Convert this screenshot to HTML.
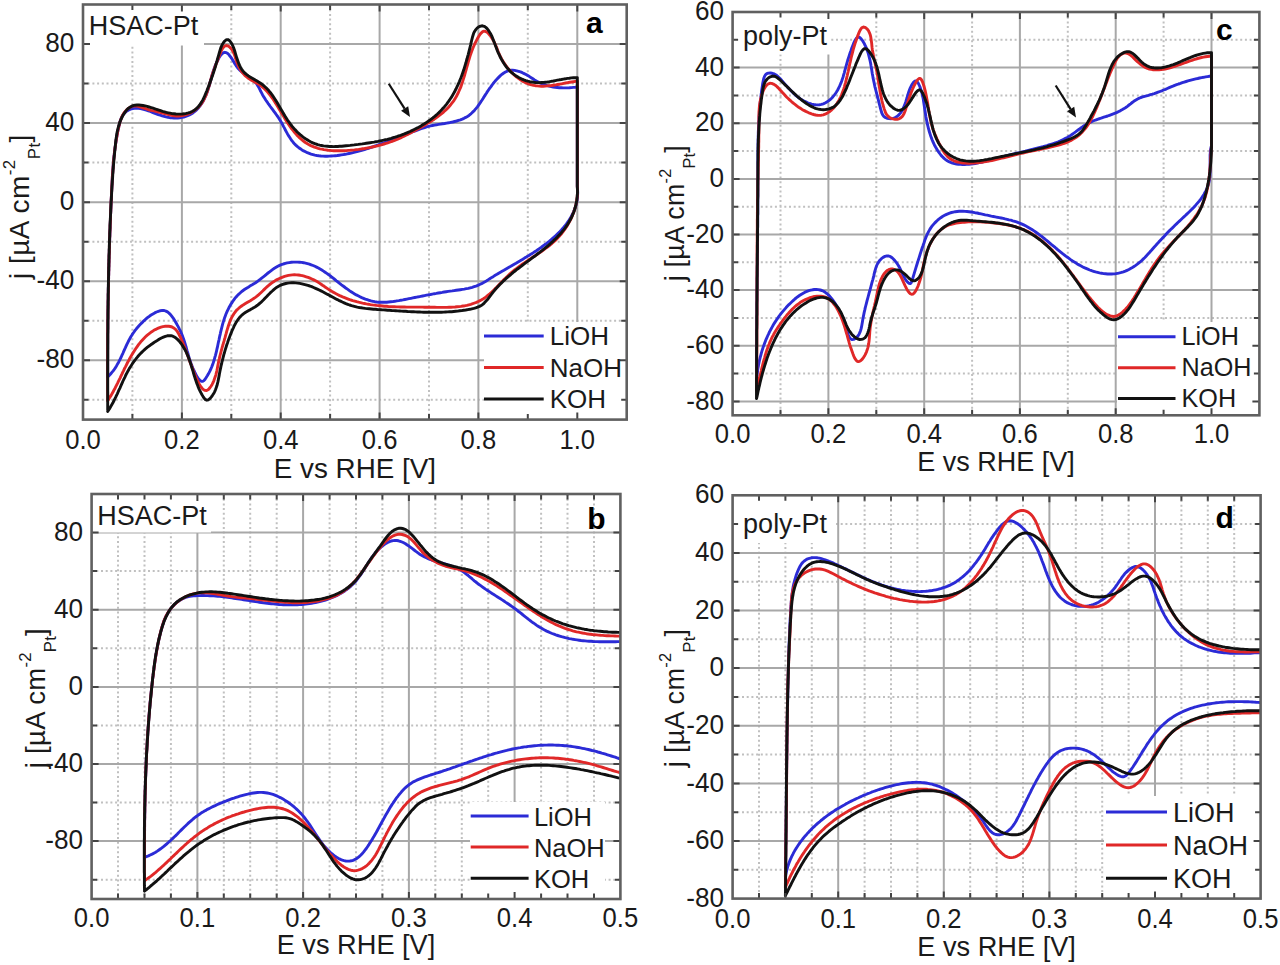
<!DOCTYPE html>
<html><head><meta charset="utf-8"><style>
html,body{margin:0;padding:0;background:#fff;}
svg{display:block;}
text{font-family:"Liberation Sans", sans-serif;fill:#1a1a1a;}
.tl{font-size:27px;}
.al{font-size:26.5px;}
.yl{font-size:26.5px;}
.nm{font-size:27px;}
.lt{font-size:30px;font-weight:bold;fill:#000;}
.lg{font-size:26px;}
.gs{stroke:#a8a8a8;stroke-width:2;}
.gd{stroke:#c0c0c0;stroke-width:2;stroke-dasharray:2 2.7;}
.tk{stroke:#444;stroke-width:2;fill:none;}
.fr{stroke:#606060;stroke-width:2.6;fill:none;}
.cv{fill:none;stroke-width:2.9;stroke-linejoin:round;stroke-linecap:round;}
</style></head><body>
<svg width="1280" height="965" viewBox="0 0 1280 965">
<path d="M132.4,4.5V419.6M231.3,4.5V419.6M330.1,4.5V419.6M429.0,4.5V419.6M527.8,4.5V419.6M83.0,399.8H626.7M83.0,320.8H626.7M83.0,241.7H626.7M83.0,162.6H626.7M83.0,83.6H626.7" class="gd"/>
<path d="M181.9,4.5V419.6M280.7,4.5V419.6M379.6,4.5V419.6M478.4,4.5V419.6M577.3,4.5V419.6M83.0,360.3H626.7M83.0,281.2H626.7M83.0,202.2H626.7M83.0,123.1H626.7M83.0,44.0H626.7" class="gs"/>
<rect x="83" y="4.5" width="121.0" height="41.0" fill="#fff"/>
<rect x="484" y="322" width="142.7" height="97.6" fill="#fff"/>
<clipPath id="clipa"><rect x="83.0" y="4.5" width="543.7" height="415.1"/></clipPath><g clip-path="url(#clipa)">
<path d="M107.7,376.9 107.7,374.9 107.7,372.9 107.7,370.9 107.7,368.9 107.7,366.9 107.7,364.9 107.7,362.9 107.6,360.9 107.6,358.9 107.6,356.9 107.6,354.9 107.6,352.9 107.6,350.8 107.7,348.8 107.7,346.8 107.7,344.8 107.7,342.8 107.7,340.8 107.7,338.8 107.7,336.8 107.7,334.8 107.7,332.8 107.7,330.8 107.8,328.8 107.8,326.7 107.8,324.7 107.8,322.7 107.8,320.7 107.9,318.7 107.9,316.7 107.9,314.7 107.9,312.7 108.0,310.7 108.0,308.6 108.0,306.6 108.1,304.6 108.1,302.6 108.1,300.6 108.2,298.6 108.2,296.6 108.2,294.6 108.3,292.5 108.3,290.5 108.3,288.5 108.4,286.5 108.4,284.5 108.5,282.5 108.5,280.5 108.6,278.5 108.6,276.4 108.7,274.4 108.7,272.4 108.8,270.4 108.8,268.4 108.9,266.4 108.9,264.4 109.0,262.4 109.0,260.4 109.1,258.3 109.1,256.3 109.2,254.3 109.3,252.3 109.3,250.3 109.4,248.3 109.5,246.3 109.5,244.3 109.6,242.3 109.7,240.3 109.7,238.3 109.8,236.2 109.9,234.2 109.9,232.2 110.0,230.2 110.1,228.2 110.2,226.2 110.2,224.2 110.3,222.2 110.4,220.2 110.5,218.2 110.5,216.2 110.6,214.2 110.7,212.2 110.8,210.2 110.9,208.2 111.0,206.2 111.1,204.2 111.1,202.2 111.2,200.2 111.3,198.2 111.4,196.2 111.5,194.2 111.6,192.2 111.7,190.2 111.8,188.2 111.9,186.2 112.0,184.2 112.1,182.2 112.2,180.2 112.3,178.2 112.4,176.2 112.6,174.2 112.7,172.2 112.8,170.2 113.0,168.2 113.1,166.2 113.3,164.2 113.5,162.2 113.6,160.2 113.8,158.2 114.0,156.2 114.3,154.2 114.5,152.2 114.7,150.2 115.0,148.2 115.3,146.2 115.6,144.2 115.9,142.2 116.2,140.2 116.5,138.2 116.9,136.2 117.2,134.1 117.6,132.1 118.0,130.1 118.5,128.1 118.9,126.1 119.4,124.1 119.9,122.1 120.5,120.2 121.2,118.3 122.1,116.6 123.0,114.9 124.2,113.4 125.5,112.1 127.0,110.9 128.8,109.9 130.6,109.2 132.6,108.6 134.6,108.3 136.5,108.2 138.5,108.3 140.5,108.6 142.5,109.0 144.5,109.5 146.4,110.1 148.4,110.8 150.4,111.5 152.4,112.3 154.3,113.1 156.3,113.8 158.3,114.6 160.2,115.2 162.2,115.9 164.1,116.4 166.1,116.9 168.0,117.3 170.0,117.7 171.9,117.9 173.9,118.0 175.9,118.1 177.8,118.0 179.8,117.7 181.8,117.4 183.8,117.0 185.7,116.4 187.6,115.7 189.4,114.9 191.2,113.9 192.9,112.9 194.5,111.7 196.0,110.4 197.4,109.0 198.8,107.5 200.0,105.9 201.2,104.2 202.3,102.5 203.3,100.7 204.3,98.9 205.1,97.0 206.0,95.1 206.7,93.2 207.4,91.4 208.0,89.5 208.6,87.6 209.2,85.7 209.7,83.8 210.2,81.9 210.8,80.0 211.3,78.1 211.8,76.2 212.3,74.3 212.9,72.4 213.5,70.4 214.2,68.5 214.9,66.5 215.7,64.5 216.6,62.5 217.6,60.5 218.6,58.5 219.7,56.6 220.9,54.9 222.2,53.6 223.5,52.7 224.9,52.3 226.3,52.6 227.7,53.5 229.0,54.8 230.3,56.5 231.6,58.3 232.8,60.2 233.9,62.1 235.0,64.0 236.2,65.8 237.4,67.5 238.7,69.0 240.1,70.4 241.5,71.6 243.0,72.8 244.6,74.0 246.3,75.1 248.0,76.3 249.6,77.4 251.3,78.6 252.8,79.8 254.3,81.2 255.7,82.6 256.9,84.2 257.9,85.9 258.9,87.6 259.8,89.4 260.7,91.3 261.7,93.1 262.6,94.9 263.6,96.6 264.7,98.3 265.7,100.0 266.9,101.7 268.0,103.3 269.2,104.9 270.3,106.5 271.5,108.1 272.7,109.7 273.9,111.3 275.1,112.9 276.2,114.5 277.4,116.2 278.5,117.8 279.6,119.5 280.7,121.3 281.7,123.0 282.7,124.8 283.6,126.6 284.6,128.4 285.5,130.3 286.5,132.1 287.5,133.9 288.5,135.6 289.6,137.3 290.7,139.0 291.8,140.6 293.1,142.2 294.4,143.7 295.8,145.1 297.2,146.4 298.8,147.7 300.4,148.8 302.0,149.9 303.7,150.9 305.5,151.8 307.3,152.7 309.2,153.4 311.1,154.1 313.0,154.6 314.9,155.1 316.9,155.5 319.0,155.8 321.0,156.0 323.0,156.1 325.1,156.2 327.1,156.2 329.2,156.1 331.2,156.0 333.3,155.9 335.3,155.7 337.3,155.5 339.3,155.2 341.3,154.9 343.3,154.6 345.2,154.3 347.2,153.9 349.1,153.5 351.1,153.1 353.0,152.6 354.9,152.2 356.9,151.7 358.8,151.1 360.7,150.6 362.6,150.0 364.5,149.5 366.4,148.9 368.3,148.3 370.2,147.6 372.1,147.0 374.0,146.3 375.9,145.7 377.8,145.0 379.7,144.3 381.6,143.7 383.5,143.0 385.4,142.3 387.3,141.6 389.2,140.8 391.1,140.1 393.0,139.4 394.9,138.7 396.7,138.0 398.6,137.3 400.5,136.5 402.4,135.8 404.3,135.1 406.1,134.4 408.0,133.7 409.9,132.9 411.7,132.2 413.6,131.5 415.4,130.8 417.3,130.1 419.1,129.4 421.0,128.7 422.8,128.1 424.7,127.5 426.6,126.9 428.5,126.4 430.5,125.9 432.5,125.5 434.5,125.1 436.5,124.8 438.5,124.4 440.6,124.1 442.6,123.8 444.6,123.5 446.7,123.1 448.7,122.8 450.7,122.4 452.7,122.0 454.7,121.5 456.6,121.0 458.5,120.4 460.4,119.8 462.2,119.1 464.0,118.3 465.7,117.4 467.4,116.4 469.0,115.4 470.5,114.2 472.0,112.8 473.4,111.4 474.8,109.9 476.1,108.4 477.4,106.8 478.6,105.1 479.8,103.4 480.9,101.7 482.1,100.0 483.2,98.3 484.2,96.6 485.3,94.9 486.4,93.3 487.4,91.6 488.5,90.0 489.6,88.4 490.8,86.8 492.0,85.1 493.2,83.5 494.5,81.9 495.9,80.3 497.4,78.6 498.9,77.1 500.4,75.6 502.1,74.2 503.8,73.0 505.5,72.0 507.3,71.2 509.1,70.6 511.0,70.3 512.8,70.3 514.7,70.4 516.7,70.8 518.6,71.3 520.5,71.9 522.3,72.7 524.2,73.6 526.0,74.5 527.8,75.6 529.5,76.6 531.2,77.7 532.9,78.8 534.6,79.9 536.3,80.9 538.0,81.9 539.8,82.8 541.6,83.7 543.5,84.4 545.4,85.1 547.3,85.7 549.2,86.2 551.2,86.6 553.2,87.0 555.2,87.3 557.2,87.5 559.3,87.7 561.3,87.8 563.3,87.9 565.4,87.9 567.4,87.9 569.4,87.8 571.4,87.6 573.4,87.4 575.3,87.2 577.3,86.9 577.3,186.4 577.5,188.5 577.6,190.6 577.7,192.7 577.6,194.8 577.5,196.8 577.3,198.8 577.0,200.8 576.6,202.8 576.1,204.7 575.6,206.6 574.9,208.4 574.2,210.2 573.5,212.0 572.7,213.8 571.8,215.5 570.8,217.3 569.8,218.9 568.8,220.6 567.6,222.2 566.5,223.8 565.3,225.4 564.0,227.0 562.7,228.5 561.4,230.0 560.0,231.5 558.6,232.9 557.1,234.3 555.6,235.7 554.1,237.1 552.6,238.4 551.0,239.8 549.5,241.1 547.9,242.3 546.3,243.6 544.6,244.8 543.0,246.0 541.4,247.2 539.7,248.4 538.1,249.5 536.4,250.7 534.7,251.8 533.0,252.9 531.3,253.9 529.7,255.0 528.0,256.1 526.3,257.1 524.5,258.1 522.8,259.2 521.1,260.2 519.4,261.2 517.7,262.2 516.0,263.2 514.2,264.2 512.5,265.2 510.8,266.2 509.0,267.2 507.3,268.2 505.6,269.2 503.9,270.2 502.1,271.2 500.4,272.2 498.7,273.2 497.0,274.3 495.2,275.3 493.5,276.4 491.8,277.4 490.1,278.5 488.4,279.6 486.7,280.7 485.0,281.7 483.2,282.7 481.5,283.7 479.7,284.5 477.8,285.4 476.0,286.1 474.1,286.7 472.2,287.3 470.2,287.8 468.3,288.3 466.3,288.7 464.3,289.1 462.3,289.4 460.3,289.7 458.3,290.0 456.2,290.3 454.2,290.6 452.2,290.9 450.2,291.1 448.2,291.4 446.2,291.7 444.2,292.0 442.2,292.4 440.3,292.7 438.3,293.0 436.3,293.4 434.4,293.7 432.4,294.1 430.5,294.5 428.5,294.8 426.5,295.2 424.6,295.6 422.6,296.0 420.7,296.4 418.7,296.8 416.8,297.1 414.8,297.5 412.8,297.9 410.9,298.3 408.9,298.7 406.9,299.1 404.9,299.5 402.9,299.9 400.9,300.2 398.9,300.6 396.8,300.9 394.8,301.3 392.8,301.6 390.7,301.8 388.7,302.0 386.7,302.2 384.7,302.3 382.7,302.3 380.7,302.3 378.7,302.2 376.7,302.0 374.8,301.7 372.9,301.3 371.0,300.9 369.1,300.3 367.2,299.7 365.3,299.1 363.5,298.3 361.7,297.6 359.9,296.7 358.1,295.8 356.3,294.9 354.6,293.9 352.8,292.8 351.1,291.7 349.4,290.6 347.8,289.4 346.1,288.3 344.5,287.0 342.8,285.8 341.2,284.6 339.6,283.3 338.0,282.0 336.4,280.8 334.8,279.5 333.2,278.2 331.6,277.0 330.0,275.7 328.4,274.5 326.8,273.4 325.1,272.2 323.5,271.1 321.8,270.0 320.1,269.0 318.4,268.0 316.6,267.1 314.9,266.3 313.1,265.5 311.2,264.8 309.4,264.1 307.5,263.6 305.5,263.1 303.6,262.7 301.6,262.4 299.5,262.2 297.5,262.1 295.4,262.1 293.3,262.1 291.3,262.3 289.3,262.6 287.2,262.9 285.3,263.4 283.3,264.0 281.4,264.7 279.6,265.4 277.8,266.3 276.1,267.3 274.4,268.3 272.8,269.4 271.2,270.6 269.6,271.8 268.0,273.0 266.4,274.3 264.9,275.6 263.3,276.9 261.7,278.1 260.1,279.4 258.5,280.6 256.9,281.8 255.2,283.0 253.4,284.0 251.7,285.1 249.9,286.1 248.2,287.2 246.5,288.2 244.8,289.3 243.1,290.5 241.6,291.7 240.1,293.0 238.6,294.3 237.2,295.7 235.9,297.2 234.7,298.7 233.5,300.3 232.4,301.9 231.3,303.6 230.3,305.3 229.3,307.0 228.4,308.8 227.5,310.6 226.7,312.4 225.9,314.3 225.2,316.2 224.5,318.1 223.9,320.0 223.3,321.9 222.7,323.9 222.2,325.8 221.7,327.8 221.2,329.8 220.7,331.8 220.3,333.8 219.8,335.8 219.4,337.8 219.0,339.8 218.5,341.8 218.1,343.7 217.7,345.7 217.3,347.7 216.8,349.7 216.4,351.7 215.9,353.6 215.4,355.6 214.8,357.5 214.3,359.5 213.7,361.4 213.1,363.3 212.4,365.1 211.7,367.0 210.9,368.8 210.1,370.6 209.2,372.4 208.3,374.1 207.3,375.8 206.2,377.5 205.1,379.2 203.9,380.6 202.7,381.4 201.4,381.3 200.0,380.5 198.7,379.0 197.3,377.1 196.1,374.8 194.9,372.5 193.8,370.2 192.8,368.0 192.0,365.9 191.2,364.0 190.5,362.1 189.9,360.2 189.3,358.4 188.8,356.6 188.3,354.8 187.8,353.0 187.2,351.2 186.7,349.3 186.2,347.3 185.6,345.4 185.0,343.4 184.4,341.5 183.8,339.6 183.1,337.7 182.4,335.8 181.7,334.0 180.9,332.2 180.1,330.4 179.2,328.7 178.3,326.9 177.3,325.1 176.3,323.3 175.3,321.5 174.1,319.6 173.0,317.8 171.7,316.1 170.4,314.5 169.0,313.1 167.5,311.9 165.9,311.1 164.2,310.5 162.3,310.4 160.4,310.7 158.4,311.3 156.5,312.0 154.7,312.9 152.9,313.9 151.1,315.0 149.5,316.2 147.8,317.4 146.3,318.7 144.7,320.1 143.2,321.4 141.8,322.9 140.4,324.3 139.0,325.8 137.7,327.3 136.4,328.8 135.1,330.4 134.0,332.0 132.8,333.6 131.8,335.3 130.7,337.0 129.8,338.7 128.8,340.5 127.9,342.3 127.0,344.1 126.2,345.9 125.4,347.7 124.5,349.6 123.7,351.4 122.9,353.3 122.0,355.1 121.2,357.0 120.3,358.8 119.4,360.6 118.5,362.4 117.5,364.1 116.5,365.9 115.5,367.6 114.4,369.2 113.2,370.9 111.9,372.4 110.6,374.0 109.2,375.5 107.7,376.9" stroke="#2b2bd6" class="cv"/>
<path d="M107.7,400.8 107.7,398.8 107.7,396.8 107.7,394.8 107.7,392.8 107.6,390.8 107.6,388.8 107.6,386.8 107.6,384.8 107.6,382.8 107.6,380.8 107.6,378.8 107.6,376.7 107.6,374.7 107.6,372.7 107.6,370.7 107.6,368.7 107.6,366.7 107.6,364.7 107.6,362.7 107.6,360.7 107.6,358.7 107.6,356.7 107.6,354.7 107.6,352.7 107.6,350.7 107.6,348.6 107.6,346.6 107.6,344.6 107.7,342.6 107.7,340.6 107.7,338.6 107.7,336.6 107.7,334.6 107.7,332.6 107.7,330.6 107.8,328.6 107.8,326.6 107.8,324.5 107.8,322.5 107.9,320.5 107.9,318.5 107.9,316.5 107.9,314.5 108.0,312.5 108.0,310.5 108.0,308.5 108.0,306.5 108.1,304.5 108.1,302.5 108.1,300.4 108.2,298.4 108.2,296.4 108.2,294.4 108.3,292.4 108.3,290.4 108.4,288.4 108.4,286.4 108.4,284.4 108.5,282.4 108.5,280.4 108.6,278.4 108.6,276.4 108.7,274.3 108.7,272.3 108.8,270.3 108.8,268.3 108.9,266.3 108.9,264.3 109.0,262.3 109.0,260.3 109.1,258.3 109.1,256.3 109.2,254.3 109.3,252.3 109.3,250.3 109.4,248.2 109.4,246.2 109.5,244.2 109.6,242.2 109.6,240.2 109.7,238.2 109.8,236.2 109.8,234.2 109.9,232.2 110.0,230.2 110.1,228.2 110.1,226.2 110.2,224.2 110.3,222.2 110.4,220.2 110.4,218.2 110.5,216.1 110.6,214.1 110.7,212.1 110.8,210.1 110.9,208.1 110.9,206.1 111.0,204.1 111.1,202.1 111.2,200.1 111.3,198.1 111.4,196.1 111.5,194.1 111.6,192.1 111.7,190.1 111.8,188.1 111.9,186.1 112.0,184.1 112.1,182.1 112.2,180.1 112.3,178.1 112.4,176.1 112.6,174.1 112.7,172.1 112.9,170.1 113.0,168.1 113.2,166.1 113.3,164.1 113.5,162.1 113.7,160.1 113.9,158.1 114.1,156.1 114.3,154.1 114.5,152.1 114.8,150.1 115.0,148.1 115.3,146.1 115.6,144.1 115.9,142.1 116.2,140.1 116.5,138.2 116.9,136.2 117.3,134.2 117.6,132.2 118.0,130.2 118.5,128.2 118.9,126.2 119.4,124.3 119.9,122.3 120.5,120.4 121.2,118.5 121.9,116.7 122.8,114.9 123.8,113.2 125.0,111.7 126.3,110.2 127.8,108.8 129.5,107.6 131.3,106.7 133.2,106.1 135.1,105.9 137.1,106.1 139.1,106.5 141.1,107.1 143.1,107.8 145.1,108.5 147.1,109.2 149.0,109.8 151.0,110.3 152.9,110.7 154.8,111.1 156.7,111.5 158.7,112.0 160.6,112.5 162.6,113.1 164.6,113.7 166.6,114.2 168.6,114.7 170.5,115.2 172.6,115.6 174.6,115.8 176.6,116.0 178.6,116.0 180.5,115.8 182.5,115.5 184.5,115.1 186.4,114.5 188.2,113.9 190.0,113.1 191.8,112.2 193.5,111.1 195.1,110.0 196.7,108.7 198.2,107.4 199.5,106.0 200.8,104.4 202.0,102.8 203.1,101.1 204.0,99.4 204.9,97.5 205.8,95.7 206.5,93.7 207.2,91.8 207.9,89.8 208.5,87.9 209.1,85.9 209.6,83.9 210.2,81.9 210.7,80.0 211.2,78.1 211.8,76.3 212.3,74.5 212.9,72.7 213.5,70.9 214.2,69.2 214.8,67.4 215.5,65.6 216.2,63.7 217.0,61.8 217.8,59.7 218.6,57.6 219.5,55.3 220.4,53.0 221.3,50.7 222.4,48.7 223.6,47.1 224.8,46.0 226.2,45.5 227.7,45.8 229.3,46.8 230.7,48.2 232.0,49.8 233.0,51.6 233.9,53.5 234.7,55.4 235.3,57.4 236.0,59.4 236.6,61.4 237.3,63.4 238.1,65.3 238.9,67.1 239.9,68.9 240.9,70.5 242.0,72.1 243.3,73.6 244.6,75.1 246.0,76.4 247.6,77.7 249.2,78.8 251.0,79.9 252.8,80.9 254.7,81.9 256.5,82.9 258.2,83.9 259.9,85.0 261.4,86.2 263.0,87.5 264.4,88.8 265.8,90.1 267.1,91.6 268.4,93.0 269.6,94.5 270.8,96.1 271.9,97.6 273.1,99.2 274.2,100.9 275.2,102.6 276.3,104.3 277.3,106.0 278.4,107.7 279.4,109.5 280.5,111.3 281.5,113.0 282.6,114.8 283.7,116.6 284.8,118.4 285.9,120.2 287.0,122.0 288.1,123.7 289.3,125.4 290.5,127.1 291.7,128.8 293.0,130.4 294.3,132.0 295.6,133.6 296.9,135.1 298.3,136.5 299.7,137.9 301.2,139.2 302.7,140.5 304.2,141.7 305.8,142.8 307.4,143.8 309.1,144.7 310.8,145.6 312.6,146.3 314.4,147.1 316.2,147.7 318.1,148.3 319.9,148.8 321.9,149.2 323.8,149.6 325.8,149.9 327.8,150.2 329.8,150.4 331.8,150.6 333.8,150.7 335.9,150.8 337.9,150.8 340.0,150.8 342.1,150.7 344.2,150.7 346.2,150.6 348.3,150.4 350.4,150.3 352.4,150.1 354.5,149.9 356.5,149.6 358.6,149.4 360.6,149.1 362.6,148.8 364.6,148.5 366.6,148.1 368.6,147.8 370.5,147.4 372.5,147.0 374.4,146.5 376.4,146.1 378.3,145.6 380.2,145.1 382.1,144.6 384.0,144.0 385.9,143.4 387.8,142.8 389.7,142.2 391.5,141.5 393.3,140.9 395.2,140.1 397.0,139.4 398.8,138.6 400.6,137.8 402.4,137.0 404.1,136.2 405.9,135.3 407.7,134.4 409.4,133.5 411.2,132.6 412.9,131.6 414.7,130.7 416.5,129.7 418.3,128.7 420.1,127.8 421.9,126.8 423.7,125.7 425.4,124.7 427.2,123.6 429.0,122.6 430.7,121.5 432.5,120.3 434.2,119.2 435.8,118.0 437.5,116.8 439.1,115.6 440.7,114.4 442.3,113.1 443.8,111.8 445.3,110.4 446.7,109.1 448.1,107.7 449.4,106.2 450.7,104.7 451.9,103.2 453.1,101.7 454.2,100.1 455.2,98.4 456.2,96.8 457.1,95.0 458.0,93.3 458.8,91.5 459.6,89.7 460.4,87.9 461.1,86.1 461.7,84.2 462.4,82.3 463.0,80.4 463.6,78.4 464.2,76.5 464.8,74.5 465.3,72.6 465.9,70.6 466.4,68.6 467.0,66.6 467.6,64.6 468.1,62.7 468.7,60.7 469.3,58.7 469.9,56.7 470.5,54.7 471.2,52.8 471.9,50.8 472.6,48.9 473.4,47.0 474.2,45.1 475.1,43.2 476.0,41.4 476.9,39.6 477.9,37.8 479.0,36.0 480.1,34.3 481.4,32.8 482.7,31.7 484.0,31.2 485.5,31.4 487.1,32.3 488.6,33.7 490.1,35.5 491.4,37.4 492.6,39.2 493.7,41.1 494.6,43.0 495.4,44.8 496.2,46.6 496.9,48.4 497.6,50.2 498.3,52.0 499.1,53.8 499.9,55.6 500.8,57.3 501.7,59.1 502.7,60.9 503.8,62.6 505.0,64.3 506.1,66.0 507.4,67.6 508.7,69.2 510.0,70.8 511.4,72.3 512.9,73.7 514.4,75.1 515.9,76.5 517.5,77.7 519.1,78.9 520.8,80.0 522.5,81.1 524.2,82.0 526.0,82.9 527.8,83.7 529.7,84.3 531.5,84.9 533.4,85.3 535.4,85.7 537.3,85.9 539.3,86.1 541.3,86.2 543.3,86.2 545.3,86.1 547.4,85.9 549.4,85.7 551.5,85.5 553.5,85.2 555.6,84.9 557.6,84.5 559.7,84.2 561.7,83.8 563.7,83.4 565.7,83.0 567.7,82.6 569.7,82.3 571.6,82.0 573.5,81.7 575.4,81.4 577.3,81.2 577.3,186.4 577.4,188.4 577.5,190.4 577.5,192.4 577.4,194.4 577.3,196.4 577.0,198.4 576.8,200.3 576.4,202.3 576.0,204.3 575.5,206.3 575.0,208.2 574.4,210.1 573.8,212.0 573.0,213.9 572.3,215.8 571.5,217.7 570.6,219.5 569.7,221.3 568.7,223.1 567.7,224.9 566.6,226.6 565.5,228.3 564.3,230.0 563.1,231.6 561.9,233.2 560.6,234.7 559.3,236.3 557.9,237.7 556.5,239.2 555.1,240.6 553.6,241.9 552.1,243.3 550.6,244.5 549.1,245.8 547.5,247.0 545.9,248.2 544.3,249.4 542.7,250.6 541.1,251.7 539.4,252.9 537.7,254.0 536.1,255.1 534.4,256.2 532.7,257.3 531.0,258.4 529.3,259.5 527.7,260.7 526.0,261.8 524.3,262.9 522.6,264.0 521.0,265.2 519.3,266.4 517.7,267.6 516.1,268.8 514.5,270.0 512.9,271.3 511.4,272.6 509.9,273.9 508.4,275.3 506.9,276.7 505.4,278.2 504.0,279.6 502.6,281.1 501.2,282.5 499.7,284.0 498.3,285.5 496.9,287.0 495.5,288.4 494.1,289.8 492.6,291.2 491.2,292.6 489.7,293.9 488.1,295.2 486.6,296.4 485.0,297.6 483.4,298.7 481.7,299.7 480.0,300.6 478.2,301.5 476.4,302.3 474.6,303.0 472.7,303.7 470.8,304.3 468.9,304.8 466.9,305.3 465.0,305.7 463.0,306.0 461.0,306.4 459.0,306.6 457.0,306.8 455.0,307.0 453.0,307.1 451.0,307.3 449.0,307.3 447.0,307.4 444.9,307.4 442.9,307.4 440.9,307.4 438.9,307.4 436.8,307.4 434.8,307.3 432.8,307.3 430.7,307.2 428.7,307.2 426.7,307.2 424.6,307.2 422.6,307.1 420.6,307.1 418.6,307.1 416.6,307.1 414.5,307.1 412.5,307.1 410.5,307.1 408.5,307.1 406.5,307.1 404.5,307.0 402.5,307.0 400.5,307.0 398.5,306.9 396.4,306.9 394.4,306.8 392.4,306.7 390.4,306.6 388.4,306.5 386.4,306.3 384.4,306.2 382.4,306.0 380.4,305.8 378.4,305.6 376.4,305.4 374.4,305.1 372.4,304.9 370.4,304.6 368.4,304.2 366.4,303.9 364.4,303.5 362.5,303.1 360.5,302.6 358.6,302.2 356.6,301.7 354.7,301.1 352.7,300.6 350.8,300.0 348.9,299.3 347.0,298.6 345.2,297.9 343.3,297.2 341.5,296.4 339.7,295.6 337.9,294.7 336.1,293.8 334.3,292.8 332.6,291.9 330.9,290.8 329.2,289.7 327.5,288.6 325.8,287.5 324.2,286.3 322.5,285.2 320.8,284.0 319.1,282.9 317.4,281.8 315.6,280.8 313.8,279.9 311.9,279.0 310.0,278.2 308.1,277.4 306.2,276.8 304.2,276.2 302.3,275.7 300.3,275.3 298.3,275.0 296.3,274.9 294.4,274.8 292.4,274.9 290.4,275.1 288.4,275.4 286.5,275.9 284.6,276.4 282.7,277.1 280.8,277.8 278.9,278.7 277.1,279.6 275.3,280.6 273.6,281.7 271.9,282.8 270.3,284.0 268.7,285.3 267.2,286.6 265.7,288.0 264.3,289.4 262.9,290.8 261.4,292.2 260.0,293.5 258.5,294.9 257.0,296.2 255.4,297.4 253.7,298.5 252.0,299.6 250.3,300.7 248.5,301.7 246.7,302.8 245.0,303.8 243.2,304.9 241.6,306.0 240.0,307.2 238.5,308.5 237.0,309.8 235.7,311.3 234.6,312.8 233.5,314.4 232.5,316.1 231.5,317.9 230.7,319.7 229.9,321.6 229.2,323.5 228.5,325.5 227.9,327.5 227.3,329.4 226.7,331.4 226.2,333.4 225.6,335.4 225.1,337.4 224.5,339.3 224.0,341.2 223.4,343.1 222.9,345.0 222.3,346.9 221.8,348.8 221.3,350.7 220.8,352.6 220.3,354.5 219.8,356.4 219.4,358.4 218.9,360.4 218.5,362.4 218.1,364.4 217.7,366.4 217.3,368.5 216.9,370.5 216.4,372.6 215.9,374.6 215.3,376.6 214.6,378.6 213.9,380.6 213.1,382.5 212.1,384.4 211.0,386.2 209.9,387.8 208.7,389.2 207.4,390.1 206.2,390.5 204.9,390.4 203.7,389.8 202.5,388.7 201.3,387.3 200.1,385.6 199.0,383.6 197.9,381.5 196.8,379.2 195.8,376.8 194.8,374.5 193.9,372.2 193.1,370.0 192.2,367.9 191.5,365.8 190.7,363.9 190.0,362.0 189.3,360.1 188.7,358.3 188.0,356.5 187.4,354.7 186.7,353.0 186.1,351.2 185.4,349.4 184.7,347.6 184.0,345.8 183.2,343.9 182.5,342.0 181.6,340.0 180.8,338.0 179.8,336.0 178.8,334.1 177.7,332.2 176.5,330.5 175.2,329.1 173.7,327.9 172.1,327.0 170.4,326.5 168.6,326.2 166.8,326.1 164.8,326.3 162.9,326.7 161.0,327.2 159.0,327.9 157.1,328.7 155.3,329.6 153.5,330.6 151.8,331.7 150.2,332.9 148.6,334.1 147.0,335.4 145.5,336.8 144.1,338.2 142.7,339.7 141.3,341.2 140.0,342.8 138.7,344.4 137.5,346.1 136.3,347.8 135.2,349.5 134.1,351.2 133.0,352.9 131.9,354.7 130.9,356.4 129.9,358.2 129.0,360.0 128.0,361.7 127.1,363.5 126.2,365.3 125.3,367.1 124.4,368.8 123.6,370.6 122.7,372.4 121.9,374.2 121.0,376.0 120.2,377.8 119.3,379.6 118.4,381.4 117.6,383.1 116.7,384.9 115.8,386.7 114.9,388.5 113.9,390.3 113.0,392.0 112.0,393.8 111.0,395.6 109.9,397.3 108.8,399.1 107.7,400.8" stroke="#e02828" class="cv"/>
<path d="M107.7,410.3 107.7,408.3 107.7,406.3 107.7,404.3 107.7,402.3 107.7,400.3 107.7,398.3 107.7,396.3 107.7,394.3 107.7,392.3 107.7,390.3 107.7,388.3 107.7,386.3 107.7,384.3 107.7,382.2 107.7,380.2 107.7,378.2 107.7,376.2 107.7,374.2 107.7,372.2 107.7,370.2 107.7,368.2 107.7,366.2 107.7,364.2 107.7,362.2 107.7,360.2 107.8,358.2 107.8,356.2 107.8,354.2 107.8,352.2 107.8,350.2 107.8,348.2 107.8,346.2 107.8,344.1 107.8,342.1 107.8,340.1 107.8,338.1 107.8,336.1 107.8,334.1 107.9,332.1 107.9,330.1 107.9,328.1 107.9,326.1 107.9,324.1 107.9,322.1 107.9,320.1 108.0,318.1 108.0,316.1 108.0,314.1 108.0,312.1 108.0,310.1 108.1,308.0 108.1,306.0 108.1,304.0 108.1,302.0 108.2,300.0 108.2,298.0 108.2,296.0 108.2,294.0 108.3,292.0 108.3,290.0 108.3,288.0 108.4,286.0 108.4,284.0 108.4,282.0 108.5,280.0 108.5,278.0 108.6,276.0 108.6,274.0 108.6,271.9 108.7,269.9 108.7,267.9 108.8,265.9 108.8,263.9 108.9,261.9 108.9,259.9 109.0,257.9 109.0,255.9 109.1,253.9 109.2,251.9 109.2,249.9 109.3,247.9 109.3,245.9 109.4,243.9 109.5,241.9 109.5,239.9 109.6,237.9 109.7,235.9 109.7,233.9 109.8,231.9 109.9,229.9 110.0,227.9 110.0,225.8 110.1,223.8 110.2,221.8 110.3,219.8 110.4,217.8 110.5,215.8 110.6,213.8 110.7,211.8 110.7,209.8 110.8,207.8 110.9,205.8 111.0,203.8 111.1,201.8 111.3,199.8 111.4,197.8 111.5,195.8 111.6,193.8 111.7,191.8 111.8,189.8 111.9,187.8 112.0,185.8 112.2,183.8 112.3,181.8 112.4,179.8 112.6,177.8 112.7,175.8 112.8,173.8 113.0,171.8 113.1,169.8 113.3,167.8 113.4,165.8 113.6,163.8 113.8,161.8 113.9,159.8 114.1,157.8 114.3,155.8 114.5,153.8 114.7,151.8 114.9,149.8 115.1,147.8 115.3,145.8 115.5,143.8 115.7,141.8 115.9,139.8 116.2,137.9 116.5,135.9 116.8,133.9 117.2,131.9 117.6,130.0 118.1,128.0 118.6,126.1 119.2,124.2 119.8,122.3 120.6,120.4 121.4,118.5 122.3,116.7 123.3,114.8 124.4,113.1 125.6,111.4 126.8,109.9 128.2,108.5 129.8,107.3 131.4,106.4 133.1,105.6 134.9,105.2 136.9,105.0 138.9,105.0 140.9,105.2 143.0,105.5 145.1,105.9 147.1,106.4 149.1,107.0 151.1,107.6 153.1,108.2 155.0,108.8 156.9,109.5 158.8,110.1 160.6,110.7 162.5,111.3 164.4,111.8 166.3,112.4 168.2,112.8 170.1,113.2 172.0,113.6 174.0,113.8 176.0,114.0 178.1,114.1 180.2,114.1 182.3,114.0 184.3,113.8 186.4,113.4 188.4,112.9 190.3,112.3 192.1,111.5 193.8,110.6 195.4,109.5 196.9,108.2 198.2,106.8 199.5,105.3 200.6,103.6 201.7,101.9 202.7,100.1 203.6,98.3 204.5,96.4 205.3,94.5 206.1,92.6 206.9,90.7 207.6,88.8 208.4,86.9 209.1,85.1 209.7,83.2 210.4,81.4 211.1,79.6 211.7,77.7 212.4,75.9 213.0,74.1 213.6,72.2 214.2,70.3 214.8,68.5 215.4,66.6 215.9,64.7 216.5,62.7 217.1,60.7 217.6,58.7 218.2,56.7 218.8,54.6 219.4,52.5 220.0,50.5 220.6,48.4 221.4,46.4 222.3,44.6 223.3,42.9 224.4,41.4 225.7,40.2 227.1,39.6 228.5,39.8 229.8,40.9 231.0,42.5 232.0,44.2 232.9,46.1 233.7,48.0 234.4,50.0 235.0,52.0 235.6,54.1 236.2,56.1 236.8,58.1 237.5,60.1 238.2,62.0 238.9,63.9 239.7,65.7 240.6,67.5 241.6,69.1 242.7,70.7 243.9,72.1 245.3,73.5 246.8,74.7 248.4,75.9 250.1,77.0 251.8,78.0 253.6,79.1 255.3,80.1 257.1,81.1 258.9,82.2 260.6,83.3 262.2,84.4 263.7,85.7 265.2,87.0 266.6,88.3 268.0,89.7 269.2,91.2 270.5,92.7 271.7,94.3 272.8,95.9 273.9,97.5 275.0,99.2 276.1,100.9 277.1,102.6 278.1,104.3 279.1,106.1 280.1,107.8 281.1,109.6 282.2,111.3 283.2,113.1 284.2,114.8 285.3,116.6 286.4,118.3 287.5,120.0 288.7,121.7 289.9,123.3 291.1,125.0 292.4,126.6 293.7,128.1 295.0,129.6 296.4,131.1 297.8,132.5 299.3,133.8 300.8,135.2 302.3,136.4 303.9,137.6 305.5,138.7 307.2,139.8 308.8,140.8 310.5,141.7 312.3,142.6 314.1,143.3 315.9,144.0 317.7,144.6 319.6,145.1 321.5,145.5 323.5,145.9 325.5,146.1 327.5,146.3 329.5,146.5 331.5,146.5 333.5,146.6 335.6,146.5 337.7,146.5 339.8,146.3 341.8,146.2 343.9,146.0 346.0,145.8 348.1,145.6 350.1,145.4 352.2,145.1 354.2,144.9 356.3,144.6 358.3,144.4 360.3,144.1 362.3,143.9 364.3,143.6 366.2,143.3 368.2,143.0 370.1,142.7 372.1,142.4 374.0,142.1 375.9,141.7 377.9,141.4 379.8,141.0 381.7,140.6 383.6,140.2 385.5,139.7 387.4,139.3 389.3,138.8 391.2,138.3 393.1,137.7 395.0,137.2 396.8,136.6 398.7,135.9 400.6,135.3 402.5,134.6 404.4,133.9 406.3,133.1 408.1,132.3 410.0,131.5 411.9,130.6 413.7,129.7 415.6,128.8 417.4,127.9 419.2,126.9 421.0,125.9 422.7,124.8 424.5,123.7 426.2,122.6 427.9,121.5 429.6,120.3 431.2,119.1 432.8,117.9 434.4,116.6 435.9,115.3 437.4,114.0 438.9,112.6 440.3,111.2 441.7,109.8 443.0,108.3 444.3,106.9 445.6,105.3 446.8,103.8 448.0,102.2 449.1,100.6 450.2,99.0 451.3,97.4 452.3,95.7 453.3,94.0 454.3,92.3 455.2,90.5 456.1,88.8 456.9,87.0 457.8,85.2 458.6,83.4 459.4,81.6 460.1,79.7 460.9,77.8 461.6,76.0 462.3,74.1 462.9,72.2 463.6,70.3 464.2,68.3 464.8,66.4 465.4,64.4 466.0,62.5 466.5,60.5 467.1,58.5 467.6,56.6 468.2,54.6 468.7,52.6 469.2,50.6 469.7,48.6 470.2,46.6 470.7,44.6 471.1,42.6 471.6,40.7 472.1,38.7 472.6,36.7 473.2,34.8 473.8,32.9 474.7,31.2 475.8,29.6 477.1,28.1 478.7,26.9 480.6,26.1 482.4,25.8 484.2,26.3 485.8,27.4 487.3,28.9 488.7,30.7 489.8,32.5 490.9,34.3 491.8,36.2 492.6,38.0 493.3,39.9 494.0,41.7 494.7,43.5 495.4,45.4 496.1,47.3 496.8,49.1 497.5,51.0 498.3,52.9 499.2,54.7 500.0,56.5 500.9,58.3 501.9,60.1 502.9,61.8 504.0,63.5 505.1,65.2 506.3,66.8 507.5,68.4 508.9,69.8 510.2,71.3 511.7,72.6 513.3,73.9 514.9,75.1 516.6,76.2 518.3,77.3 520.1,78.2 522.0,79.1 523.8,79.9 525.8,80.6 527.7,81.2 529.6,81.7 531.6,82.0 533.6,82.3 535.6,82.5 537.6,82.6 539.5,82.6 541.5,82.5 543.5,82.4 545.5,82.2 547.5,82.0 549.5,81.7 551.5,81.3 553.4,81.0 555.4,80.6 557.4,80.2 559.4,79.8 561.4,79.5 563.4,79.1 565.4,78.8 567.4,78.4 569.3,78.2 571.3,77.9 573.3,77.8 575.3,77.7 577.3,77.6 577.3,186.4 577.4,188.3 577.5,190.2 577.5,192.2 577.4,194.2 577.2,196.2 577.0,198.2 576.8,200.2 576.4,202.3 576.0,204.3 575.5,206.3 575.0,208.3 574.4,210.2 573.7,212.2 572.9,214.1 572.2,215.9 571.3,217.8 570.4,219.6 569.4,221.3 568.4,223.1 567.4,224.7 566.2,226.4 565.1,228.0 563.9,229.6 562.6,231.1 561.4,232.7 560.0,234.2 558.7,235.6 557.3,237.1 555.9,238.5 554.4,239.9 553.0,241.3 551.5,242.6 550.0,244.0 548.4,245.3 546.9,246.6 545.4,247.8 543.8,249.1 542.2,250.4 540.6,251.6 539.0,252.8 537.4,254.0 535.8,255.3 534.2,256.5 532.6,257.7 531.0,258.9 529.4,260.1 527.8,261.3 526.2,262.4 524.6,263.6 523.0,264.8 521.4,266.1 519.8,267.3 518.2,268.5 516.6,269.7 515.0,271.0 513.5,272.2 511.9,273.5 510.4,274.8 508.9,276.1 507.4,277.4 505.9,278.7 504.4,280.1 502.9,281.5 501.5,282.9 500.1,284.3 498.7,285.8 497.3,287.3 495.9,288.8 494.6,290.3 493.3,291.9 492.0,293.5 490.8,295.2 489.5,296.9 488.3,298.5 487.0,300.1 485.6,301.6 484.2,303.1 482.8,304.4 481.2,305.5 479.5,306.4 477.6,307.2 475.7,307.9 473.8,308.4 471.8,308.8 469.8,309.3 467.8,309.6 465.7,310.0 463.7,310.3 461.7,310.6 459.7,310.8 457.7,311.1 455.7,311.3 453.7,311.5 451.7,311.7 449.6,311.8 447.6,311.9 445.6,312.0 443.6,312.1 441.6,312.2 439.6,312.3 437.6,312.3 435.6,312.3 433.6,312.3 431.6,312.3 429.6,312.3 427.6,312.3 425.6,312.2 423.6,312.2 421.6,312.1 419.6,312.0 417.6,312.0 415.6,311.9 413.6,311.8 411.6,311.7 409.6,311.6 407.6,311.5 405.6,311.3 403.6,311.2 401.6,311.1 399.7,311.0 397.7,310.9 395.7,310.7 393.7,310.6 391.6,310.5 389.6,310.3 387.6,310.2 385.6,310.0 383.6,309.9 381.6,309.8 379.5,309.6 377.5,309.5 375.4,309.3 373.4,309.2 371.4,309.0 369.3,308.8 367.3,308.6 365.3,308.4 363.2,308.1 361.2,307.8 359.3,307.5 357.3,307.1 355.3,306.6 353.4,306.1 351.5,305.6 349.6,305.0 347.7,304.3 345.9,303.6 344.1,302.8 342.3,302.0 340.5,301.1 338.7,300.3 336.9,299.4 335.1,298.4 333.4,297.5 331.6,296.5 329.9,295.6 328.1,294.6 326.3,293.7 324.5,292.7 322.8,291.8 321.0,290.9 319.2,290.0 317.3,289.1 315.5,288.3 313.6,287.5 311.7,286.7 309.8,286.0 307.9,285.4 305.9,284.8 303.9,284.3 301.9,283.8 299.8,283.4 297.8,283.1 295.7,282.9 293.7,282.8 291.7,282.8 289.7,282.9 287.7,283.1 285.8,283.5 283.9,284.0 282.0,284.6 280.3,285.3 278.6,286.2 276.9,287.2 275.3,288.4 273.8,289.6 272.3,291.0 270.8,292.3 269.4,293.8 267.9,295.3 266.5,296.8 265.0,298.3 263.6,299.8 262.1,301.2 260.6,302.7 259.0,304.0 257.4,305.3 255.7,306.5 254.0,307.6 252.3,308.6 250.5,309.6 248.7,310.5 247.0,311.5 245.3,312.5 243.7,313.6 242.2,314.8 240.8,316.2 239.5,317.6 238.3,319.1 237.2,320.7 236.1,322.4 235.1,324.2 234.2,325.9 233.4,327.8 232.5,329.6 231.7,331.5 231.0,333.4 230.2,335.3 229.5,337.2 228.8,339.1 228.1,341.0 227.5,342.9 226.8,344.8 226.2,346.7 225.6,348.7 225.0,350.6 224.5,352.5 223.9,354.4 223.4,356.4 222.9,358.3 222.4,360.3 221.9,362.2 221.5,364.2 221.0,366.1 220.6,368.1 220.2,370.0 219.8,372.0 219.4,374.0 219.1,375.9 218.7,377.9 218.3,379.9 217.9,381.9 217.4,383.8 216.9,385.8 216.2,387.7 215.5,389.7 214.7,391.6 213.7,393.5 212.5,395.3 211.2,397.1 209.8,398.7 208.3,399.8 206.9,400.2 205.5,399.6 204.2,398.3 203.1,396.6 202.0,394.8 201.0,392.9 200.0,391.0 199.1,389.1 198.3,387.2 197.6,385.3 196.8,383.4 196.2,381.5 195.5,379.6 194.9,377.6 194.3,375.7 193.7,373.8 193.2,371.9 192.6,369.9 192.0,368.0 191.4,366.1 190.9,364.2 190.2,362.3 189.6,360.4 188.9,358.6 188.2,356.7 187.4,354.9 186.6,353.0 185.8,351.2 184.8,349.4 183.8,347.7 182.7,345.9 181.6,344.2 180.3,342.5 179.0,340.9 177.5,339.4 176.0,338.1 174.4,337.1 172.8,336.2 171.0,335.7 169.2,335.6 167.3,335.8 165.4,336.3 163.4,337.1 161.4,338.0 159.5,339.1 157.6,340.3 155.7,341.4 154.0,342.5 152.3,343.7 150.7,344.8 149.1,346.0 147.5,347.1 146.0,348.4 144.6,349.6 143.1,351.0 141.7,352.4 140.3,353.8 138.9,355.3 137.6,356.8 136.3,358.4 135.1,360.0 133.8,361.6 132.7,363.3 131.6,365.0 130.5,366.7 129.4,368.4 128.4,370.2 127.5,371.9 126.5,373.7 125.6,375.5 124.8,377.3 123.9,379.1 123.0,381.0 122.2,382.8 121.4,384.6 120.6,386.5 119.8,388.3 118.9,390.1 118.1,392.0 117.3,393.8 116.4,395.6 115.6,397.4 114.7,399.2 113.8,401.0 112.9,402.8 111.9,404.6 110.9,406.3 109.9,408.1 108.8,409.8 107.7,411.5" stroke="#111111" class="cv"/>
</g>
<path d="M181.9,419.6v-7M181.9,4.5v7M280.7,419.6v-7M280.7,4.5v7M379.6,419.6v-7M379.6,4.5v7M478.4,419.6v-7M478.4,4.5v7M577.3,419.6v-7M577.3,4.5v7M132.4,419.6v-5.5M132.4,4.5v5.5M231.3,419.6v-5.5M231.3,4.5v5.5M330.1,419.6v-5.5M330.1,4.5v5.5M429.0,419.6v-5.5M429.0,4.5v5.5M527.8,419.6v-5.5M527.8,4.5v5.5M83.0,360.3h7M626.7,360.3h-7M83.0,281.2h7M626.7,281.2h-7M83.0,202.2h7M626.7,202.2h-7M83.0,123.1h7M626.7,123.1h-7M83.0,44.0h7M626.7,44.0h-7M83.0,399.8h5.5M626.7,399.8h-5.5M83.0,320.8h5.5M626.7,320.8h-5.5M83.0,241.7h5.5M626.7,241.7h-5.5M83.0,162.6h5.5M626.7,162.6h-5.5M83.0,83.6h5.5M626.7,83.6h-5.5" class="tk"/>
<rect x="83.0" y="4.5" width="543.7" height="415.1" class="fr"/>
<text transform="translate(83.0,449.0) scale(0.95,1)" class="tl" text-anchor="middle">0.0</text>
<text transform="translate(181.9,449.0) scale(0.95,1)" class="tl" text-anchor="middle">0.2</text>
<text transform="translate(280.7,449.0) scale(0.95,1)" class="tl" text-anchor="middle">0.4</text>
<text transform="translate(379.6,449.0) scale(0.95,1)" class="tl" text-anchor="middle">0.6</text>
<text transform="translate(478.4,449.0) scale(0.95,1)" class="tl" text-anchor="middle">0.8</text>
<text transform="translate(577.3,449.0) scale(0.95,1)" class="tl" text-anchor="middle">1.0</text>
<text transform="translate(74.4,52.2) scale(0.97,1)" class="tl" text-anchor="end">80</text>
<text transform="translate(74.4,131.2) scale(0.97,1)" class="tl" text-anchor="end">40</text>
<text transform="translate(74.4,210.3) scale(0.97,1)" class="tl" text-anchor="end">0</text>
<text transform="translate(74.4,289.4) scale(0.97,1)" class="tl" text-anchor="end">-40</text>
<text transform="translate(74.4,368.4) scale(0.97,1)" class="tl" text-anchor="end">-80</text>
<text x="354.9" y="477.8" font-size="27.8" text-anchor="middle">E vs RHE [V]</text>
<text x="88.7" y="35.1" class="nm">HSAC-Pt</text>
<text x="602.6" y="33.0" class="lt" text-anchor="end">a</text>
<path d="M780.5,12.0V415.3M876.3,12.0V415.3M972.1,12.0V415.3M1067.8,12.0V415.3M1163.6,12.0V415.3M732.6,373.6H1259.4M732.6,318.0H1259.4M732.6,262.3H1259.4M732.6,206.7H1259.4M732.6,151.1H1259.4M732.6,95.4H1259.4M732.6,39.8H1259.4" class="gd"/>
<path d="M828.4,12.0V415.3M924.2,12.0V415.3M1019.9,12.0V415.3M1115.7,12.0V415.3M1211.5,12.0V415.3M732.6,401.4H1259.4M732.6,345.8H1259.4M732.6,290.1H1259.4M732.6,234.5H1259.4M732.6,178.9H1259.4M732.6,123.3H1259.4M732.6,67.6H1259.4" class="gs"/>
<rect x="732.6" y="12" width="97.4" height="42.5" fill="#fff"/>
<rect x="1117" y="322" width="142.4" height="93.3" fill="#fff"/>
<clipPath id="clipc"><rect x="732.6" y="12.0" width="526.8" height="403.3"/></clipPath><g clip-path="url(#clipc)">
<path d="M756.5,380.5 756.5,378.5 756.5,376.5 756.5,374.5 756.5,372.6 756.5,370.6 756.5,368.6 756.5,366.6 756.5,364.6 756.5,362.6 756.5,360.6 756.5,358.6 756.5,356.6 756.5,354.6 756.5,352.6 756.5,350.6 756.5,348.6 756.5,346.6 756.6,344.6 756.6,342.6 756.6,340.6 756.6,338.5 756.6,336.5 756.6,334.5 756.6,332.5 756.6,330.5 756.6,328.5 756.7,326.5 756.7,324.5 756.7,322.5 756.7,320.5 756.7,318.5 756.7,316.5 756.8,314.5 756.8,312.5 756.8,310.5 756.8,308.5 756.8,306.4 756.8,304.4 756.9,302.4 756.9,300.4 756.9,298.4 756.9,296.4 757.0,294.4 757.0,292.4 757.0,290.4 757.0,288.4 757.0,286.4 757.1,284.3 757.1,282.3 757.1,280.3 757.1,278.3 757.1,276.3 757.2,274.3 757.2,272.3 757.2,270.3 757.2,268.3 757.3,266.3 757.3,264.2 757.3,262.2 757.3,260.2 757.3,258.2 757.4,256.2 757.4,254.2 757.4,252.2 757.4,250.2 757.5,248.2 757.5,246.2 757.5,244.2 757.5,242.2 757.5,240.1 757.6,238.1 757.6,236.1 757.6,234.1 757.6,232.1 757.6,230.1 757.6,228.1 757.7,226.1 757.7,224.1 757.7,222.1 757.7,220.1 757.7,218.1 757.7,216.1 757.8,214.1 757.8,212.1 757.8,210.1 757.8,208.1 757.8,206.1 757.8,204.1 757.8,202.1 757.8,200.1 757.8,198.1 757.9,196.1 757.9,194.1 757.9,192.1 757.9,190.1 757.9,188.1 757.9,186.1 757.9,184.1 757.9,182.1 757.9,180.1 757.9,178.1 757.9,176.1 757.9,174.1 757.9,172.1 757.9,170.1 757.9,168.1 757.9,166.1 757.9,164.2 757.9,162.2 757.9,160.2 757.9,158.2 757.9,156.2 757.9,154.2 757.9,152.2 758.0,150.2 758.0,148.2 758.0,146.2 758.0,144.2 758.1,142.2 758.1,140.2 758.2,138.2 758.2,136.2 758.3,134.2 758.3,132.2 758.4,130.2 758.5,128.2 758.6,126.2 758.7,124.2 758.8,122.2 758.9,120.2 759.0,118.2 759.1,116.1 759.3,114.1 759.4,112.1 759.6,110.1 759.7,108.1 759.9,106.0 760.1,104.0 760.3,102.0 760.5,99.9 760.8,97.9 761.0,95.8 761.3,93.8 761.5,91.7 761.8,89.7 762.1,87.6 762.4,85.6 762.7,83.5 763.1,81.5 763.5,79.5 764.0,77.7 764.7,76.0 765.6,74.7 766.8,73.7 768.3,73.1 770.2,73.0 772.2,73.3 774.3,74.0 776.1,75.0 777.7,76.3 779.2,77.7 780.7,79.3 782.0,80.8 783.4,82.3 784.7,83.9 786.1,85.4 787.4,86.9 788.8,88.4 790.1,89.8 791.5,91.3 792.9,92.6 794.3,94.0 795.8,95.3 797.3,96.6 798.9,97.8 800.5,98.9 802.2,100.0 804.0,101.0 805.8,101.9 807.7,102.8 809.6,103.5 811.6,104.1 813.6,104.5 815.6,104.8 817.6,104.9 819.5,104.7 821.4,104.4 823.3,103.8 825.1,103.0 826.8,102.0 828.5,100.9 830.1,99.6 831.6,98.2 833.0,96.7 834.3,95.1 835.5,93.5 836.6,91.8 837.7,90.0 838.6,88.2 839.5,86.4 840.3,84.5 841.1,82.7 841.8,80.8 842.4,78.9 843.1,76.9 843.6,75.0 844.2,73.1 844.7,71.2 845.2,69.4 845.7,67.5 846.2,65.7 846.7,63.9 847.2,62.1 847.7,60.3 848.3,58.5 848.9,56.7 849.5,54.8 850.1,52.8 850.9,50.7 851.6,48.6 852.5,46.3 853.4,43.9 854.4,41.7 855.4,39.7 856.5,38.1 857.7,37.2 858.9,37.1 860.1,37.8 861.3,39.0 862.5,40.6 863.6,42.4 864.6,44.3 865.5,46.2 866.4,48.1 867.1,50.0 867.8,52.0 868.4,53.9 868.9,55.9 869.4,57.9 869.9,59.9 870.3,61.8 870.7,63.8 871.0,65.8 871.4,67.8 871.7,69.7 872.0,71.7 872.3,73.7 872.7,75.6 873.0,77.6 873.4,79.5 873.8,81.4 874.2,83.3 874.6,85.2 875.0,87.1 875.5,89.0 876.0,91.0 876.5,92.9 877.0,94.8 877.5,96.8 878.0,98.7 878.5,100.7 879.0,102.7 879.5,104.7 880.1,106.8 880.6,108.9 881.2,111.0 881.8,113.0 882.7,114.8 883.8,116.3 885.3,117.5 887.0,118.3 889.0,118.6 891.0,118.7 893.0,118.4 894.8,117.8 896.5,116.9 898.0,115.7 899.3,114.4 900.6,112.9 901.7,111.2 902.7,109.3 903.6,107.4 904.5,105.4 905.2,103.4 905.9,101.4 906.5,99.4 907.1,97.5 907.6,95.5 908.2,93.6 908.8,91.7 909.5,89.8 910.3,87.9 911.2,86.0 912.3,84.1 913.5,82.4 914.7,81.2 916.0,80.9 917.1,81.7 918.2,83.1 919.1,85.0 920.0,86.9 920.7,88.9 921.4,90.9 921.9,92.9 922.4,94.9 922.8,96.9 923.2,98.8 923.5,100.8 923.8,102.8 924.1,104.8 924.4,106.8 924.7,108.8 925.0,110.8 925.3,112.8 925.6,114.8 925.9,116.8 926.3,118.7 926.7,120.7 927.1,122.7 927.5,124.7 928.0,126.6 928.5,128.6 929.0,130.5 929.6,132.5 930.2,134.4 930.8,136.3 931.5,138.1 932.2,140.0 933.0,141.9 933.8,143.7 934.7,145.5 935.7,147.3 936.7,149.0 937.7,150.7 938.9,152.4 940.1,154.0 941.3,155.6 942.7,157.0 944.1,158.4 945.6,159.6 947.2,160.7 948.9,161.6 950.7,162.4 952.5,163.1 954.5,163.6 956.4,164.0 958.5,164.3 960.5,164.4 962.6,164.5 964.7,164.5 966.8,164.4 968.9,164.3 971.0,164.1 973.1,163.8 975.1,163.5 977.1,163.1 979.1,162.7 981.1,162.3 983.0,161.9 984.9,161.4 986.8,160.9 988.7,160.4 990.6,159.9 992.5,159.4 994.4,158.9 996.3,158.4 998.2,157.8 1000.1,157.3 1002.0,156.8 1003.9,156.4 1005.9,155.9 1007.8,155.4 1009.7,154.9 1011.7,154.4 1013.6,154.0 1015.6,153.5 1017.5,153.0 1019.5,152.6 1021.4,152.1 1023.4,151.6 1025.3,151.2 1027.3,150.7 1029.3,150.2 1031.2,149.7 1033.2,149.2 1035.1,148.7 1037.1,148.2 1039.1,147.7 1041.0,147.2 1043.0,146.7 1044.9,146.1 1046.9,145.6 1048.8,145.0 1050.7,144.4 1052.6,143.8 1054.5,143.2 1056.4,142.5 1058.3,141.8 1060.1,141.0 1062.0,140.2 1063.7,139.3 1065.5,138.4 1067.3,137.5 1069.0,136.4 1070.6,135.4 1072.3,134.2 1073.9,133.1 1075.6,131.9 1077.2,130.7 1078.8,129.5 1080.4,128.3 1082.1,127.1 1083.7,126.0 1085.4,124.9 1087.1,123.9 1088.9,122.9 1090.6,122.1 1092.5,121.2 1094.3,120.5 1096.2,119.8 1098.1,119.1 1100.0,118.5 1101.9,117.8 1103.8,117.2 1105.7,116.6 1107.6,116.0 1109.5,115.3 1111.4,114.6 1113.3,113.9 1115.2,113.2 1117.0,112.4 1118.8,111.5 1120.6,110.6 1122.4,109.6 1124.1,108.6 1125.8,107.5 1127.4,106.3 1129.0,105.0 1130.6,103.8 1132.2,102.5 1133.8,101.3 1135.5,100.2 1137.2,99.2 1138.9,98.3 1140.8,97.5 1142.6,96.9 1144.6,96.3 1146.5,95.8 1148.5,95.3 1150.4,94.7 1152.4,94.2 1154.3,93.6 1156.2,92.9 1158.1,92.2 1159.9,91.5 1161.8,90.8 1163.6,90.0 1165.5,89.3 1167.3,88.5 1169.2,87.7 1171.0,86.9 1172.9,86.2 1174.7,85.4 1176.6,84.7 1178.5,84.0 1180.4,83.4 1182.3,82.7 1184.2,82.1 1186.1,81.5 1188.0,80.9 1189.9,80.4 1191.8,79.9 1193.8,79.4 1195.7,78.9 1197.7,78.5 1199.6,78.0 1201.6,77.6 1203.6,77.3 1205.6,76.9 1207.5,76.6 1209.5,76.3 1211.5,76.0 1211.5,145.5 1211.1,147.2 1210.7,149.0 1210.4,150.9 1210.3,152.8 1210.1,154.8 1210.1,156.8 1210.1,158.9 1210.1,161.0 1210.1,163.1 1210.1,165.2 1210.1,167.4 1210.1,169.5 1210.1,171.6 1210.0,173.7 1209.9,175.8 1209.7,177.9 1209.4,179.9 1209.0,181.9 1208.5,183.8 1208.0,185.7 1207.3,187.5 1206.6,189.3 1205.7,191.1 1204.8,192.8 1203.9,194.5 1202.8,196.1 1201.7,197.7 1200.6,199.3 1199.4,200.9 1198.1,202.4 1196.8,203.9 1195.5,205.4 1194.1,206.9 1192.7,208.4 1191.3,209.8 1189.8,211.3 1188.3,212.7 1186.8,214.1 1185.4,215.5 1183.9,216.9 1182.4,218.3 1180.9,219.7 1179.4,221.1 1177.9,222.5 1176.5,223.9 1175.0,225.3 1173.6,226.7 1172.2,228.1 1170.7,229.5 1169.3,230.9 1167.9,232.3 1166.5,233.8 1165.2,235.2 1163.8,236.7 1162.4,238.1 1161.1,239.6 1159.7,241.0 1158.4,242.5 1157.0,244.0 1155.7,245.5 1154.3,247.0 1153.0,248.5 1151.7,250.0 1150.3,251.5 1149.0,253.1 1147.6,254.6 1146.3,256.0 1144.9,257.5 1143.4,258.9 1142.0,260.3 1140.5,261.6 1138.9,262.9 1137.3,264.2 1135.7,265.4 1134.0,266.5 1132.4,267.5 1130.6,268.5 1128.9,269.5 1127.1,270.3 1125.3,271.1 1123.4,271.8 1121.5,272.4 1119.6,272.9 1117.7,273.3 1115.7,273.7 1113.7,273.9 1111.7,274.0 1109.7,274.0 1107.6,274.0 1105.6,273.8 1103.5,273.6 1101.5,273.2 1099.5,272.9 1097.5,272.4 1095.5,271.9 1093.5,271.3 1091.6,270.7 1089.7,270.0 1087.8,269.2 1086.0,268.4 1084.2,267.6 1082.4,266.7 1080.7,265.8 1079.0,264.9 1077.2,263.9 1075.6,262.8 1073.9,261.8 1072.2,260.7 1070.6,259.6 1069.0,258.4 1067.4,257.2 1065.8,256.1 1064.2,254.8 1062.6,253.6 1061.0,252.3 1059.5,251.1 1057.9,249.8 1056.3,248.5 1054.8,247.2 1053.2,245.9 1051.6,244.6 1050.1,243.3 1048.5,242.0 1046.9,240.7 1045.3,239.4 1043.8,238.1 1042.2,236.8 1040.5,235.6 1038.9,234.4 1037.3,233.2 1035.6,232.0 1034.0,230.9 1032.3,229.8 1030.6,228.7 1028.9,227.7 1027.2,226.7 1025.5,225.8 1023.7,224.9 1022.0,224.1 1020.2,223.3 1018.3,222.6 1016.5,221.9 1014.7,221.3 1012.8,220.8 1010.9,220.2 1009.0,219.8 1007.1,219.3 1005.1,218.9 1003.2,218.4 1001.2,218.0 999.2,217.6 997.3,217.3 995.3,216.9 993.3,216.5 991.3,216.1 989.2,215.6 987.2,215.2 985.2,214.8 983.2,214.3 981.1,213.9 979.1,213.5 977.1,213.0 975.0,212.7 973.0,212.3 971.0,212.0 969.0,211.7 967.0,211.5 965.0,211.4 963.0,211.3 961.1,211.3 959.1,211.3 957.2,211.5 955.3,211.7 953.4,212.1 951.5,212.5 949.6,213.1 947.8,213.8 946.0,214.6 944.2,215.5 942.5,216.5 940.8,217.7 939.2,218.9 937.6,220.2 936.1,221.6 934.6,223.1 933.3,224.6 932.0,226.2 930.8,227.9 929.7,229.6 928.7,231.4 927.8,233.2 926.9,235.0 926.1,236.9 925.4,238.7 924.7,240.6 924.1,242.5 923.4,244.4 922.8,246.3 922.1,248.1 921.5,250.0 920.9,251.9 920.3,253.8 919.7,255.7 919.1,257.6 918.5,259.5 917.9,261.4 917.3,263.3 916.7,265.2 916.1,267.2 915.5,269.1 914.9,271.1 914.3,273.1 913.7,275.1 913.1,277.2 912.5,279.3 911.9,281.2 911.1,282.8 910.2,283.6 908.9,283.3 907.6,282.1 906.2,280.5 904.9,278.6 903.9,276.8 902.9,274.9 902.0,273.0 901.2,271.1 900.4,269.2 899.5,267.5 898.5,265.7 897.4,264.0 896.3,262.4 895.0,260.8 893.6,259.3 892.1,257.8 890.5,256.7 888.7,256.0 886.9,255.9 885.0,256.4 883.1,257.4 881.4,258.7 879.9,260.2 878.7,261.9 877.6,263.6 876.7,265.5 876.0,267.4 875.4,269.4 874.8,271.4 874.3,273.4 873.9,275.4 873.4,277.4 872.9,279.3 872.3,281.3 871.8,283.2 871.3,285.1 870.8,287.0 870.3,288.9 869.8,290.8 869.2,292.7 868.7,294.6 868.2,296.5 867.7,298.3 867.2,300.2 866.7,302.1 866.2,304.1 865.7,306.0 865.2,307.9 864.8,309.9 864.3,311.9 863.9,313.9 863.5,315.9 863.1,317.9 862.7,320.0 862.4,322.1 862.0,324.3 861.6,326.4 861.2,328.4 860.6,330.5 859.9,332.4 859.1,334.2 858.1,335.8 856.8,337.3 855.3,338.5 853.6,339.4 852.1,339.6 850.8,339.0 849.6,337.7 848.7,335.9 847.9,333.8 847.2,331.3 846.6,328.9 846.0,326.4 845.4,324.2 844.7,322.1 844.1,320.3 843.4,318.5 842.6,316.9 841.8,315.3 841.0,313.7 840.1,312.1 839.2,310.4 838.2,308.6 837.2,306.8 836.1,305.0 834.9,303.1 833.7,301.3 832.5,299.6 831.1,297.9 829.8,296.3 828.3,294.8 826.8,293.5 825.2,292.3 823.6,291.3 821.9,290.5 820.1,290.0 818.3,289.6 816.4,289.5 814.5,289.5 812.6,289.8 810.7,290.2 808.8,290.7 806.9,291.4 805.0,292.2 803.2,293.2 801.5,294.2 799.8,295.3 798.1,296.5 796.5,297.7 794.9,299.0 793.4,300.4 791.9,301.8 790.4,303.2 788.9,304.6 787.5,306.1 786.1,307.6 784.8,309.1 783.5,310.6 782.2,312.2 781.0,313.7 779.7,315.3 778.6,316.9 777.4,318.6 776.3,320.2 775.2,321.9 774.1,323.6 773.1,325.3 772.1,327.1 771.2,328.8 770.2,330.6 769.3,332.3 768.5,334.1 767.6,336.0 766.8,337.8 766.0,339.6 765.3,341.5 764.6,343.3 763.9,345.2 763.2,347.1 762.6,349.0 762.0,350.9 761.4,352.9 760.9,354.8 760.4,356.7 759.9,358.7 759.4,360.6 759.0,362.6 758.6,364.6 758.3,366.5 757.9,368.5 757.6,370.5 757.4,372.5 757.1,374.5 756.9,376.5 756.7,378.5 756.5,380.5" stroke="#2b2bd6" class="cv"/>
<path d="M756.5,390.5 756.6,388.5 756.6,386.5 756.6,384.5 756.6,382.5 756.7,380.5 756.7,378.5 756.7,376.5 756.7,374.5 756.7,372.5 756.7,370.5 756.8,368.5 756.8,366.5 756.8,364.5 756.8,362.5 756.8,360.4 756.8,358.4 756.8,356.4 756.8,354.4 756.9,352.4 756.9,350.4 756.9,348.4 756.9,346.4 756.9,344.4 756.9,342.4 756.9,340.4 756.9,338.4 756.9,336.4 756.9,334.4 756.9,332.4 756.9,330.3 756.9,328.3 756.9,326.3 757.0,324.3 757.0,322.3 757.0,320.3 757.0,318.3 757.0,316.3 757.0,314.3 757.0,312.3 757.0,310.3 757.0,308.3 757.0,306.3 757.0,304.3 757.0,302.3 757.0,300.2 757.0,298.2 757.0,296.2 757.0,294.2 757.0,292.2 757.0,290.2 757.0,288.2 757.0,286.2 757.0,284.2 757.0,282.2 757.0,280.2 757.0,278.2 757.0,276.2 757.0,274.2 757.0,272.2 757.1,270.1 757.1,268.1 757.1,266.1 757.1,264.1 757.1,262.1 757.1,260.1 757.1,258.1 757.1,256.1 757.1,254.1 757.1,252.1 757.1,250.1 757.1,248.1 757.1,246.1 757.2,244.1 757.2,242.1 757.2,240.0 757.2,238.0 757.2,236.0 757.2,234.0 757.2,232.0 757.3,230.0 757.3,228.0 757.3,226.0 757.3,224.0 757.3,222.0 757.3,220.0 757.4,218.0 757.4,216.0 757.4,214.0 757.4,212.0 757.5,209.9 757.5,207.9 757.5,205.9 757.5,203.9 757.6,201.9 757.6,199.9 757.6,197.9 757.7,195.9 757.7,193.9 757.7,191.9 757.8,189.9 757.8,187.9 757.8,185.9 757.9,183.9 757.9,181.9 758.0,179.9 758.0,177.8 758.0,175.8 758.1,173.8 758.1,171.8 758.2,169.8 758.2,167.8 758.3,165.8 758.3,163.8 758.4,161.8 758.4,159.8 758.5,157.8 758.5,155.8 758.5,153.8 758.6,151.8 758.6,149.8 758.7,147.8 758.7,145.7 758.7,143.7 758.8,141.7 758.8,139.7 758.8,137.7 758.8,135.7 758.9,133.7 758.9,131.7 758.9,129.7 758.9,127.7 758.9,125.7 758.9,123.7 758.9,121.7 758.9,119.7 758.9,117.7 758.9,115.7 759.0,113.6 759.0,111.6 759.2,109.6 759.3,107.6 759.5,105.7 759.8,103.7 760.1,101.7 760.5,99.7 761.0,97.7 761.5,95.7 762.1,93.7 762.9,91.8 763.7,89.8 764.7,87.9 765.7,86.2 766.9,84.9 768.3,83.8 769.9,83.3 771.6,83.4 773.4,84.1 775.3,85.2 777.0,86.6 778.5,88.1 779.9,89.7 781.3,91.2 782.7,92.8 784.1,94.3 785.4,95.7 786.8,97.2 788.2,98.5 789.6,99.9 791.1,101.2 792.5,102.5 794.0,103.7 795.6,104.9 797.1,106.1 798.7,107.2 800.4,108.3 802.1,109.4 803.9,110.4 805.8,111.4 807.7,112.3 809.6,113.2 811.6,113.9 813.6,114.5 815.6,115.0 817.5,115.3 819.5,115.4 821.4,115.2 823.3,114.8 825.1,114.2 826.8,113.4 828.5,112.3 830.1,111.2 831.7,109.8 833.1,108.4 834.5,106.9 835.7,105.3 836.9,103.6 838.0,101.9 839.0,100.2 839.9,98.4 840.8,96.6 841.6,94.7 842.3,92.8 843.0,90.9 843.7,89.0 844.3,87.1 844.8,85.1 845.4,83.1 845.9,81.2 846.4,79.2 846.8,77.3 847.3,75.3 847.7,73.4 848.2,71.5 848.6,69.5 849.0,67.6 849.4,65.7 849.8,63.7 850.3,61.8 850.7,59.9 851.1,58.0 851.6,56.0 852.1,54.1 852.6,52.1 853.1,50.2 853.6,48.2 854.2,46.3 854.8,44.3 855.4,42.4 856.1,40.4 856.8,38.4 857.5,36.4 858.3,34.4 859.1,32.4 860.0,30.4 861.0,28.7 862.1,27.5 863.4,27.0 864.8,27.3 866.3,28.3 867.7,29.6 868.8,31.3 869.6,33.1 870.3,35.0 870.8,37.1 871.1,39.2 871.4,41.4 871.7,43.6 871.9,45.8 872.1,47.9 872.4,50.0 872.8,52.1 873.1,54.1 873.5,56.0 873.9,58.0 874.3,59.9 874.8,61.8 875.2,63.7 875.6,65.6 876.0,67.5 876.4,69.4 876.8,71.4 877.1,73.3 877.5,75.2 877.8,77.2 878.1,79.2 878.4,81.2 878.7,83.2 879.0,85.1 879.4,87.1 879.7,89.1 880.0,91.1 880.4,93.1 880.8,95.1 881.2,97.1 881.6,99.1 882.0,101.1 882.5,103.0 883.0,105.0 883.6,106.9 884.2,108.9 884.9,110.8 885.6,112.7 886.5,114.4 887.7,115.9 889.2,117.2 891.0,118.3 893.0,118.9 895.1,119.3 897.1,119.3 899.0,118.8 900.7,117.9 902.1,116.7 903.2,115.1 904.2,113.2 905.0,111.2 905.7,109.2 906.3,107.2 906.9,105.3 907.4,103.4 908.0,101.6 908.6,99.8 909.2,98.0 909.8,96.2 910.5,94.3 911.3,92.3 912.1,90.2 913.1,88.0 914.1,85.7 915.3,83.5 916.4,81.4 917.6,79.8 918.8,78.7 919.8,78.4 920.8,78.8 921.7,80.1 922.5,81.8 923.2,83.9 923.9,86.0 924.5,88.2 925.1,90.3 925.6,92.5 926.0,94.5 926.4,96.6 926.8,98.7 927.2,100.7 927.6,102.7 927.9,104.7 928.2,106.7 928.5,108.6 928.8,110.6 929.1,112.5 929.5,114.4 929.8,116.3 930.2,118.2 930.6,120.1 931.0,122.0 931.5,123.9 932.0,125.7 932.5,127.6 933.1,129.5 933.8,131.3 934.5,133.2 935.3,135.1 936.1,136.9 936.9,138.8 937.8,140.7 938.7,142.6 939.7,144.4 940.7,146.3 941.7,148.2 942.7,150.1 943.9,151.9 945.0,153.6 946.3,155.1 947.6,156.6 949.1,157.9 950.6,159.0 952.3,160.0 954.0,160.8 955.8,161.5 957.7,162.0 959.6,162.4 961.6,162.8 963.6,163.0 965.6,163.1 967.7,163.2 969.8,163.2 971.8,163.1 973.9,163.0 975.9,162.9 977.9,162.7 980.0,162.4 982.0,162.2 984.0,161.9 986.0,161.6 987.9,161.2 989.9,160.9 991.9,160.5 993.8,160.1 995.8,159.6 997.7,159.2 999.7,158.7 1001.6,158.2 1003.6,157.8 1005.5,157.3 1007.4,156.8 1009.4,156.3 1011.3,155.8 1013.2,155.3 1015.2,154.8 1017.1,154.3 1019.0,153.9 1021.0,153.4 1022.9,153.0 1024.8,152.5 1026.8,152.1 1028.7,151.7 1030.7,151.3 1032.6,150.9 1034.6,150.5 1036.6,150.1 1038.5,149.7 1040.5,149.3 1042.5,148.8 1044.5,148.4 1046.5,148.0 1048.5,147.6 1050.5,147.1 1052.5,146.7 1054.5,146.2 1056.5,145.7 1058.5,145.1 1060.5,144.5 1062.4,143.9 1064.3,143.3 1066.2,142.6 1068.0,141.8 1069.8,141.0 1071.6,140.1 1073.3,139.1 1075.0,138.1 1076.6,137.0 1078.1,135.9 1079.6,134.6 1081.0,133.3 1082.4,131.9 1083.7,130.4 1085.0,128.9 1086.2,127.3 1087.4,125.6 1088.5,123.9 1089.5,122.2 1090.5,120.4 1091.5,118.6 1092.5,116.8 1093.4,114.9 1094.3,113.0 1095.1,111.2 1095.9,109.3 1096.8,107.4 1097.5,105.5 1098.3,103.7 1099.0,101.8 1099.8,99.9 1100.5,98.1 1101.2,96.2 1101.9,94.4 1102.6,92.6 1103.3,90.7 1104.0,88.9 1104.7,87.1 1105.4,85.2 1106.1,83.4 1106.8,81.6 1107.5,79.7 1108.2,77.9 1109.0,76.0 1109.7,74.2 1110.5,72.3 1111.3,70.4 1112.1,68.6 1113.0,66.7 1113.9,64.8 1114.8,62.9 1115.7,61.0 1116.7,59.2 1117.9,57.5 1119.2,56.0 1120.7,54.7 1122.4,53.7 1124.3,53.1 1126.1,53.1 1127.8,53.5 1129.5,54.4 1131.1,55.6 1132.7,57.0 1134.3,58.6 1135.8,60.1 1137.4,61.6 1139.0,63.0 1140.6,64.4 1142.3,65.6 1144.0,66.7 1145.7,67.6 1147.5,68.4 1149.4,69.0 1151.3,69.4 1153.2,69.7 1155.1,69.8 1157.1,69.9 1159.1,69.8 1161.1,69.6 1163.1,69.3 1165.1,69.0 1167.0,68.5 1169.0,68.0 1171.0,67.5 1172.9,66.9 1174.9,66.3 1176.8,65.7 1178.7,65.0 1180.6,64.3 1182.5,63.7 1184.3,63.0 1186.2,62.3 1188.1,61.6 1190.0,60.9 1191.9,60.3 1193.8,59.6 1195.7,59.1 1197.6,58.5 1199.5,58.0 1201.5,57.5 1203.4,57.1 1205.4,56.8 1207.4,56.5 1209.5,56.3 1211.5,56.2 1211.5,145.5 1211.4,147.4 1211.2,149.3 1211.1,151.3 1211.0,153.2 1210.9,155.2 1210.7,157.2 1210.6,159.2 1210.5,161.2 1210.4,163.3 1210.2,165.3 1210.1,167.3 1209.9,169.4 1209.8,171.4 1209.6,173.5 1209.4,175.5 1209.1,177.6 1208.9,179.6 1208.6,181.6 1208.3,183.6 1207.9,185.6 1207.6,187.6 1207.1,189.6 1206.7,191.6 1206.2,193.5 1205.6,195.5 1205.1,197.4 1204.4,199.3 1203.7,201.1 1203.0,203.0 1202.2,204.8 1201.4,206.6 1200.5,208.3 1199.5,210.1 1198.5,211.8 1197.5,213.5 1196.4,215.1 1195.2,216.7 1194.1,218.4 1192.9,220.0 1191.6,221.5 1190.4,223.1 1189.1,224.6 1187.8,226.2 1186.5,227.7 1185.1,229.2 1183.7,230.7 1182.4,232.2 1181.0,233.6 1179.6,235.1 1178.2,236.5 1176.8,238.0 1175.4,239.4 1174.0,240.9 1172.6,242.3 1171.2,243.8 1169.8,245.2 1168.5,246.7 1167.1,248.2 1165.8,249.7 1164.4,251.2 1163.2,252.7 1161.9,254.2 1160.6,255.8 1159.4,257.4 1158.2,259.0 1157.0,260.6 1155.9,262.2 1154.7,263.9 1153.6,265.5 1152.5,267.2 1151.4,268.9 1150.4,270.6 1149.3,272.3 1148.3,274.1 1147.2,275.8 1146.2,277.5 1145.2,279.3 1144.1,281.0 1143.1,282.7 1142.1,284.5 1141.1,286.2 1140.1,287.9 1139.0,289.7 1138.0,291.4 1136.9,293.1 1135.9,294.8 1134.8,296.5 1133.8,298.2 1132.7,299.9 1131.6,301.6 1130.4,303.2 1129.2,304.8 1128.0,306.4 1126.6,307.9 1125.3,309.5 1123.8,310.9 1122.3,312.3 1120.6,313.6 1118.9,314.8 1117.2,315.7 1115.4,316.3 1113.5,316.5 1111.6,316.3 1109.7,315.7 1107.8,314.9 1106.0,313.9 1104.2,312.7 1102.5,311.4 1100.9,310.0 1099.4,308.7 1097.9,307.2 1096.6,305.8 1095.2,304.3 1093.9,302.7 1092.6,301.2 1091.3,299.7 1090.1,298.1 1088.8,296.6 1087.6,295.0 1086.4,293.4 1085.1,291.8 1083.9,290.2 1082.7,288.6 1081.5,287.0 1080.3,285.4 1079.2,283.8 1078.0,282.2 1076.8,280.6 1075.6,278.9 1074.4,277.3 1073.2,275.7 1072.0,274.1 1070.8,272.5 1069.6,270.9 1068.4,269.3 1067.2,267.7 1066.0,266.1 1064.7,264.6 1063.5,263.0 1062.2,261.4 1060.9,259.9 1059.7,258.4 1058.3,256.8 1057.0,255.3 1055.7,253.9 1054.3,252.4 1052.9,250.9 1051.5,249.5 1050.0,248.1 1048.6,246.7 1047.1,245.3 1045.6,244.0 1044.0,242.6 1042.5,241.3 1040.9,240.1 1039.3,238.9 1037.6,237.7 1036.0,236.5 1034.3,235.4 1032.6,234.3 1030.9,233.3 1029.1,232.3 1027.4,231.4 1025.6,230.5 1023.7,229.7 1021.9,229.0 1020.0,228.2 1018.1,227.6 1016.2,227.0 1014.3,226.4 1012.4,225.9 1010.4,225.5 1008.4,225.0 1006.4,224.7 1004.5,224.3 1002.5,224.0 1000.5,223.7 998.4,223.4 996.4,223.2 994.4,223.0 992.4,222.8 990.4,222.6 988.4,222.4 986.5,222.3 984.5,222.1 982.5,222.0 980.5,221.9 978.5,221.8 976.5,221.8 974.5,221.8 972.5,221.8 970.5,221.8 968.5,221.9 966.4,222.0 964.4,222.2 962.4,222.3 960.3,222.6 958.3,222.8 956.2,223.1 954.2,223.5 952.2,224.0 950.2,224.5 948.3,225.2 946.5,226.0 944.8,226.9 943.2,227.9 941.6,229.0 940.1,230.3 938.7,231.6 937.3,233.0 936.0,234.5 934.8,236.1 933.7,237.7 932.6,239.4 931.6,241.2 930.6,243.0 929.7,244.9 928.9,246.8 928.1,248.7 927.4,250.6 926.7,252.6 926.1,254.6 925.5,256.5 925.0,258.5 924.5,260.5 924.0,262.4 923.6,264.4 923.2,266.3 922.8,268.2 922.5,270.1 922.1,272.0 921.7,273.9 921.2,275.8 920.8,277.7 920.2,279.7 919.6,281.6 918.9,283.6 918.2,285.6 917.3,287.7 916.3,289.8 915.2,291.7 914.1,293.2 912.9,294.1 911.6,294.3 910.3,293.7 909.0,292.4 907.8,290.8 906.7,288.9 905.7,287.0 904.8,285.1 903.9,283.1 903.0,281.1 902.1,279.2 901.2,277.2 900.1,275.3 899.0,273.5 897.7,271.9 896.2,270.6 894.7,269.6 893.0,269.0 891.2,269.0 889.4,269.4 887.7,270.2 886.2,271.4 884.8,273.0 883.5,274.7 882.4,276.6 881.4,278.6 880.6,280.6 879.9,282.5 879.2,284.5 878.7,286.4 878.2,288.4 877.7,290.3 877.3,292.2 877.0,294.2 876.6,296.1 876.2,298.0 875.8,299.9 875.4,301.9 874.9,303.8 874.5,305.8 874.0,307.7 873.6,309.7 873.1,311.6 872.7,313.6 872.3,315.5 871.8,317.5 871.5,319.5 871.1,321.5 870.8,323.5 870.5,325.5 870.2,327.5 870.0,329.5 869.8,331.5 869.7,333.5 869.5,335.6 869.4,337.6 869.2,339.6 869.0,341.6 868.7,343.6 868.3,345.6 867.9,347.6 867.3,349.6 866.6,351.6 865.8,353.5 864.8,355.4 863.6,357.3 862.3,359.1 860.9,360.5 859.5,361.4 858.2,361.6 856.9,361.1 855.8,359.8 854.7,358.1 853.8,356.1 852.9,353.8 852.1,351.6 851.3,349.3 850.6,347.2 849.9,345.1 849.3,343.1 848.8,341.1 848.2,339.2 847.7,337.3 847.2,335.4 846.6,333.6 846.1,331.8 845.6,330.0 845.1,328.2 844.5,326.4 843.9,324.6 843.3,322.8 842.7,321.0 842.0,319.1 841.2,317.2 840.4,315.3 839.5,313.4 838.5,311.4 837.5,309.4 836.4,307.5 835.2,305.7 833.9,304.0 832.6,302.3 831.1,300.9 829.6,299.6 828.0,298.5 826.3,297.6 824.6,296.9 822.7,296.5 820.9,296.2 819.0,296.1 817.0,296.2 815.0,296.5 813.1,296.8 811.1,297.4 809.2,298.0 807.3,298.8 805.4,299.6 803.6,300.5 801.8,301.6 800.1,302.6 798.5,303.8 796.9,305.0 795.3,306.3 793.8,307.7 792.4,309.0 791.0,310.5 789.6,312.0 788.3,313.5 786.9,315.0 785.7,316.6 784.4,318.2 783.2,319.8 782.0,321.5 780.8,323.1 779.7,324.8 778.6,326.4 777.5,328.1 776.4,329.8 775.3,331.5 774.3,333.2 773.4,335.0 772.4,336.7 771.6,338.5 770.7,340.3 769.9,342.1 769.2,344.0 768.4,345.9 767.7,347.7 767.1,349.6 766.4,351.5 765.8,353.4 765.2,355.4 764.7,357.3 764.1,359.3 763.6,361.2 763.1,363.2 762.6,365.1 762.1,367.1 761.6,369.1 761.2,371.0 760.7,373.0 760.2,375.0 759.8,376.9 759.3,378.9 758.9,380.9 758.4,382.8 758.0,384.8 757.5,386.7 757.0,388.6 756.5,390.5" stroke="#e02828" class="cv"/>
<path d="M756.5,398.6 756.5,396.6 756.5,394.6 756.5,392.6 756.5,390.6 756.5,388.6 756.5,386.6 756.5,384.6 756.5,382.6 756.5,380.6 756.5,378.6 756.6,376.6 756.6,374.6 756.6,372.6 756.6,370.6 756.6,368.6 756.6,366.6 756.6,364.6 756.6,362.6 756.6,360.6 756.6,358.6 756.6,356.6 756.6,354.6 756.6,352.5 756.6,350.5 756.6,348.5 756.7,346.5 756.7,344.5 756.7,342.5 756.7,340.5 756.7,338.5 756.7,336.5 756.7,334.5 756.7,332.5 756.7,330.5 756.8,328.5 756.8,326.5 756.8,324.4 756.8,322.4 756.8,320.4 756.8,318.4 756.8,316.4 756.9,314.4 756.9,312.4 756.9,310.4 756.9,308.4 756.9,306.4 756.9,304.4 756.9,302.4 757.0,300.3 757.0,298.3 757.0,296.3 757.0,294.3 757.0,292.3 757.0,290.3 757.1,288.3 757.1,286.3 757.1,284.3 757.1,282.3 757.1,280.3 757.1,278.3 757.2,276.2 757.2,274.2 757.2,272.2 757.2,270.2 757.2,268.2 757.2,266.2 757.3,264.2 757.3,262.2 757.3,260.2 757.3,258.2 757.3,256.2 757.3,254.2 757.4,252.1 757.4,250.1 757.4,248.1 757.4,246.1 757.4,244.1 757.4,242.1 757.5,240.1 757.5,238.1 757.5,236.1 757.5,234.1 757.5,232.1 757.5,230.1 757.6,228.1 757.6,226.1 757.6,224.1 757.6,222.0 757.6,220.0 757.6,218.0 757.6,216.0 757.7,214.0 757.7,212.0 757.7,210.0 757.7,208.0 757.7,206.0 757.7,204.0 757.7,202.0 757.7,200.0 757.8,198.0 757.8,196.0 757.8,194.0 757.8,192.0 757.8,190.0 757.8,188.0 757.8,186.0 757.8,184.0 757.8,182.0 757.8,180.0 757.9,178.0 757.9,176.0 757.9,174.0 757.9,172.0 757.9,170.0 757.9,168.0 757.9,166.0 757.9,164.0 757.9,162.0 758.0,160.0 758.0,158.0 758.0,156.0 758.0,154.0 758.1,152.0 758.1,150.0 758.1,148.0 758.2,146.0 758.2,144.0 758.3,142.0 758.3,140.0 758.4,138.0 758.5,136.0 758.6,134.0 758.7,132.0 758.8,130.0 758.9,128.0 759.0,126.0 759.1,124.0 759.2,122.0 759.4,120.0 759.5,118.0 759.7,115.9 759.8,113.9 760.0,111.9 760.2,109.9 760.4,107.9 760.6,105.8 760.9,103.8 761.1,101.8 761.3,99.8 761.6,97.7 761.9,95.7 762.2,93.7 762.5,91.6 762.8,89.6 763.2,87.6 763.7,85.7 764.3,83.8 765.0,82.1 766.0,80.5 767.2,79.0 768.6,77.8 770.4,76.8 772.3,76.2 774.2,76.2 776.0,76.9 777.7,78.0 779.3,79.3 780.9,80.8 782.4,82.2 784.0,83.7 785.4,85.1 786.9,86.5 788.3,87.9 789.7,89.3 791.2,90.7 792.6,92.0 794.0,93.4 795.5,94.7 796.9,96.0 798.4,97.3 799.9,98.6 801.5,99.8 803.0,101.1 804.7,102.3 806.4,103.5 808.1,104.6 809.9,105.7 811.7,106.6 813.6,107.5 815.4,108.3 817.4,108.9 819.3,109.3 821.3,109.6 823.3,109.7 825.2,109.6 827.2,109.3 829.1,108.9 830.9,108.2 832.7,107.4 834.4,106.4 835.9,105.1 837.3,103.8 838.7,102.2 839.9,100.6 841.1,98.8 842.2,97.0 843.2,95.2 844.1,93.2 845.0,91.3 845.9,89.4 846.7,87.6 847.4,85.7 848.2,84.0 848.9,82.2 849.6,80.5 850.2,78.7 850.9,77.0 851.6,75.3 852.3,73.5 853.0,71.7 853.7,69.9 854.4,68.1 855.2,66.2 855.9,64.2 856.8,62.2 857.7,60.1 858.6,57.9 859.6,55.7 860.6,53.4 861.7,51.4 862.9,49.9 864.1,48.8 865.4,48.6 866.8,49.1 868.2,50.3 869.5,52.0 870.8,53.7 871.9,55.5 872.9,57.3 873.9,59.1 874.7,61.0 875.5,62.8 876.1,64.7 876.8,66.6 877.3,68.5 877.8,70.4 878.3,72.3 878.8,74.3 879.2,76.2 879.6,78.2 880.0,80.2 880.5,82.2 880.9,84.2 881.4,86.2 881.9,88.2 882.4,90.2 883.0,92.1 883.6,94.0 884.4,95.9 885.2,97.7 886.1,99.5 887.1,101.2 888.2,102.9 889.4,104.4 890.8,105.9 892.3,107.2 893.9,108.5 895.7,109.5 897.5,110.2 899.3,110.4 901.2,110.0 903.0,109.1 904.6,107.9 906.2,106.5 907.5,105.0 908.8,103.4 909.9,101.8 911.1,100.0 912.2,98.1 913.5,96.1 914.8,94.1 916.2,92.2 917.6,90.7 918.9,89.9 920.2,90.0 921.3,91.0 922.4,92.7 923.4,94.7 924.3,96.8 925.1,98.9 925.8,100.9 926.5,102.8 927.1,104.7 927.6,106.6 928.2,108.5 928.6,110.3 929.1,112.2 929.5,114.1 930.0,116.0 930.4,117.9 930.8,119.9 931.3,121.8 931.7,123.8 932.2,125.8 932.7,127.8 933.2,129.8 933.8,131.8 934.5,133.7 935.1,135.6 935.9,137.5 936.7,139.4 937.6,141.2 938.5,143.0 939.6,144.7 940.7,146.3 942.0,147.9 943.3,149.4 944.7,150.8 946.2,152.2 947.7,153.5 949.3,154.7 951.0,155.8 952.7,156.8 954.5,157.7 956.3,158.5 958.1,159.2 960.0,159.8 961.8,160.3 963.8,160.6 965.7,160.9 967.6,161.1 969.6,161.2 971.5,161.2 973.5,161.2 975.5,161.1 977.5,160.9 979.5,160.7 981.6,160.4 983.6,160.1 985.6,159.7 987.6,159.4 989.7,159.0 991.7,158.6 993.7,158.1 995.7,157.7 997.7,157.3 999.8,156.9 1001.8,156.5 1003.8,156.1 1005.7,155.7 1007.7,155.3 1009.7,154.9 1011.7,154.5 1013.6,154.1 1015.6,153.7 1017.6,153.3 1019.5,152.9 1021.5,152.5 1023.4,152.1 1025.4,151.7 1027.3,151.3 1029.2,150.9 1031.2,150.5 1033.1,150.1 1035.0,149.6 1037.0,149.2 1038.9,148.7 1040.8,148.3 1042.7,147.8 1044.7,147.3 1046.6,146.8 1048.5,146.2 1050.4,145.7 1052.3,145.1 1054.2,144.6 1056.2,144.0 1058.1,143.3 1060.0,142.7 1061.9,142.0 1063.8,141.4 1065.7,140.7 1067.7,139.9 1069.6,139.2 1071.5,138.4 1073.4,137.5 1075.2,136.6 1076.9,135.6 1078.5,134.4 1080.0,133.1 1081.4,131.7 1082.7,130.2 1083.9,128.6 1085.0,126.9 1086.1,125.2 1087.1,123.4 1088.1,121.6 1089.1,119.9 1090.1,118.1 1091.0,116.3 1092.0,114.6 1093.0,112.8 1093.9,111.1 1094.8,109.3 1095.7,107.5 1096.6,105.7 1097.5,104.0 1098.3,102.2 1099.2,100.4 1100.0,98.5 1100.8,96.7 1101.5,94.9 1102.3,93.0 1103.0,91.1 1103.7,89.2 1104.4,87.3 1105.0,85.4 1105.6,83.4 1106.2,81.5 1106.8,79.5 1107.4,77.5 1108.0,75.5 1108.6,73.5 1109.2,71.6 1109.9,69.7 1110.7,67.8 1111.5,66.0 1112.3,64.2 1113.3,62.5 1114.3,60.8 1115.5,59.3 1116.7,57.8 1118.1,56.4 1119.7,55.1 1121.3,53.9 1123.1,52.9 1125.0,52.1 1127.0,51.6 1128.8,51.7 1130.6,52.2 1132.3,53.2 1133.9,54.4 1135.5,55.9 1137.0,57.4 1138.6,58.9 1140.1,60.5 1141.6,62.0 1143.2,63.4 1144.8,64.6 1146.5,65.6 1148.2,66.4 1150.0,67.1 1151.9,67.5 1153.8,67.8 1155.7,68.0 1157.7,68.0 1159.7,67.9 1161.7,67.7 1163.7,67.3 1165.6,66.9 1167.6,66.4 1169.6,65.9 1171.5,65.2 1173.4,64.6 1175.3,63.8 1177.2,63.1 1179.0,62.3 1180.9,61.5 1182.7,60.7 1184.6,59.9 1186.4,59.1 1188.2,58.3 1190.0,57.6 1191.9,56.8 1193.7,56.1 1195.6,55.5 1197.5,54.9 1199.4,54.3 1201.4,53.8 1203.3,53.4 1205.3,53.1 1207.3,52.8 1209.4,52.7 1211.5,52.6 1211.5,145.5 1211.5,147.6 1211.4,149.6 1211.4,151.6 1211.3,153.6 1211.2,155.7 1211.1,157.7 1211.0,159.7 1210.9,161.7 1210.7,163.7 1210.5,165.7 1210.3,167.6 1210.1,169.6 1209.9,171.6 1209.6,173.6 1209.4,175.5 1209.1,177.5 1208.8,179.5 1208.4,181.4 1208.1,183.4 1207.7,185.4 1207.3,187.3 1206.8,189.3 1206.4,191.3 1205.9,193.2 1205.3,195.2 1204.8,197.2 1204.2,199.1 1203.6,201.0 1202.9,203.0 1202.2,204.9 1201.5,206.8 1200.6,208.6 1199.8,210.4 1198.9,212.2 1197.9,214.0 1196.9,215.7 1195.8,217.4 1194.6,219.0 1193.4,220.6 1192.2,222.1 1190.9,223.6 1189.5,225.1 1188.1,226.6 1186.7,228.0 1185.3,229.4 1183.9,230.9 1182.4,232.3 1181.0,233.7 1179.6,235.2 1178.2,236.6 1176.8,238.1 1175.5,239.6 1174.1,241.1 1172.8,242.6 1171.5,244.1 1170.2,245.7 1168.9,247.2 1167.7,248.8 1166.4,250.4 1165.2,251.9 1164.0,253.5 1162.8,255.1 1161.6,256.8 1160.4,258.4 1159.3,260.0 1158.1,261.7 1157.0,263.3 1155.9,265.0 1154.8,266.7 1153.6,268.3 1152.5,270.0 1151.5,271.7 1150.4,273.4 1149.3,275.1 1148.2,276.8 1147.2,278.5 1146.1,280.2 1145.1,281.9 1144.0,283.6 1143.0,285.4 1142.0,287.1 1140.9,288.8 1139.9,290.5 1138.9,292.3 1137.9,294.0 1136.8,295.7 1135.8,297.5 1134.8,299.2 1133.8,300.9 1132.7,302.6 1131.7,304.3 1130.6,306.0 1129.5,307.7 1128.3,309.3 1127.0,310.9 1125.7,312.5 1124.2,314.0 1122.7,315.4 1121.0,316.8 1119.3,318.0 1117.5,318.9 1115.7,319.5 1113.8,319.8 1112.0,319.6 1110.2,319.1 1108.4,318.2 1106.6,317.2 1104.9,315.9 1103.3,314.6 1101.7,313.2 1100.1,311.8 1098.6,310.4 1097.2,308.9 1095.8,307.4 1094.4,305.9 1093.1,304.3 1091.9,302.7 1090.6,301.1 1089.4,299.5 1088.2,297.9 1087.1,296.3 1085.9,294.7 1084.8,293.0 1083.7,291.4 1082.5,289.7 1081.4,288.1 1080.3,286.4 1079.2,284.8 1078.1,283.2 1076.9,281.5 1075.8,279.9 1074.6,278.3 1073.5,276.7 1072.3,275.1 1071.1,273.5 1069.9,271.9 1068.7,270.3 1067.5,268.7 1066.3,267.1 1065.0,265.5 1063.8,263.9 1062.5,262.3 1061.2,260.8 1059.9,259.2 1058.5,257.7 1057.2,256.2 1055.8,254.6 1054.4,253.1 1053.0,251.7 1051.6,250.2 1050.2,248.8 1048.7,247.4 1047.2,246.0 1045.7,244.6 1044.2,243.3 1042.7,242.0 1041.1,240.7 1039.5,239.5 1037.9,238.3 1036.3,237.2 1034.7,236.0 1033.0,235.0 1031.3,233.9 1029.6,232.9 1027.9,232.0 1026.1,231.1 1024.4,230.2 1022.6,229.4 1020.7,228.7 1018.9,228.0 1017.0,227.3 1015.1,226.7 1013.2,226.2 1011.3,225.6 1009.3,225.2 1007.4,224.7 1005.4,224.3 1003.4,224.0 1001.4,223.6 999.4,223.3 997.4,223.0 995.3,222.8 993.3,222.5 991.3,222.3 989.2,222.1 987.2,221.9 985.1,221.7 983.1,221.6 981.0,221.4 979.0,221.2 976.9,221.1 974.9,220.9 972.9,220.8 970.9,220.6 968.9,220.4 966.9,220.3 964.9,220.2 962.9,220.2 961.0,220.3 959.0,220.5 957.1,220.9 955.2,221.4 953.4,222.0 951.5,222.7 949.7,223.6 947.9,224.5 946.2,225.6 944.5,226.7 942.9,228.0 941.3,229.3 939.8,230.7 938.3,232.1 936.9,233.7 935.6,235.2 934.4,236.9 933.2,238.5 932.1,240.3 931.1,242.0 930.1,243.8 929.3,245.5 928.5,247.3 927.9,249.2 927.2,251.0 926.7,252.9 926.2,254.8 925.7,256.7 925.2,258.7 924.8,260.7 924.3,262.8 923.9,264.9 923.4,267.0 922.8,269.1 922.2,271.2 921.4,273.2 920.6,275.0 919.5,276.8 918.3,278.3 916.9,279.6 915.4,280.5 913.9,280.8 912.4,280.5 910.9,279.7 909.3,278.5 907.8,277.0 906.2,275.4 904.5,273.8 902.7,272.4 900.9,271.2 899.0,270.4 897.0,269.9 895.1,269.9 893.3,270.3 891.6,271.0 890.1,272.0 888.6,273.2 887.2,274.7 886.0,276.4 884.8,278.2 883.8,280.0 882.9,282.0 882.0,283.9 881.2,285.9 880.5,287.8 879.9,289.8 879.3,291.7 878.8,293.6 878.3,295.5 877.8,297.4 877.3,299.3 876.8,301.2 876.3,303.0 875.7,304.8 875.2,306.6 874.6,308.5 874.0,310.3 873.3,312.1 872.7,314.0 872.1,316.0 871.5,317.9 871.0,320.0 870.4,322.1 869.9,324.3 869.5,326.5 869.0,328.8 868.4,331.0 867.7,333.0 866.9,334.9 866.0,336.6 864.8,337.9 863.3,338.9 861.6,339.4 859.8,339.5 857.9,339.0 856.2,338.1 854.5,336.9 852.9,335.4 851.5,333.9 850.3,332.2 849.1,330.5 848.1,328.8 847.3,327.1 846.4,325.3 845.7,323.5 844.9,321.7 844.2,319.8 843.4,317.9 842.6,316.1 841.8,314.2 840.9,312.3 839.8,310.5 838.7,308.6 837.4,306.8 836.0,305.1 834.6,303.5 833.1,302.0 831.5,300.7 829.8,299.5 828.1,298.6 826.3,298.0 824.5,297.6 822.7,297.4 820.8,297.4 819.0,297.6 817.1,297.9 815.2,298.5 813.3,299.1 811.4,299.9 809.6,300.8 807.8,301.8 806.0,302.9 804.2,304.0 802.5,305.1 800.8,306.3 799.2,307.6 797.7,308.9 796.1,310.2 794.6,311.6 793.2,313.0 791.8,314.4 790.4,315.9 789.1,317.4 787.8,319.0 786.5,320.5 785.3,322.1 784.1,323.8 783.0,325.4 781.9,327.1 780.8,328.8 779.7,330.5 778.7,332.2 777.7,334.0 776.8,335.7 775.8,337.5 774.9,339.3 774.1,341.1 773.2,342.9 772.4,344.8 771.6,346.6 770.8,348.4 770.1,350.3 769.3,352.2 768.6,354.0 767.9,355.9 767.2,357.8 766.6,359.7 766.0,361.6 765.4,363.5 764.8,365.4 764.2,367.4 763.6,369.3 763.1,371.2 762.5,373.2 762.0,375.1 761.5,377.0 761.0,379.0 760.5,380.9 760.0,382.9 759.6,384.9 759.1,386.8 758.7,388.8 758.2,390.7 757.8,392.7 757.4,394.7 757.0,396.6 756.5,398.6" stroke="#111111" class="cv"/>
</g>
<path d="M828.4,415.3v-7M828.4,12.0v7M924.2,415.3v-7M924.2,12.0v7M1019.9,415.3v-7M1019.9,12.0v7M1115.7,415.3v-7M1115.7,12.0v7M1211.5,415.3v-7M1211.5,12.0v7M780.5,415.3v-5.5M780.5,12.0v5.5M876.3,415.3v-5.5M876.3,12.0v5.5M972.1,415.3v-5.5M972.1,12.0v5.5M1067.8,415.3v-5.5M1067.8,12.0v5.5M1163.6,415.3v-5.5M1163.6,12.0v5.5M732.6,401.4h7M1259.4,401.4h-7M732.6,345.8h7M1259.4,345.8h-7M732.6,290.1h7M1259.4,290.1h-7M732.6,234.5h7M1259.4,234.5h-7M732.6,178.9h7M1259.4,178.9h-7M732.6,123.3h7M1259.4,123.3h-7M732.6,67.6h7M1259.4,67.6h-7M732.6,373.6h5.5M1259.4,373.6h-5.5M732.6,318.0h5.5M1259.4,318.0h-5.5M732.6,262.3h5.5M1259.4,262.3h-5.5M732.6,206.7h5.5M1259.4,206.7h-5.5M732.6,151.1h5.5M1259.4,151.1h-5.5M732.6,95.4h5.5M1259.4,95.4h-5.5M732.6,39.8h5.5M1259.4,39.8h-5.5" class="tk"/>
<rect x="732.6" y="12.0" width="526.8" height="403.3" class="fr"/>
<text transform="translate(732.6,443.4) scale(0.95,1)" class="tl" text-anchor="middle">0.0</text>
<text transform="translate(828.4,443.4) scale(0.95,1)" class="tl" text-anchor="middle">0.2</text>
<text transform="translate(924.2,443.4) scale(0.95,1)" class="tl" text-anchor="middle">0.4</text>
<text transform="translate(1019.9,443.4) scale(0.95,1)" class="tl" text-anchor="middle">0.6</text>
<text transform="translate(1115.7,443.4) scale(0.95,1)" class="tl" text-anchor="middle">0.8</text>
<text transform="translate(1211.5,443.4) scale(0.95,1)" class="tl" text-anchor="middle">1.0</text>
<text transform="translate(724.0,20.1) scale(0.97,1)" class="tl" text-anchor="end">60</text>
<text transform="translate(724.0,75.8) scale(0.97,1)" class="tl" text-anchor="end">40</text>
<text transform="translate(724.0,131.4) scale(0.97,1)" class="tl" text-anchor="end">20</text>
<text transform="translate(724.0,187.0) scale(0.97,1)" class="tl" text-anchor="end">0</text>
<text transform="translate(724.0,242.7) scale(0.97,1)" class="tl" text-anchor="end">-20</text>
<text transform="translate(724.0,298.3) scale(0.97,1)" class="tl" text-anchor="end">-40</text>
<text transform="translate(724.0,353.9) scale(0.97,1)" class="tl" text-anchor="end">-60</text>
<text transform="translate(724.0,409.5) scale(0.97,1)" class="tl" text-anchor="end">-80</text>
<text x="996.0" y="471.2" font-size="27.0" text-anchor="middle">E vs RHE [V]</text>
<text x="743.1" y="45.3" class="nm">poly-Pt</text>
<text x="1232.8" y="40.0" class="lt" text-anchor="end">c</text>
<path d="M118.0,494.0V899.0M144.5,494.0V899.0M170.9,494.0V899.0M223.8,494.0V899.0M250.2,494.0V899.0M276.7,494.0V899.0M329.6,494.0V899.0M356.0,494.0V899.0M382.4,494.0V899.0M435.3,494.0V899.0M461.8,494.0V899.0M488.2,494.0V899.0M541.1,494.0V899.0M567.5,494.0V899.0M594.0,494.0V899.0M91.6,879.7H620.4M91.6,802.6H620.4M91.6,725.4H620.4M91.6,648.3H620.4M91.6,571.1H620.4" class="gd"/>
<path d="M197.4,494.0V899.0M303.1,494.0V899.0M408.9,494.0V899.0M514.6,494.0V899.0M91.6,841.1H620.4M91.6,764.0H620.4M91.6,686.9H620.4M91.6,609.7H620.4M91.6,532.6H620.4" class="gs"/>
<rect x="91.6" y="494" width="119.4" height="38.5" fill="#fff"/>
<rect x="470" y="802" width="135.0" height="97.0" fill="#fff"/>
<clipPath id="clipb"><rect x="91.6" y="494.0" width="528.8" height="405.0"/></clipPath><g clip-path="url(#clipb)">
<path d="M144.5,857.3 144.5,855.3 144.5,853.3 144.5,851.3 144.5,849.3 144.5,847.3 144.5,845.3 144.5,843.3 144.5,841.3 144.5,839.3 144.5,837.3 144.5,835.3 144.5,833.3 144.6,831.3 144.6,829.3 144.6,827.3 144.6,825.3 144.6,823.3 144.6,821.2 144.7,819.2 144.7,817.2 144.7,815.2 144.8,813.2 144.8,811.2 144.8,809.2 144.8,807.2 144.9,805.2 144.9,803.2 145.0,801.2 145.0,799.2 145.0,797.2 145.1,795.2 145.1,793.2 145.2,791.2 145.2,789.2 145.3,787.1 145.4,785.1 145.4,783.1 145.5,781.1 145.5,779.1 145.6,777.1 145.7,775.1 145.8,773.1 145.8,771.1 145.9,769.1 146.0,767.1 146.1,765.1 146.2,763.1 146.2,761.1 146.3,759.1 146.4,757.1 146.5,755.1 146.6,753.1 146.7,751.1 146.8,749.1 146.9,747.1 147.1,745.1 147.2,743.0 147.3,741.0 147.4,739.0 147.5,737.0 147.7,735.0 147.8,733.0 147.9,731.0 148.1,729.0 148.2,727.0 148.3,725.0 148.5,723.0 148.6,721.0 148.8,719.0 148.9,717.0 149.1,715.0 149.3,713.0 149.4,711.0 149.6,709.0 149.8,707.0 150.0,705.0 150.1,703.0 150.3,701.0 150.5,699.0 150.7,697.1 150.9,695.1 151.1,693.1 151.3,691.1 151.5,689.1 151.7,687.1 152.0,685.1 152.2,683.1 152.4,681.1 152.6,679.1 152.9,677.1 153.1,675.1 153.4,673.1 153.6,671.1 153.9,669.1 154.1,667.2 154.4,665.2 154.7,663.2 155.0,661.2 155.3,659.2 155.6,657.2 155.9,655.3 156.2,653.3 156.6,651.3 156.9,649.3 157.3,647.4 157.7,645.4 158.1,643.4 158.5,641.5 158.9,639.5 159.3,637.5 159.8,635.6 160.3,633.6 160.8,631.7 161.3,629.8 161.8,627.8 162.4,625.9 163.0,624.0 163.6,622.1 164.3,620.2 165.1,618.4 165.9,616.5 166.9,614.7 167.9,613.0 168.9,611.2 170.1,609.5 171.4,607.9 172.7,606.4 174.1,604.9 175.6,603.5 177.1,602.2 178.7,601.0 180.4,599.9 182.1,598.9 183.9,598.1 185.7,597.4 187.6,596.9 189.6,596.4 191.6,596.1 193.5,595.9 195.6,595.7 197.6,595.6 199.6,595.6 201.6,595.5 203.6,595.5 205.7,595.6 207.7,595.6 209.7,595.7 211.7,595.8 213.7,595.9 215.7,596.1 217.7,596.2 219.7,596.4 221.7,596.6 223.7,596.8 225.7,597.1 227.7,597.3 229.7,597.6 231.7,597.9 233.7,598.2 235.7,598.5 237.7,598.8 239.7,599.1 241.6,599.4 243.6,599.7 245.6,600.0 247.6,600.3 249.6,600.7 251.5,601.0 253.5,601.3 255.5,601.6 257.5,601.9 259.4,602.2 261.4,602.5 263.4,602.8 265.3,603.0 267.3,603.3 269.3,603.5 271.3,603.7 273.3,603.9 275.2,604.1 277.2,604.3 279.2,604.5 281.2,604.6 283.2,604.7 285.2,604.8 287.2,604.9 289.3,604.9 291.3,604.9 293.3,604.9 295.3,604.8 297.4,604.7 299.4,604.6 301.5,604.5 303.5,604.3 305.5,604.1 307.6,603.9 309.6,603.6 311.6,603.3 313.6,602.9 315.7,602.5 317.6,602.1 319.6,601.6 321.6,601.1 323.5,600.6 325.5,600.0 327.4,599.4 329.3,598.7 331.1,598.0 333.0,597.2 334.8,596.4 336.6,595.6 338.3,594.7 340.1,593.8 341.8,592.8 343.4,591.8 345.0,590.7 346.6,589.5 348.2,588.4 349.7,587.1 351.2,585.8 352.6,584.5 354.0,583.1 355.3,581.7 356.6,580.2 357.8,578.6 359.0,577.0 360.2,575.4 361.4,573.7 362.5,572.0 363.6,570.3 364.7,568.5 365.8,566.8 366.9,565.0 368.0,563.2 369.1,561.5 370.3,559.8 371.4,558.0 372.7,556.4 373.9,554.7 375.2,553.1 376.6,551.5 378.0,550.0 379.5,548.5 381.0,547.1 382.6,545.7 384.3,544.5 386.0,543.4 387.7,542.5 389.5,541.7 391.3,541.0 393.1,540.6 394.9,540.5 396.7,540.5 398.5,540.8 400.2,541.3 402.0,542.0 403.7,542.8 405.5,543.8 407.2,545.0 409.0,546.1 410.7,547.4 412.4,548.7 414.1,550.0 415.9,551.4 417.6,552.6 419.3,553.9 421.1,555.0 422.8,556.0 424.6,557.0 426.3,557.8 428.1,558.6 429.9,559.3 431.7,560.0 433.5,560.6 435.4,561.2 437.3,561.8 439.2,562.3 441.1,562.9 443.1,563.4 445.0,564.0 447.0,564.6 448.9,565.2 450.8,565.8 452.7,566.5 454.6,567.2 456.5,568.0 458.3,568.8 460.0,569.8 461.8,570.8 463.4,571.9 465.0,573.0 466.6,574.3 468.2,575.5 469.7,576.8 471.3,578.1 472.8,579.5 474.3,580.8 475.9,582.0 477.5,583.3 479.0,584.5 480.7,585.6 482.3,586.8 483.9,588.0 485.5,589.1 487.2,590.2 488.8,591.3 490.5,592.4 492.1,593.5 493.8,594.5 495.5,595.6 497.2,596.7 498.8,597.7 500.5,598.8 502.2,599.9 503.9,601.0 505.5,602.1 507.2,603.2 508.8,604.3 510.5,605.5 512.1,606.6 513.8,607.8 515.4,609.0 517.0,610.2 518.6,611.5 520.2,612.7 521.9,614.0 523.5,615.3 525.1,616.6 526.7,617.8 528.3,619.1 529.9,620.3 531.5,621.6 533.1,622.8 534.8,623.9 536.4,625.1 538.1,626.2 539.8,627.3 541.5,628.3 543.2,629.3 545.0,630.2 546.7,631.1 548.5,631.9 550.3,632.7 552.1,633.5 554.0,634.2 555.8,634.9 557.7,635.5 559.6,636.1 561.5,636.7 563.4,637.2 565.3,637.7 567.2,638.1 569.2,638.6 571.1,638.9 573.1,639.3 575.1,639.6 577.1,639.9 579.1,640.2 581.1,640.5 583.1,640.7 585.1,640.9 587.1,641.1 589.1,641.2 591.2,641.3 593.2,641.5 595.2,641.6 597.3,641.6 599.3,641.7 601.4,641.7 603.4,641.8 605.5,641.8 607.5,641.8 609.6,641.8 611.6,641.7 613.6,641.7 615.7,641.7 617.7,641.6 619.8,641.6 621.8,641.5 623.8,641.5 625.8,641.4 627.9,641.3 629.9,641.3 631.9,641.2 633.9,641.1 635.9,641.0 637.9,640.9 639.9,640.8 641.9,640.7 643.9,640.6 645.8,640.5 647.8,640.4 649.8,640.2 651.8,640.1 653.8,640.0 655.7,639.8 657.7,639.7 659.7,639.5 661.7,639.3 663.6,639.2 665.6,639.0 667.6,638.8 669.6,638.6 671.5,638.4 673.5,638.2 675.5,638.0 677.4,637.8 679.4,637.5 681.4,637.3 683.4,637.1 685.3,636.8 687.3,636.6 689.3,636.3 691.3,636.0 693.3,635.8 695.2,635.5 697.2,635.2 699.2,634.9 701.2,634.6 703.2,634.2 705.2,633.9 707.2,633.6 709.2,633.3 711.2,632.9 713.2,632.6 715.2,632.2 717.2,631.9 719.2,631.6 721.1,631.2 723.1,630.9 725.1,630.5 727.1,630.2 729.1,629.8 731.1,629.5 733.1,629.1 735.1,628.8 737.0,628.5 739.0,628.1 741.0,627.8 743.0,627.4 745.0,627.1 746.9,626.8 748.9,626.4 750.9,626.1 752.8,625.8 754.8,625.4 756.8,625.1 758.8,624.8 760.7,624.4 762.7,624.1 764.7,623.8 766.6,623.4 768.6,623.1 770.6,622.8 772.5,622.4 774.5,622.1 776.5,621.8 778.5,621.5 780.4,621.1 782.4,620.8 784.4,620.5 786.3,620.1 788.3,619.8 790.3,619.5 792.3,619.1 794.2,618.8 796.2,618.5 798.2,618.1 800.2,617.8 802.1,617.5 804.1,617.1 806.1,616.8 808.1,616.5 810.1,616.1 812.1,615.8 814.0,615.5 816.0,615.2 818.0,614.9 820.0,614.6 822.0,614.3 824.0,614.0 826.0,613.7 828.0,613.4 830.0,613.2 832.0,612.9 833.9,612.7 835.9,612.5 837.9,612.2 839.9,612.0 841.9,611.9 843.9,611.7 845.9,611.5 847.9,611.3 849.9,611.2 851.9,611.0 853.9,610.8 855.9,610.7 857.8,610.5 859.8,610.4 861.8,610.2 863.8,610.1 865.8,609.9 867.8,609.8 869.8,609.6 871.8,609.5 873.8,609.3 875.8,609.1 877.8,609.0 879.8,608.8 881.8,608.6 883.8,608.4 885.8,608.2 887.9,608.0 889.9,607.7 891.9,607.5 893.9,607.2 895.9,607.0 897.9,606.7 899.9,606.4 901.9,606.1 903.9,605.7 905.9,605.3 907.9,604.9 909.8,604.5 911.8,604.0 913.7,603.5 915.6,602.9 917.5,602.3 919.4,601.6 921.2,600.9 923.1,600.2 924.9,599.4 926.7,598.5 928.4,597.7 930.2,596.8 931.9,595.8 933.6,594.8 935.4,593.8 937.0,592.8 938.7,591.7 940.4,590.6 942.1,589.5 943.7,588.4 945.4,587.3 947.1,586.1 948.7,585.0 950.4,583.8 952.0,582.7 953.7,581.5 955.3,580.3 957.0,579.2 958.7,578.0 960.3,576.9 962.0,575.7 963.7,574.6 965.4,573.5 967.1,572.4 968.9,571.3 970.6,570.3 972.4,569.3 974.2,568.3 976.0,567.3 977.8,566.4 979.7,565.5 981.5,564.7 983.4,563.9 985.3,563.1 987.2,562.4 989.1,561.7 991.0,561.1 992.9,560.5 994.9,560.0 996.8,559.6 998.8,559.2 1000.7,558.9 1002.7,558.6 1004.7,558.4 1006.6,558.3 1008.6,558.2 1010.6,558.1 1012.6,558.2 1014.6,558.2 1016.5,558.4 1018.5,558.5 1020.5,558.7 1022.5,559.0 1024.5,559.2 1026.5,559.6 1028.4,559.9 1030.4,560.3 1032.4,560.7 1034.4,561.1 1036.3,561.6 1038.3,562.1 1040.2,562.6 1042.2,563.1 1044.1,563.6 1046.1,564.2 1048.0,564.7 1049.9,565.3 1051.9,565.8 1053.8,566.4 1055.7,566.9 1057.7,567.5 1059.6,568.0 1061.5,568.5 1063.4,569.0 1065.4,569.5 1067.3,570.0 1069.3,570.4 1071.2,570.9 1073.2,571.3 1075.2,571.6 1077.1,572.0 1079.1,572.3 1081.1,572.6 1083.1,572.9 1085.0,573.2 1087.0,573.5 1089.0,573.7 1091.0,573.9 1093.0,574.1 1095.0,574.3 1097.0,574.5 1099.0,574.6 1101.1,574.8 1103.1,574.9 1105.1,575.0 1107.1,575.1 1109.1,575.2 1111.1,575.2 1113.1,575.3 1115.1,575.3 1117.2,575.3 1119.2,575.4 1121.2,575.4 1123.2,575.3 1125.2,575.3 1127.2,575.3 1129.2,575.3 1131.2,575.2 1133.2,575.1 1135.3,575.1 1137.3,575.0 1139.3,574.9 1141.2,574.8 1143.2,574.7 1145.2,574.6 1147.2,574.5 1149.2,574.4 1149.2,671.4 1149.7,673.7 1150.0,675.8 1150.0,677.9 1149.9,680.0 1149.5,681.9 1149.0,683.8 1148.4,685.7 1147.6,687.4 1146.6,689.2 1145.6,690.8 1144.4,692.4 1143.1,694.0 1141.8,695.5 1140.4,697.0 1138.9,698.4 1137.4,699.8 1135.9,701.1 1134.3,702.4 1132.8,703.6 1131.2,704.8 1129.5,706.0 1127.9,707.2 1126.2,708.3 1124.6,709.3 1122.9,710.4 1121.2,711.4 1119.4,712.3 1117.7,713.3 1115.9,714.2 1114.1,715.1 1112.3,716.0 1110.5,716.8 1108.7,717.6 1106.9,718.4 1105.0,719.2 1103.2,719.9 1101.3,720.7 1099.4,721.4 1097.5,722.1 1095.7,722.8 1093.8,723.5 1091.9,724.1 1090.0,724.8 1088.0,725.4 1086.1,726.1 1084.2,726.7 1082.3,727.3 1080.4,727.9 1078.4,728.5 1076.5,729.1 1074.6,729.7 1072.7,730.3 1070.8,730.9 1068.8,731.5 1066.9,732.1 1065.0,732.7 1063.1,733.3 1061.1,733.9 1059.2,734.5 1057.3,735.0 1055.4,735.6 1053.5,736.2 1051.5,736.7 1049.6,737.3 1047.7,737.9 1045.8,738.4 1043.8,739.0 1041.9,739.6 1040.0,740.1 1038.1,740.7 1036.1,741.2 1034.2,741.8 1032.3,742.3 1030.4,742.9 1028.4,743.4 1026.5,744.0 1024.6,744.5 1022.7,745.1 1020.7,745.6 1018.8,746.1 1016.9,746.7 1015.0,747.2 1013.0,747.7 1011.1,748.3 1009.2,748.8 1007.3,749.3 1005.3,749.9 1003.4,750.4 1001.5,750.9 999.5,751.5 997.6,752.0 995.7,752.5 993.8,753.0 991.8,753.6 989.9,754.1 988.0,754.6 986.0,755.2 984.1,755.7 982.2,756.2 980.2,756.7 978.3,757.3 976.4,757.8 974.4,758.3 972.5,758.8 970.6,759.4 968.6,759.9 966.7,760.4 964.8,761.0 962.8,761.5 960.9,762.0 958.9,762.5 957.0,763.0 955.1,763.6 953.1,764.1 951.2,764.5 949.2,765.0 947.3,765.5 945.3,766.0 943.4,766.4 941.4,766.8 939.5,767.2 937.5,767.6 935.5,768.0 933.6,768.4 931.6,768.7 929.6,769.0 927.6,769.3 925.6,769.6 923.7,769.9 921.7,770.1 919.7,770.4 917.7,770.6 915.7,770.8 913.7,771.1 911.7,771.2 909.7,771.4 907.7,771.6 905.7,771.8 903.7,771.9 901.7,772.1 899.7,772.3 897.7,772.4 895.7,772.5 893.7,772.7 891.7,772.8 889.6,772.9 887.6,773.1 885.6,773.2 883.6,773.3 881.6,773.4 879.6,773.6 877.6,773.7 875.6,773.8 873.6,774.0 871.6,774.1 869.6,774.2 867.6,774.4 865.6,774.5 863.6,774.6 861.6,774.8 859.6,774.9 857.6,775.1 855.6,775.2 853.6,775.4 851.6,775.5 849.6,775.7 847.6,775.9 845.7,776.0 843.7,776.2 841.7,776.3 839.7,776.5 837.7,776.7 835.7,776.8 833.7,777.0 831.7,777.2 829.7,777.3 827.7,777.5 825.7,777.7 823.7,777.9 821.7,778.0 819.8,778.2 817.8,778.4 815.8,778.6 813.8,778.7 811.8,778.9 809.8,779.1 807.8,779.3 805.8,779.4 803.8,779.6 801.8,779.8 799.8,780.0 797.8,780.2 795.8,780.3 793.8,780.5 791.8,780.7 789.8,780.9 787.8,781.1 785.8,781.2 783.8,781.4 781.8,781.6 779.8,781.8 777.8,782.0 775.8,782.1 773.8,782.3 771.8,782.5 769.8,782.7 767.8,782.9 765.8,783.0 763.7,783.2 761.7,783.4 759.7,783.5 757.7,783.7 755.7,783.8 753.7,784.0 751.7,784.1 749.7,784.2 747.6,784.3 745.6,784.4 743.6,784.5 741.6,784.6 739.6,784.7 737.6,784.7 735.6,784.7 733.6,784.8 731.6,784.7 729.6,784.7 727.6,784.7 725.6,784.6 723.6,784.5 721.6,784.4 719.6,784.3 717.6,784.2 715.6,784.0 713.6,783.8 711.7,783.6 709.7,783.4 707.7,783.2 705.7,782.9 703.8,782.6 701.8,782.3 699.8,782.0 697.9,781.7 695.9,781.4 693.9,781.0 692.0,780.6 690.0,780.2 688.1,779.8 686.1,779.4 684.2,779.0 682.2,778.5 680.3,778.1 678.3,777.6 676.4,777.1 674.4,776.6 672.5,776.1 670.6,775.6 668.6,775.0 666.7,774.5 664.8,773.9 662.9,773.3 660.9,772.7 659.0,772.1 657.1,771.5 655.2,770.9 653.3,770.3 651.4,769.7 649.4,769.0 647.5,768.4 645.6,767.7 643.7,767.1 641.8,766.4 639.9,765.8 638.0,765.1 636.1,764.4 634.2,763.8 632.3,763.1 630.4,762.4 628.5,761.8 626.6,761.1 624.7,760.4 622.8,759.8 620.9,759.1 619.0,758.5 617.1,757.9 615.2,757.2 613.3,756.6 611.3,756.0 609.4,755.4 607.5,754.8 605.6,754.2 603.7,753.6 601.8,753.1 599.8,752.5 597.9,752.0 596.0,751.4 594.1,750.9 592.1,750.5 590.2,750.0 588.3,749.5 586.3,749.1 584.4,748.7 582.4,748.3 580.5,747.9 578.5,747.5 576.5,747.2 574.6,746.9 572.6,746.6 570.6,746.3 568.6,746.1 566.7,745.8 564.7,745.7 562.7,745.5 560.7,745.4 558.7,745.2 556.7,745.2 554.7,745.1 552.6,745.0 550.6,745.0 548.6,745.0 546.6,745.1 544.6,745.1 542.6,745.2 540.5,745.3 538.5,745.4 536.5,745.6 534.5,745.8 532.5,746.0 530.5,746.2 528.5,746.4 526.5,746.7 524.5,746.9 522.5,747.2 520.5,747.6 518.5,747.9 516.5,748.3 514.6,748.6 512.6,749.0 510.6,749.5 508.7,749.9 506.7,750.4 504.8,750.8 502.8,751.3 500.9,751.8 499.0,752.3 497.1,752.9 495.1,753.4 493.2,754.0 491.3,754.6 489.4,755.1 487.5,755.7 485.6,756.3 483.7,756.9 481.8,757.6 479.9,758.2 478.0,758.8 476.1,759.5 474.2,760.1 472.3,760.8 470.4,761.4 468.5,762.1 466.7,762.8 464.8,763.4 462.9,764.1 461.0,764.8 459.1,765.4 457.2,766.1 455.3,766.8 453.4,767.4 451.5,768.1 449.6,768.8 447.7,769.4 445.8,770.1 443.9,770.7 442.0,771.4 440.1,772.0 438.2,772.6 436.3,773.2 434.4,773.8 432.5,774.4 430.5,775.0 428.6,775.7 426.7,776.3 424.8,776.9 423.0,777.6 421.1,778.3 419.3,779.1 417.4,779.9 415.7,780.7 413.9,781.6 412.2,782.6 410.5,783.7 408.9,784.8 407.3,786.1 405.8,787.4 404.3,788.8 402.9,790.3 401.5,791.8 400.2,793.4 398.8,795.0 397.6,796.6 396.3,798.2 395.2,799.9 394.0,801.6 392.9,803.3 391.8,804.9 390.7,806.6 389.7,808.3 388.7,810.0 387.7,811.7 386.7,813.4 385.7,815.1 384.8,816.8 383.8,818.6 382.9,820.3 381.9,822.0 381.0,823.7 380.0,825.5 379.1,827.2 378.1,829.0 377.2,830.7 376.2,832.5 375.2,834.2 374.2,836.0 373.1,837.8 372.1,839.6 371.0,841.3 369.8,843.1 368.7,844.9 367.5,846.7 366.3,848.5 365.0,850.2 363.7,851.9 362.3,853.5 360.9,855.0 359.4,856.4 357.9,857.6 356.3,858.7 354.7,859.6 353.0,860.3 351.3,860.8 349.5,861.1 347.7,861.1 345.9,861.0 344.1,860.6 342.3,860.1 340.4,859.4 338.6,858.5 336.9,857.4 335.1,856.3 333.4,855.0 331.8,853.7 330.2,852.3 328.7,850.8 327.2,849.3 325.8,847.8 324.4,846.3 323.1,844.7 321.9,843.1 320.7,841.4 319.5,839.8 318.4,838.1 317.2,836.4 316.1,834.7 315.0,833.0 313.9,831.4 312.9,829.7 311.8,828.0 310.7,826.3 309.6,824.6 308.5,823.0 307.3,821.4 306.1,819.8 304.9,818.2 303.7,816.6 302.4,815.1 301.1,813.6 299.7,812.2 298.3,810.8 296.8,809.4 295.3,808.0 293.8,806.7 292.2,805.4 290.6,804.2 289.0,803.0 287.3,801.8 285.6,800.7 283.9,799.6 282.1,798.6 280.3,797.6 278.5,796.7 276.7,795.9 274.9,795.1 273.0,794.4 271.1,793.9 269.2,793.4 267.3,793.0 265.4,792.7 263.4,792.5 261.5,792.4 259.5,792.4 257.5,792.5 255.6,792.7 253.6,793.0 251.6,793.3 249.6,793.7 247.7,794.2 245.7,794.6 243.7,795.1 241.8,795.6 239.8,796.2 237.9,796.8 236.0,797.4 234.0,798.1 232.1,798.7 230.2,799.4 228.3,800.1 226.4,800.9 224.5,801.6 222.6,802.4 220.7,803.1 218.9,803.9 217.0,804.7 215.2,805.6 213.4,806.4 211.6,807.3 209.8,808.2 208.0,809.1 206.3,810.1 204.5,811.0 202.8,812.1 201.1,813.1 199.5,814.2 197.9,815.3 196.3,816.5 194.7,817.7 193.1,819.0 191.6,820.3 190.1,821.6 188.6,822.9 187.2,824.3 185.7,825.7 184.3,827.0 182.8,828.5 181.4,829.9 180.0,831.3 178.5,832.7 177.1,834.2 175.7,835.6 174.2,837.0 172.8,838.4 171.3,839.8 169.8,841.2 168.3,842.5 166.8,843.8 165.3,845.1 163.8,846.4 162.2,847.6 160.6,848.8 158.9,850.0 157.3,851.1 155.6,852.2 153.8,853.2 152.1,854.1 150.2,855.0 148.4,855.9 146.4,856.6 144.5,857.3" stroke="#2b2bd6" class="cv"/>
<path d="M144.5,880.7 144.5,878.7 144.5,876.7 144.5,874.7 144.4,872.7 144.4,870.7 144.4,868.7 144.4,866.7 144.4,864.7 144.4,862.7 144.4,860.7 144.4,858.7 144.4,856.7 144.4,854.7 144.4,852.7 144.4,850.7 144.4,848.7 144.4,846.6 144.4,844.6 144.5,842.6 144.5,840.6 144.5,838.6 144.5,836.6 144.5,834.6 144.5,832.6 144.5,830.6 144.5,828.6 144.6,826.6 144.6,824.6 144.6,822.6 144.6,820.6 144.7,818.6 144.7,816.6 144.7,814.5 144.7,812.5 144.8,810.5 144.8,808.5 144.8,806.5 144.9,804.5 144.9,802.5 145.0,800.5 145.0,798.5 145.0,796.5 145.1,794.5 145.1,792.5 145.2,790.4 145.3,788.4 145.3,786.4 145.4,784.4 145.4,782.4 145.5,780.4 145.6,778.4 145.6,776.4 145.7,774.4 145.8,772.4 145.9,770.4 145.9,768.4 146.0,766.4 146.1,764.4 146.2,762.3 146.3,760.3 146.4,758.3 146.5,756.3 146.6,754.3 146.7,752.3 146.8,750.3 146.9,748.3 147.0,746.3 147.1,744.3 147.2,742.3 147.3,740.3 147.4,738.3 147.6,736.3 147.7,734.3 147.8,732.3 148.0,730.3 148.1,728.3 148.2,726.3 148.4,724.3 148.5,722.3 148.7,720.3 148.8,718.3 149.0,716.3 149.2,714.3 149.3,712.3 149.5,710.3 149.7,708.3 149.8,706.3 150.0,704.3 150.2,702.3 150.4,700.3 150.6,698.3 150.8,696.3 151.0,694.3 151.2,692.4 151.4,690.4 151.6,688.4 151.8,686.4 152.1,684.4 152.3,682.4 152.5,680.4 152.7,678.4 153.0,676.4 153.2,674.5 153.5,672.5 153.7,670.5 154.0,668.5 154.2,666.5 154.5,664.5 154.8,662.6 155.1,660.6 155.4,658.6 155.7,656.6 156.0,654.6 156.4,652.7 156.7,650.7 157.1,648.7 157.4,646.7 157.8,644.8 158.2,642.8 158.6,640.8 159.0,638.8 159.5,636.9 159.9,634.9 160.4,632.9 160.9,631.0 161.4,629.0 162.0,627.0 162.6,625.1 163.2,623.2 163.8,621.2 164.6,619.4 165.4,617.5 166.2,615.7 167.2,613.9 168.2,612.2 169.3,610.6 170.5,609.0 171.8,607.4 173.1,605.9 174.5,604.5 176.0,603.1 177.5,601.8 179.1,600.6 180.8,599.5 182.5,598.4 184.2,597.4 186.0,596.5 187.8,595.7 189.7,595.0 191.5,594.4 193.4,593.8 195.4,593.4 197.3,593.1 199.2,592.8 201.2,592.7 203.2,592.7 205.2,592.7 207.2,592.8 209.2,593.0 211.2,593.2 213.2,593.5 215.2,593.8 217.2,594.2 219.3,594.5 221.3,594.9 223.3,595.3 225.4,595.6 227.4,596.0 229.4,596.3 231.4,596.6 233.5,596.9 235.5,597.1 237.5,597.3 239.5,597.5 241.5,597.7 243.5,597.9 245.5,598.1 247.5,598.2 249.5,598.4 251.5,598.6 253.5,598.8 255.4,599.0 257.4,599.3 259.3,599.5 261.3,599.7 263.2,600.0 265.2,600.2 267.1,600.4 269.1,600.7 271.0,600.9 273.0,601.1 275.0,601.4 276.9,601.6 278.9,601.8 280.9,601.9 282.9,602.1 284.9,602.3 286.9,602.4 288.9,602.5 291.0,602.6 293.0,602.7 295.1,602.7 297.1,602.7 299.2,602.7 301.3,602.6 303.4,602.6 305.5,602.5 307.5,602.3 309.6,602.1 311.7,601.9 313.7,601.6 315.8,601.4 317.8,601.0 319.8,600.6 321.8,600.2 323.8,599.7 325.8,599.2 327.7,598.7 329.6,598.1 331.5,597.4 333.3,596.7 335.1,595.9 336.9,595.1 338.6,594.2 340.3,593.3 342.0,592.3 343.6,591.2 345.1,590.1 346.7,589.0 348.1,587.7 349.6,586.4 351.0,585.1 352.3,583.7 353.7,582.3 355.0,580.9 356.3,579.4 357.5,577.8 358.8,576.3 360.0,574.7 361.2,573.1 362.4,571.4 363.6,569.8 364.8,568.1 366.0,566.4 367.2,564.7 368.4,563.0 369.6,561.3 370.8,559.6 372.0,557.9 373.2,556.2 374.5,554.6 375.7,552.9 377.0,551.2 378.3,549.6 379.7,548.0 381.0,546.4 382.4,544.8 383.9,543.2 385.3,541.8 386.8,540.3 388.4,539.0 390.0,537.8 391.6,536.7 393.3,535.8 395.0,535.1 396.7,534.6 398.5,534.3 400.3,534.3 402.1,534.5 403.9,535.0 405.7,535.6 407.5,536.5 409.1,537.6 410.7,538.8 412.1,540.2 413.6,541.7 415.0,543.3 416.3,544.9 417.7,546.6 419.1,548.2 420.4,549.8 421.8,551.4 423.3,552.9 424.8,554.3 426.3,555.6 427.9,556.9 429.4,558.1 431.1,559.2 432.7,560.3 434.4,561.3 436.2,562.2 437.9,563.1 439.7,563.9 441.5,564.6 443.4,565.3 445.2,566.0 447.1,566.6 449.1,567.1 451.0,567.6 453.0,568.1 455.0,568.5 456.9,568.9 458.9,569.4 460.9,569.8 462.8,570.3 464.8,570.8 466.7,571.4 468.6,572.0 470.5,572.7 472.4,573.4 474.2,574.1 476.1,574.8 477.9,575.6 479.7,576.4 481.5,577.3 483.3,578.2 485.0,579.1 486.8,580.0 488.5,581.0 490.3,582.0 492.0,583.0 493.7,584.0 495.4,585.1 497.1,586.1 498.8,587.2 500.5,588.3 502.2,589.4 503.9,590.6 505.5,591.7 507.2,592.8 508.8,594.0 510.5,595.2 512.1,596.3 513.8,597.5 515.4,598.7 517.1,599.9 518.7,601.1 520.4,602.2 522.0,603.4 523.7,604.6 525.3,605.8 527.0,606.9 528.6,608.1 530.3,609.3 531.9,610.4 533.6,611.5 535.3,612.6 537.0,613.7 538.6,614.8 540.3,615.9 542.0,617.0 543.7,618.0 545.5,619.0 547.2,620.0 548.9,621.0 550.7,621.9 552.4,622.8 554.2,623.7 556.0,624.6 557.8,625.4 559.6,626.2 561.4,626.9 563.2,627.7 565.1,628.4 567.0,629.0 568.8,629.6 570.7,630.2 572.7,630.8 574.6,631.3 576.5,631.8 578.5,632.2 580.5,632.6 582.4,633.0 584.4,633.3 586.4,633.7 588.4,634.0 590.4,634.2 592.5,634.5 594.5,634.7 596.5,634.9 598.6,635.1 600.6,635.3 602.7,635.4 604.7,635.6 606.7,635.7 608.8,635.8 610.8,635.9 612.9,635.9 614.9,636.0 617.0,636.1 619.0,636.1 621.0,636.2 623.0,636.2 625.1,636.2 627.1,636.3 629.1,636.3 631.1,636.3 633.1,636.3 635.1,636.3 637.1,636.3 639.1,636.3 641.1,636.3 643.0,636.3 645.0,636.3 647.0,636.3 649.0,636.2 651.0,636.2 652.9,636.2 654.9,636.1 656.9,636.1 658.9,636.0 660.9,636.0 662.8,635.9 664.8,635.8 666.8,635.8 668.8,635.7 670.8,635.6 672.8,635.6 674.7,635.5 676.7,635.4 678.7,635.3 680.7,635.2 682.7,635.1 684.7,635.0 686.7,634.9 688.7,634.8 690.7,634.6 692.7,634.5 694.7,634.4 696.7,634.3 698.7,634.1 700.7,634.0 702.7,633.8 704.8,633.6 706.8,633.5 708.8,633.3 710.8,633.1 712.8,632.9 714.8,632.8 716.8,632.6 718.8,632.4 720.8,632.1 722.8,631.9 724.8,631.7 726.8,631.5 728.8,631.2 730.8,631.0 732.8,630.7 734.8,630.5 736.8,630.2 738.8,629.9 740.8,629.6 742.8,629.3 744.8,629.0 746.8,628.7 748.8,628.4 750.8,628.1 752.7,627.7 754.7,627.4 756.7,627.0 758.7,626.7 760.7,626.3 762.6,625.9 764.6,625.5 766.6,625.1 768.5,624.7 770.5,624.3 772.4,623.9 774.4,623.5 776.3,623.0 778.3,622.6 780.2,622.1 782.2,621.6 784.1,621.2 786.1,620.7 788.0,620.2 789.9,619.7 791.9,619.3 793.8,618.8 795.7,618.3 797.7,617.8 799.6,617.3 801.5,616.8 803.5,616.4 805.4,615.9 807.4,615.4 809.3,614.9 811.2,614.4 813.2,614.0 815.1,613.5 817.0,613.0 819.0,612.5 820.9,612.0 822.8,611.5 824.8,611.0 826.7,610.5 828.7,610.0 830.6,609.5 832.5,609.0 834.5,608.4 836.4,607.9 838.3,607.4 840.2,606.8 842.2,606.2 844.1,605.7 846.0,605.1 848.0,604.5 849.9,603.8 851.8,603.2 853.7,602.6 855.6,601.9 857.6,601.2 859.5,600.5 861.4,599.8 863.3,599.1 865.2,598.4 867.1,597.6 869.0,596.8 870.8,596.0 872.7,595.1 874.5,594.2 876.3,593.3 878.0,592.3 879.8,591.4 881.5,590.3 883.2,589.2 884.8,588.1 886.4,586.9 887.9,585.7 889.4,584.5 890.9,583.2 892.3,581.8 893.7,580.4 895.1,579.0 896.5,577.6 897.8,576.1 899.1,574.6 900.4,573.1 901.6,571.5 902.9,569.9 904.1,568.3 905.3,566.7 906.5,565.1 907.6,563.4 908.8,561.8 910.0,560.1 911.1,558.4 912.2,556.7 913.4,555.1 914.5,553.4 915.7,551.7 916.8,550.0 917.9,548.3 919.1,546.6 920.2,544.9 921.4,543.2 922.6,541.6 923.8,539.9 925.0,538.3 926.2,536.7 927.5,535.1 928.7,533.6 930.1,532.0 931.4,530.6 932.8,529.2 934.3,527.8 935.8,526.5 937.4,525.3 939.1,524.1 940.9,523.0 942.7,522.1 944.5,521.3 946.4,520.7 948.3,520.2 950.2,520.0 952.1,520.0 954.0,520.3 955.9,520.8 957.8,521.4 959.6,522.3 961.3,523.2 963.1,524.3 964.8,525.5 966.4,526.8 968.0,528.1 969.5,529.5 971.0,530.9 972.4,532.3 973.8,533.7 975.3,535.2 976.7,536.7 978.1,538.1 979.5,539.6 980.9,541.0 982.4,542.4 983.8,543.8 985.3,545.1 986.9,546.4 988.4,547.7 990.0,548.9 991.6,550.1 993.2,551.3 994.9,552.4 996.5,553.6 998.2,554.6 999.9,555.7 1001.7,556.7 1003.4,557.6 1005.2,558.6 1006.9,559.5 1008.7,560.4 1010.6,561.2 1012.4,562.1 1014.2,562.8 1016.1,563.6 1018.0,564.3 1019.9,565.0 1021.8,565.7 1023.7,566.4 1025.6,567.0 1027.5,567.6 1029.4,568.1 1031.4,568.6 1033.3,569.1 1035.3,569.6 1037.3,570.1 1039.3,570.5 1041.2,570.9 1043.2,571.2 1045.2,571.6 1047.2,571.9 1049.2,572.2 1051.2,572.4 1053.2,572.7 1055.2,572.9 1057.2,573.1 1059.2,573.2 1061.2,573.4 1063.2,573.5 1065.2,573.6 1067.2,573.6 1069.2,573.7 1071.2,573.7 1073.2,573.7 1075.2,573.7 1077.2,573.7 1079.2,573.7 1081.2,573.6 1083.2,573.6 1085.2,573.5 1087.2,573.4 1089.2,573.3 1091.2,573.2 1093.2,573.1 1095.2,572.9 1097.2,572.8 1099.2,572.7 1101.2,572.5 1103.2,572.3 1105.2,572.2 1107.2,572.0 1109.2,571.8 1111.2,571.6 1113.2,571.5 1115.2,571.3 1117.2,571.1 1119.2,570.9 1121.2,570.7 1123.2,570.6 1125.2,570.4 1127.2,570.2 1129.2,570.1 1131.2,569.9 1133.2,569.7 1135.2,569.6 1137.2,569.5 1139.2,569.3 1141.2,569.2 1143.2,569.1 1145.2,569.0 1147.2,568.9 1149.2,568.8 1149.2,671.4 1149.6,673.6 1149.7,675.8 1149.7,677.8 1149.6,679.9 1149.3,681.8 1148.8,683.8 1148.2,685.6 1147.4,687.4 1146.6,689.2 1145.6,690.9 1144.6,692.6 1143.4,694.2 1142.2,695.8 1140.9,697.4 1139.6,698.9 1138.2,700.3 1136.8,701.7 1135.3,703.1 1133.8,704.5 1132.3,705.8 1130.7,707.1 1129.2,708.3 1127.6,709.5 1125.9,710.7 1124.3,711.9 1122.6,713.0 1120.9,714.1 1119.2,715.2 1117.5,716.2 1115.7,717.2 1114.0,718.2 1112.2,719.2 1110.4,720.1 1108.6,721.0 1106.8,721.9 1105.0,722.8 1103.2,723.6 1101.4,724.5 1099.6,725.3 1097.7,726.1 1095.9,726.8 1094.0,727.6 1092.2,728.3 1090.3,729.1 1088.4,729.8 1086.5,730.5 1084.7,731.1 1082.8,731.8 1080.9,732.5 1079.0,733.1 1077.1,733.7 1075.2,734.4 1073.3,735.0 1071.4,735.6 1069.5,736.2 1067.6,736.8 1065.6,737.4 1063.7,738.0 1061.8,738.5 1059.9,739.1 1058.0,739.7 1056.0,740.2 1054.1,740.8 1052.2,741.4 1050.3,741.9 1048.3,742.5 1046.4,743.0 1044.5,743.6 1042.5,744.2 1040.6,744.7 1038.7,745.3 1036.8,745.9 1034.8,746.4 1032.9,747.0 1031.0,747.6 1029.1,748.2 1027.2,748.8 1025.3,749.4 1023.3,750.1 1021.4,750.7 1019.5,751.3 1017.6,752.0 1015.7,752.7 1013.8,753.3 1012.0,754.0 1010.1,754.7 1008.2,755.5 1006.3,756.2 1004.5,756.9 1002.6,757.7 1000.8,758.5 998.9,759.3 997.1,760.1 995.2,760.9 993.4,761.8 991.5,762.6 989.7,763.5 987.9,764.3 986.1,765.2 984.2,766.0 982.4,766.9 980.6,767.8 978.8,768.6 976.9,769.5 975.1,770.3 973.3,771.2 971.4,772.0 969.6,772.8 967.8,773.6 965.9,774.4 964.1,775.2 962.2,776.0 960.4,776.7 958.5,777.5 956.7,778.2 954.8,778.9 952.9,779.6 951.0,780.2 949.2,780.8 947.3,781.4 945.3,782.0 943.4,782.5 941.5,783.0 939.6,783.5 937.6,783.9 935.7,784.3 933.7,784.7 931.8,785.0 929.8,785.4 927.8,785.7 925.8,786.0 923.8,786.2 921.8,786.5 919.9,786.7 917.9,786.9 915.9,787.1 913.9,787.3 911.8,787.5 909.8,787.6 907.8,787.8 905.8,787.9 903.8,788.1 901.8,788.2 899.8,788.3 897.8,788.4 895.8,788.5 893.8,788.6 891.8,788.7 889.8,788.8 887.8,788.9 885.8,788.9 883.8,789.0 881.8,789.1 879.8,789.1 877.8,789.2 875.8,789.2 873.7,789.2 871.7,789.3 869.7,789.3 867.7,789.3 865.7,789.3 863.7,789.4 861.7,789.4 859.7,789.4 857.7,789.4 855.7,789.4 853.7,789.4 851.7,789.4 849.7,789.4 847.7,789.4 845.7,789.4 843.7,789.4 841.6,789.4 839.6,789.4 837.6,789.4 835.6,789.4 833.6,789.4 831.6,789.4 829.6,789.3 827.6,789.3 825.6,789.3 823.6,789.3 821.6,789.3 819.6,789.3 817.6,789.3 815.6,789.3 813.6,789.3 811.5,789.3 809.5,789.3 807.5,789.3 805.5,789.3 803.5,789.3 801.5,789.3 799.5,789.3 797.5,789.3 795.5,789.3 793.5,789.3 791.5,789.3 789.5,789.3 787.5,789.2 785.5,789.2 783.5,789.2 781.4,789.2 779.4,789.2 777.4,789.2 775.4,789.1 773.4,789.1 771.4,789.1 769.4,789.1 767.4,789.0 765.4,789.0 763.4,789.0 761.4,788.9 759.4,788.9 757.4,788.9 755.4,788.8 753.4,788.8 751.4,788.7 749.3,788.7 747.3,788.6 745.3,788.6 743.3,788.5 741.3,788.5 739.3,788.4 737.3,788.3 735.3,788.2 733.3,788.2 731.3,788.1 729.3,788.0 727.3,787.9 725.3,787.8 723.3,787.7 721.3,787.6 719.3,787.5 717.3,787.4 715.3,787.3 713.3,787.2 711.3,787.1 709.2,786.9 707.2,786.8 705.2,786.7 703.2,786.5 701.2,786.4 699.2,786.2 697.2,786.1 695.2,785.9 693.2,785.7 691.2,785.5 689.2,785.3 687.3,785.1 685.3,784.9 683.3,784.7 681.3,784.5 679.3,784.3 677.3,784.0 675.3,783.8 673.3,783.5 671.3,783.3 669.3,783.0 667.4,782.7 665.4,782.4 663.4,782.1 661.4,781.8 659.4,781.5 657.5,781.2 655.5,780.8 653.5,780.5 651.6,780.1 649.6,779.8 647.6,779.4 645.7,779.0 643.7,778.6 641.7,778.2 639.8,777.7 637.8,777.3 635.9,776.9 633.9,776.4 632.0,775.9 630.0,775.4 628.1,774.9 626.1,774.4 624.2,773.9 622.3,773.4 620.3,772.8 618.4,772.2 616.5,771.7 614.5,771.1 612.6,770.5 610.7,769.9 608.8,769.3 606.8,768.7 604.9,768.1 603.0,767.5 601.1,766.9 599.1,766.4 597.2,765.8 595.3,765.2 593.3,764.7 591.4,764.2 589.4,763.7 587.5,763.2 585.5,762.7 583.6,762.3 581.6,761.9 579.6,761.5 577.7,761.1 575.7,760.7 573.7,760.4 571.8,760.0 569.8,759.7 567.8,759.4 565.8,759.2 563.8,758.9 561.8,758.7 559.8,758.5 557.8,758.3 555.8,758.2 553.8,758.0 551.8,757.9 549.8,757.9 547.8,757.8 545.8,757.8 543.8,757.8 541.8,757.8 539.8,757.8 537.8,757.9 535.8,758.0 533.8,758.1 531.8,758.3 529.7,758.5 527.7,758.7 525.7,758.9 523.7,759.1 521.7,759.4 519.7,759.7 517.7,760.0 515.7,760.4 513.8,760.8 511.8,761.2 509.8,761.6 507.9,762.1 505.9,762.6 504.0,763.1 502.0,763.6 500.1,764.2 498.2,764.8 496.3,765.4 494.4,766.0 492.5,766.7 490.6,767.4 488.8,768.1 487.0,768.8 485.1,769.6 483.3,770.4 481.5,771.2 479.7,772.0 477.9,772.8 476.1,773.6 474.3,774.4 472.5,775.2 470.6,776.0 468.8,776.8 466.9,777.5 465.1,778.2 463.2,778.9 461.3,779.6 459.3,780.2 457.4,780.8 455.4,781.3 453.4,781.9 451.4,782.4 449.4,782.9 447.4,783.4 445.4,783.9 443.4,784.4 441.4,784.9 439.4,785.4 437.4,786.0 435.5,786.5 433.5,787.1 431.6,787.7 429.7,788.4 427.9,789.1 426.0,789.8 424.2,790.6 422.5,791.4 420.7,792.3 419.1,793.3 417.4,794.3 415.8,795.4 414.3,796.5 412.8,797.7 411.3,798.9 409.8,800.2 408.4,801.6 407.0,802.9 405.7,804.4 404.4,805.8 403.1,807.3 401.9,808.9 400.6,810.5 399.4,812.1 398.3,813.7 397.1,815.4 396.0,817.1 394.9,818.8 393.8,820.5 392.7,822.3 391.7,824.1 390.7,825.9 389.7,827.7 388.7,829.5 387.7,831.4 386.7,833.2 385.8,835.1 384.8,836.9 383.9,838.8 383.0,840.7 382.1,842.5 381.2,844.4 380.2,846.3 379.3,848.1 378.4,849.9 377.4,851.7 376.4,853.5 375.4,855.2 374.3,856.9 373.1,858.5 371.9,860.1 370.7,861.6 369.3,863.1 367.9,864.5 366.4,865.8 364.8,867.0 363.1,868.0 361.5,868.9 359.7,869.7 358.0,870.2 356.2,870.6 354.4,870.7 352.7,870.5 350.9,870.2 349.1,869.6 347.4,868.9 345.7,868.0 343.9,867.0 342.2,865.8 340.5,864.5 338.9,863.1 337.2,861.6 335.6,860.0 334.0,858.4 332.5,856.7 331.0,855.1 329.5,853.4 328.1,851.7 326.7,850.1 325.3,848.4 324.0,846.8 322.7,845.2 321.5,843.6 320.2,842.0 319.0,840.4 317.7,838.8 316.5,837.3 315.3,835.7 314.1,834.2 312.8,832.7 311.6,831.1 310.3,829.7 309.0,828.2 307.7,826.7 306.4,825.3 305.0,823.8 303.6,822.4 302.1,821.0 300.6,819.6 299.1,818.2 297.5,816.9 295.9,815.7 294.2,814.5 292.5,813.3 290.8,812.3 289.0,811.3 287.3,810.4 285.4,809.7 283.6,809.0 281.7,808.5 279.8,808.1 277.9,807.7 276.0,807.5 274.0,807.3 272.1,807.3 270.1,807.3 268.1,807.3 266.1,807.5 264.1,807.7 262.1,807.9 260.1,808.2 258.1,808.6 256.1,809.0 254.1,809.4 252.1,809.9 250.1,810.4 248.1,810.9 246.1,811.4 244.1,812.0 242.2,812.5 240.2,813.1 238.3,813.8 236.4,814.4 234.5,815.1 232.6,815.7 230.7,816.5 228.8,817.2 226.9,817.9 225.1,818.7 223.3,819.5 221.4,820.4 219.6,821.2 217.8,822.1 216.0,823.0 214.3,823.9 212.5,824.9 210.8,825.8 209.1,826.8 207.4,827.9 205.7,828.9 204.0,830.0 202.3,831.1 200.7,832.2 199.1,833.4 197.5,834.6 195.9,835.8 194.3,837.0 192.8,838.3 191.2,839.5 189.7,840.8 188.2,842.1 186.7,843.5 185.2,844.8 183.7,846.2 182.2,847.6 180.8,848.9 179.3,850.3 177.8,851.7 176.4,853.1 174.9,854.5 173.5,855.9 172.0,857.3 170.6,858.7 169.1,860.1 167.6,861.5 166.2,862.9 164.7,864.3 163.2,865.7 161.7,867.0 160.2,868.4 158.7,869.7 157.2,871.0 155.7,872.3 154.1,873.6 152.6,874.8 151.0,876.1 149.4,877.3 147.8,878.4 146.1,879.6 144.5,880.7" stroke="#e02828" class="cv"/>
<path d="M144.5,889.9 144.5,887.9 144.4,885.9 144.4,884.0 144.4,882.0 144.4,880.0 144.4,878.0 144.4,876.0 144.4,874.0 144.3,872.0 144.3,870.0 144.3,868.0 144.3,866.0 144.3,864.0 144.3,862.0 144.3,860.0 144.3,858.0 144.3,856.0 144.3,854.0 144.3,852.0 144.3,850.0 144.3,848.0 144.3,846.0 144.3,844.0 144.3,842.0 144.3,840.0 144.4,837.9 144.4,835.9 144.4,833.9 144.4,831.9 144.4,829.9 144.4,827.9 144.5,825.9 144.5,823.9 144.5,821.9 144.5,819.9 144.6,817.9 144.6,815.9 144.6,813.9 144.7,811.9 144.7,809.9 144.7,807.9 144.8,805.9 144.8,803.8 144.9,801.8 144.9,799.8 145.0,797.8 145.0,795.8 145.1,793.8 145.1,791.8 145.2,789.8 145.3,787.8 145.3,785.8 145.4,783.8 145.4,781.8 145.5,779.8 145.6,777.8 145.7,775.8 145.7,773.7 145.8,771.7 145.9,769.7 146.0,767.7 146.1,765.7 146.2,763.7 146.2,761.7 146.3,759.7 146.4,757.7 146.5,755.7 146.6,753.7 146.7,751.7 146.9,749.7 147.0,747.7 147.1,745.7 147.2,743.7 147.3,741.7 147.4,739.7 147.6,737.7 147.7,735.7 147.8,733.7 147.9,731.7 148.1,729.7 148.2,727.7 148.4,725.7 148.5,723.7 148.7,721.7 148.8,719.7 149.0,717.7 149.1,715.7 149.3,713.7 149.4,711.7 149.6,709.7 149.8,707.7 150.0,705.7 150.1,703.7 150.3,701.8 150.5,699.8 150.7,697.8 150.9,695.8 151.1,693.8 151.3,691.8 151.5,689.8 151.7,687.8 151.9,685.9 152.1,683.9 152.3,681.9 152.5,679.9 152.7,677.9 153.0,675.9 153.2,674.0 153.4,672.0 153.7,670.0 153.9,668.0 154.2,666.0 154.5,664.1 154.7,662.1 155.0,660.1 155.3,658.1 155.6,656.2 155.9,654.2 156.3,652.2 156.6,650.2 157.0,648.3 157.4,646.3 157.8,644.3 158.2,642.4 158.6,640.4 159.1,638.4 159.6,636.4 160.1,634.5 160.6,632.5 161.1,630.5 161.7,628.6 162.3,626.6 163.0,624.6 163.6,622.7 164.3,620.8 165.1,618.9 165.9,617.1 166.8,615.3 167.7,613.5 168.7,611.8 169.7,610.1 170.8,608.5 172.0,606.9 173.3,605.5 174.6,604.1 176.1,602.7 177.6,601.5 179.2,600.3 180.8,599.2 182.6,598.2 184.3,597.3 186.2,596.4 188.0,595.7 189.9,594.9 191.9,594.3 193.8,593.8 195.8,593.3 197.8,592.9 199.8,592.5 201.8,592.3 203.8,592.1 205.8,591.9 207.8,591.9 209.8,591.8 211.8,591.8 213.8,591.9 215.8,592.0 217.8,592.1 219.8,592.3 221.8,592.5 223.8,592.7 225.8,593.0 227.8,593.3 229.8,593.5 231.8,593.8 233.8,594.1 235.8,594.4 237.8,594.7 239.7,595.0 241.7,595.3 243.7,595.6 245.7,595.9 247.6,596.2 249.6,596.5 251.6,596.8 253.5,597.1 255.5,597.4 257.5,597.7 259.4,598.0 261.4,598.2 263.4,598.5 265.4,598.8 267.3,599.0 269.3,599.3 271.3,599.5 273.3,599.7 275.3,599.9 277.3,600.1 279.3,600.3 281.3,600.4 283.3,600.6 285.3,600.7 287.3,600.8 289.3,600.9 291.3,601.0 293.4,601.0 295.4,601.1 297.5,601.1 299.5,601.1 301.5,601.0 303.6,600.9 305.6,600.8 307.6,600.7 309.7,600.5 311.7,600.3 313.7,600.1 315.7,599.8 317.7,599.5 319.7,599.2 321.6,598.8 323.6,598.3 325.5,597.9 327.4,597.3 329.3,596.8 331.2,596.2 333.0,595.5 334.8,594.8 336.6,594.0 338.4,593.2 340.1,592.4 341.9,591.4 343.5,590.5 345.2,589.4 346.8,588.3 348.4,587.2 349.9,585.9 351.4,584.7 352.9,583.3 354.3,581.9 355.7,580.4 357.0,578.9 358.3,577.2 359.6,575.6 360.8,573.9 362.0,572.2 363.2,570.4 364.3,568.7 365.5,566.9 366.6,565.2 367.7,563.5 368.8,561.9 369.9,560.3 371.0,558.7 372.1,557.1 373.3,555.5 374.4,554.0 375.5,552.4 376.7,550.8 377.8,549.2 379.0,547.6 380.2,546.0 381.4,544.3 382.7,542.5 383.9,540.7 385.2,539.0 386.6,537.2 388.0,535.5 389.4,533.9 390.9,532.5 392.4,531.2 394.0,530.1 395.7,529.3 397.4,528.6 399.1,528.3 400.8,528.2 402.4,528.5 404.1,529.0 405.7,529.7 407.2,530.7 408.8,531.9 410.3,533.2 411.7,534.7 413.2,536.3 414.6,537.9 416.0,539.6 417.4,541.3 418.7,542.9 420.0,544.6 421.4,546.2 422.7,547.8 424.0,549.4 425.3,550.9 426.7,552.4 428.1,553.8 429.5,555.1 430.9,556.4 432.4,557.6 433.9,558.7 435.5,559.8 437.1,560.7 438.8,561.6 440.6,562.4 442.4,563.1 444.2,563.8 446.1,564.4 448.0,565.0 450.0,565.5 451.9,566.0 453.9,566.5 455.9,566.9 457.9,567.4 459.9,567.8 461.9,568.3 463.9,568.7 465.9,569.2 467.9,569.6 469.9,570.1 471.9,570.7 473.8,571.3 475.7,571.9 477.6,572.6 479.5,573.3 481.3,574.1 483.1,574.9 484.9,575.8 486.7,576.7 488.4,577.6 490.1,578.6 491.8,579.6 493.5,580.6 495.2,581.7 496.9,582.7 498.5,583.8 500.2,585.0 501.8,586.1 503.4,587.2 505.1,588.4 506.7,589.6 508.3,590.8 509.9,592.0 511.5,593.2 513.1,594.4 514.7,595.6 516.3,596.9 517.9,598.1 519.5,599.3 521.1,600.5 522.7,601.7 524.3,602.9 526.0,604.1 527.6,605.3 529.3,606.4 530.9,607.5 532.6,608.7 534.3,609.7 536.0,610.8 537.7,611.9 539.4,612.9 541.2,613.9 542.9,614.9 544.7,615.8 546.5,616.8 548.3,617.7 550.1,618.5 551.9,619.4 553.7,620.2 555.6,621.0 557.4,621.7 559.3,622.4 561.2,623.1 563.0,623.8 564.9,624.4 566.8,625.0 568.8,625.6 570.7,626.1 572.6,626.6 574.6,627.1 576.5,627.6 578.5,628.0 580.4,628.4 582.4,628.8 584.3,629.2 586.3,629.5 588.3,629.9 590.3,630.2 592.3,630.4 594.2,630.7 596.2,630.9 598.2,631.1 600.2,631.3 602.2,631.5 604.2,631.7 606.2,631.8 608.2,632.0 610.2,632.1 612.2,632.2 614.1,632.3 616.1,632.3 618.1,632.4 620.1,632.4 622.1,632.5 624.1,632.5 626.1,632.5 628.1,632.5 630.1,632.5 632.2,632.4 634.2,632.4 636.2,632.4 638.2,632.3 640.2,632.3 642.2,632.2 644.2,632.1 646.2,632.0 648.2,632.0 650.2,631.9 652.2,631.8 654.2,631.7 656.2,631.6 658.2,631.5 660.2,631.4 662.2,631.3 664.3,631.2 666.3,631.1 668.3,631.0 670.3,630.9 672.3,630.8 674.3,630.7 676.3,630.6 678.3,630.5 680.3,630.4 682.3,630.3 684.3,630.1 686.3,630.0 688.3,629.9 690.3,629.8 692.3,629.7 694.4,629.6 696.4,629.5 698.4,629.4 700.4,629.3 702.4,629.2 704.4,629.1 706.4,628.9 708.4,628.8 710.4,628.7 712.4,628.5 714.4,628.4 716.4,628.3 718.4,628.1 720.4,628.0 722.4,627.8 724.4,627.7 726.3,627.5 728.3,627.3 730.3,627.1 732.3,627.0 734.3,626.8 736.3,626.6 738.3,626.4 740.3,626.2 742.3,625.9 744.3,625.7 746.2,625.5 748.2,625.3 750.2,625.0 752.2,624.8 754.2,624.5 756.2,624.2 758.1,623.9 760.1,623.7 762.1,623.4 764.1,623.0 766.0,622.7 768.0,622.4 770.0,622.1 771.9,621.7 773.9,621.3 775.9,621.0 777.8,620.6 779.8,620.2 781.8,619.8 783.7,619.4 785.7,619.0 787.7,618.6 789.6,618.1 791.6,617.7 793.5,617.2 795.5,616.8 797.4,616.3 799.4,615.8 801.3,615.3 803.3,614.8 805.2,614.4 807.2,613.8 809.1,613.3 811.0,612.8 813.0,612.3 814.9,611.8 816.8,611.2 818.8,610.7 820.7,610.1 822.6,609.6 824.6,609.0 826.5,608.5 828.4,607.9 830.3,607.3 832.2,606.8 834.2,606.2 836.1,605.6 838.0,605.0 839.9,604.4 841.8,603.8 843.7,603.2 845.6,602.5 847.5,601.8 849.3,601.2 851.2,600.5 853.1,599.7 854.9,599.0 856.8,598.2 858.6,597.4 860.4,596.5 862.2,595.7 864.0,594.8 865.8,593.8 867.6,592.9 869.3,591.9 871.1,590.9 872.8,589.8 874.5,588.7 876.2,587.6 877.9,586.5 879.5,585.3 881.1,584.1 882.7,582.9 884.3,581.6 885.8,580.3 887.4,579.0 888.9,577.7 890.3,576.3 891.8,574.9 893.2,573.5 894.6,572.1 895.9,570.6 897.2,569.1 898.5,567.6 899.8,566.0 901.0,564.5 902.2,562.9 903.3,561.3 904.5,559.6 905.6,558.0 906.7,556.3 907.7,554.6 908.8,552.9 909.8,551.2 910.9,549.5 911.9,547.8 912.9,546.1 914.0,544.3 915.0,542.6 916.1,540.9 917.1,539.1 918.2,537.4 919.2,535.7 920.3,533.9 921.5,532.2 922.6,530.5 923.8,528.8 924.9,527.1 926.2,525.5 927.5,523.9 928.8,522.3 930.2,520.9 931.6,519.6 933.2,518.3 934.8,517.3 936.5,516.4 938.3,515.7 940.2,515.1 942.1,514.8 944.1,514.6 946.1,514.6 948.1,514.8 950.1,515.2 952.0,515.7 953.9,516.4 955.8,517.3 957.6,518.3 959.4,519.4 961.0,520.6 962.6,521.9 964.1,523.2 965.5,524.6 966.9,526.1 968.2,527.6 969.5,529.2 970.8,530.7 972.1,532.3 973.5,533.8 974.8,535.3 976.2,536.8 977.5,538.3 978.9,539.7 980.4,541.2 981.8,542.5 983.3,543.9 984.8,545.2 986.4,546.5 987.9,547.8 989.5,549.0 991.1,550.2 992.7,551.4 994.3,552.5 996.0,553.6 997.7,554.6 999.4,555.6 1001.1,556.6 1002.8,557.6 1004.6,558.5 1006.4,559.3 1008.2,560.2 1010.0,561.0 1011.9,561.7 1013.7,562.4 1015.6,563.1 1017.5,563.7 1019.4,564.3 1021.4,564.8 1023.3,565.4 1025.3,565.9 1027.2,566.3 1029.2,566.7 1031.2,567.1 1033.2,567.5 1035.2,567.8 1037.2,568.1 1039.2,568.4 1041.2,568.7 1043.2,568.9 1045.2,569.1 1047.3,569.3 1049.3,569.5 1051.3,569.6 1053.3,569.7 1055.3,569.8 1057.3,569.9 1059.4,570.0 1061.4,570.0 1063.4,570.1 1065.4,570.1 1067.4,570.1 1069.4,570.1 1071.4,570.0 1073.4,570.0 1075.4,569.9 1077.3,569.9 1079.3,569.8 1081.3,569.7 1083.3,569.6 1085.3,569.5 1087.3,569.4 1089.3,569.3 1091.3,569.1 1093.2,569.0 1095.2,568.9 1097.2,568.7 1099.2,568.6 1101.2,568.4 1103.2,568.2 1105.2,568.1 1107.1,567.9 1109.1,567.8 1111.1,567.6 1113.1,567.4 1115.1,567.3 1117.1,567.1 1119.1,567.0 1121.1,566.8 1123.1,566.7 1125.1,566.5 1127.1,566.4 1129.1,566.2 1131.1,566.1 1133.1,566.0 1135.1,565.9 1137.1,565.8 1139.1,565.7 1141.1,565.6 1143.1,565.5 1145.1,565.4 1147.2,565.4 1149.2,565.4 1149.2,671.4 1149.6,673.6 1149.8,675.7 1149.8,677.7 1149.7,679.7 1149.3,681.7 1148.8,683.6 1148.2,685.4 1147.4,687.3 1146.5,689.0 1145.5,690.8 1144.4,692.5 1143.2,694.1 1142.0,695.7 1140.6,697.2 1139.3,698.8 1137.8,700.2 1136.4,701.6 1134.9,703.0 1133.4,704.4 1131.9,705.7 1130.3,706.9 1128.7,708.2 1127.1,709.4 1125.5,710.5 1123.9,711.6 1122.2,712.7 1120.5,713.8 1118.8,714.8 1117.1,715.8 1115.4,716.8 1113.6,717.8 1111.9,718.7 1110.1,719.6 1108.3,720.4 1106.5,721.3 1104.7,722.1 1102.9,722.9 1101.0,723.7 1099.2,724.5 1097.3,725.3 1095.5,726.0 1093.6,726.8 1091.7,727.5 1089.8,728.2 1088.0,728.9 1086.1,729.6 1084.2,730.3 1082.3,730.9 1080.4,731.6 1078.5,732.3 1076.6,732.9 1074.7,733.6 1072.8,734.2 1070.9,734.9 1069.0,735.5 1067.1,736.2 1065.2,736.8 1063.3,737.5 1061.4,738.1 1059.5,738.8 1057.6,739.4 1055.7,740.0 1053.8,740.7 1051.9,741.3 1050.0,742.0 1048.1,742.6 1046.2,743.3 1044.3,743.9 1042.4,744.6 1040.5,745.2 1038.6,745.9 1036.7,746.5 1034.8,747.2 1032.9,747.8 1031.1,748.5 1029.2,749.2 1027.3,749.8 1025.4,750.5 1023.5,751.2 1021.7,751.9 1019.8,752.6 1017.9,753.3 1016.0,754.0 1014.2,754.7 1012.3,755.4 1010.5,756.1 1008.6,756.8 1006.7,757.6 1004.9,758.3 1003.0,759.1 1001.2,759.8 999.3,760.6 997.5,761.4 995.6,762.1 993.8,762.9 992.0,763.7 990.1,764.6 988.3,765.4 986.5,766.2 984.7,767.1 982.9,767.9 981.1,768.8 979.2,769.7 977.4,770.6 975.6,771.5 973.8,772.4 972.1,773.3 970.3,774.3 968.5,775.2 966.7,776.2 964.9,777.2 963.2,778.2 961.4,779.1 959.6,780.1 957.8,781.1 956.1,782.1 954.3,783.0 952.5,783.9 950.7,784.8 948.8,785.6 947.0,786.3 945.1,787.0 943.3,787.7 941.4,788.2 939.4,788.7 937.5,789.2 935.5,789.6 933.6,789.9 931.6,790.2 929.6,790.5 927.6,790.7 925.6,790.9 923.6,791.1 921.6,791.2 919.6,791.4 917.5,791.5 915.5,791.7 913.5,791.8 911.5,792.0 909.5,792.1 907.5,792.2 905.5,792.3 903.5,792.5 901.5,792.6 899.4,792.7 897.4,792.8 895.4,792.9 893.4,793.0 891.4,793.1 889.4,793.2 887.4,793.2 885.4,793.3 883.4,793.4 881.4,793.5 879.4,793.5 877.4,793.6 875.4,793.7 873.4,793.7 871.4,793.8 869.4,793.8 867.4,793.9 865.4,793.9 863.4,794.0 861.4,794.0 859.4,794.1 857.4,794.1 855.4,794.1 853.3,794.1 851.3,794.2 849.3,794.2 847.3,794.2 845.3,794.2 843.3,794.2 841.3,794.2 839.3,794.2 837.3,794.2 835.4,794.2 833.4,794.2 831.4,794.2 829.4,794.2 827.4,794.2 825.4,794.2 823.4,794.2 821.4,794.2 819.4,794.2 817.4,794.1 815.4,794.1 813.4,794.1 811.4,794.1 809.4,794.0 807.4,794.0 805.4,794.0 803.4,793.9 801.4,793.9 799.4,793.9 797.4,793.8 795.4,793.8 793.4,793.7 791.4,793.7 789.4,793.7 787.4,793.6 785.4,793.6 783.4,793.5 781.4,793.5 779.4,793.4 777.4,793.3 775.4,793.3 773.4,793.2 771.4,793.2 769.4,793.1 767.4,793.1 765.4,793.0 763.4,792.9 761.4,792.9 759.4,792.8 757.4,792.8 755.4,792.7 753.4,792.6 751.3,792.6 749.3,792.5 747.3,792.4 745.3,792.4 743.3,792.3 741.3,792.2 739.3,792.2 737.3,792.1 735.3,792.0 733.3,792.0 731.3,791.9 729.3,791.8 727.3,791.8 725.2,791.7 723.2,791.6 721.2,791.6 719.2,791.5 717.2,791.4 715.2,791.4 713.2,791.3 711.2,791.2 709.2,791.1 707.1,791.1 705.1,791.0 703.1,790.9 701.1,790.8 699.1,790.7 697.1,790.6 695.1,790.4 693.1,790.3 691.1,790.2 689.1,790.0 687.1,789.9 685.1,789.7 683.1,789.5 681.1,789.4 679.1,789.2 677.1,789.0 675.1,788.7 673.1,788.5 671.1,788.3 669.2,788.0 667.2,787.7 665.2,787.5 663.2,787.2 661.3,786.8 659.3,786.5 657.3,786.2 655.4,785.8 653.4,785.5 651.4,785.1 649.5,784.7 647.5,784.3 645.6,783.9 643.6,783.5 641.7,783.1 639.7,782.7 637.8,782.3 635.8,781.8 633.9,781.4 631.9,780.9 630.0,780.5 628.0,780.1 626.1,779.6 624.1,779.1 622.2,778.7 620.2,778.2 618.3,777.8 616.4,777.3 614.4,776.8 612.5,776.4 610.5,775.9 608.6,775.5 606.6,775.0 604.7,774.5 602.7,774.1 600.7,773.7 598.8,773.2 596.8,772.8 594.9,772.4 592.9,771.9 590.9,771.5 589.0,771.1 587.0,770.7 585.0,770.3 583.1,769.9 581.1,769.6 579.1,769.2 577.1,768.8 575.1,768.5 573.1,768.2 571.2,767.9 569.2,767.6 567.2,767.3 565.2,767.0 563.1,766.7 561.1,766.5 559.1,766.3 557.1,766.1 555.1,765.9 553.1,765.7 551.1,765.6 549.1,765.4 547.0,765.3 545.0,765.3 543.0,765.2 541.0,765.2 539.0,765.2 537.0,765.2 535.0,765.3 533.0,765.4 531.0,765.5 529.0,765.7 527.0,765.8 525.0,766.1 523.1,766.3 521.1,766.6 519.2,767.0 517.2,767.3 515.3,767.8 513.3,768.2 511.4,768.7 509.5,769.3 507.6,769.8 505.7,770.4 503.8,771.1 501.9,771.7 500.0,772.4 498.1,773.1 496.3,773.8 494.4,774.6 492.5,775.4 490.7,776.1 488.8,776.9 487.0,777.7 485.1,778.5 483.3,779.3 481.4,780.1 479.6,781.0 477.7,781.8 475.9,782.6 474.0,783.4 472.1,784.1 470.3,784.9 468.4,785.7 466.6,786.4 464.7,787.1 462.8,787.8 461.0,788.5 459.1,789.1 457.2,789.7 455.3,790.3 453.4,790.9 451.6,791.5 449.7,792.1 447.7,792.6 445.8,793.2 443.9,793.7 442.0,794.3 440.1,794.8 438.1,795.4 436.2,795.9 434.3,796.5 432.3,797.1 430.4,797.7 428.5,798.4 426.6,799.1 424.8,800.0 423.0,800.9 421.3,801.9 419.6,803.0 418.1,804.2 416.5,805.5 415.1,806.9 413.7,808.4 412.3,809.9 411.0,811.4 409.7,813.0 408.4,814.6 407.1,816.2 405.9,817.7 404.7,819.3 403.5,820.9 402.4,822.5 401.2,824.1 400.1,825.7 399.0,827.4 397.9,829.0 396.8,830.6 395.7,832.3 394.6,834.0 393.6,835.6 392.6,837.3 391.5,839.0 390.5,840.8 389.5,842.5 388.5,844.2 387.6,846.0 386.6,847.8 385.6,849.6 384.6,851.4 383.7,853.2 382.7,855.1 381.8,857.0 380.8,858.9 379.8,860.7 378.8,862.6 377.8,864.4 376.7,866.2 375.6,868.0 374.4,869.6 373.2,871.2 371.9,872.8 370.5,874.2 369.0,875.5 367.4,876.6 365.7,877.7 363.9,878.5 362.1,879.2 360.3,879.6 358.4,879.8 356.5,879.8 354.7,879.5 352.8,878.9 351.0,878.1 349.3,877.2 347.6,876.1 345.9,875.0 344.4,873.7 342.9,872.4 341.4,871.1 340.0,869.6 338.7,868.1 337.4,866.6 336.1,865.0 334.9,863.4 333.7,861.8 332.5,860.1 331.4,858.4 330.3,856.7 329.1,855.0 328.0,853.2 326.9,851.5 325.8,849.8 324.6,848.1 323.5,846.4 322.3,844.7 321.1,843.0 319.9,841.4 318.6,839.9 317.3,838.3 316.0,836.9 314.6,835.4 313.2,834.1 311.7,832.7 310.2,831.4 308.6,830.2 307.1,828.9 305.4,827.7 303.8,826.5 302.1,825.3 300.4,824.1 298.7,823.0 297.0,821.9 295.2,820.9 293.4,820.0 291.5,819.2 289.7,818.6 287.8,818.1 285.9,817.8 283.9,817.6 282.0,817.6 280.0,817.6 278.1,817.6 276.1,817.7 274.1,817.9 272.1,818.1 270.1,818.3 268.1,818.5 266.1,818.7 264.1,819.0 262.2,819.3 260.2,819.6 258.2,819.9 256.2,820.3 254.2,820.7 252.3,821.1 250.3,821.6 248.3,822.0 246.4,822.5 244.4,823.0 242.5,823.6 240.5,824.2 238.6,824.7 236.7,825.4 234.7,826.0 232.8,826.7 230.9,827.4 229.0,828.1 227.2,828.8 225.3,829.6 223.4,830.4 221.6,831.2 219.7,832.0 217.9,832.9 216.1,833.7 214.3,834.6 212.5,835.6 210.8,836.5 209.0,837.5 207.3,838.5 205.6,839.5 203.8,840.6 202.2,841.7 200.5,842.8 198.8,843.9 197.2,845.0 195.6,846.2 194.0,847.4 192.4,848.6 190.8,849.8 189.3,851.1 187.8,852.3 186.2,853.6 184.7,854.9 183.2,856.2 181.7,857.6 180.2,858.9 178.8,860.2 177.3,861.6 175.8,862.9 174.4,864.3 172.9,865.7 171.4,867.1 170.0,868.4 168.5,869.8 167.1,871.2 165.6,872.6 164.2,874.0 162.7,875.3 161.2,876.7 159.8,878.1 158.3,879.4 156.8,880.8 155.3,882.1 153.8,883.4 152.3,884.7 150.7,886.0 149.2,887.3 147.6,888.6 146.1,889.9 144.5,891.1" stroke="#111111" class="cv"/>
</g>
<path d="M197.4,899.0v-7M197.4,494.0v7M303.1,899.0v-7M303.1,494.0v7M408.9,899.0v-7M408.9,494.0v7M514.6,899.0v-7M514.6,494.0v7M118.0,899.0v-5.5M118.0,494.0v5.5M144.5,899.0v-5.5M144.5,494.0v5.5M170.9,899.0v-5.5M170.9,494.0v5.5M223.8,899.0v-5.5M223.8,494.0v5.5M250.2,899.0v-5.5M250.2,494.0v5.5M276.7,899.0v-5.5M276.7,494.0v5.5M329.6,899.0v-5.5M329.6,494.0v5.5M356.0,899.0v-5.5M356.0,494.0v5.5M382.4,899.0v-5.5M382.4,494.0v5.5M435.3,899.0v-5.5M435.3,494.0v5.5M461.8,899.0v-5.5M461.8,494.0v5.5M488.2,899.0v-5.5M488.2,494.0v5.5M541.1,899.0v-5.5M541.1,494.0v5.5M567.5,899.0v-5.5M567.5,494.0v5.5M594.0,899.0v-5.5M594.0,494.0v5.5M91.6,841.1h7M620.4,841.1h-7M91.6,764.0h7M620.4,764.0h-7M91.6,686.9h7M620.4,686.9h-7M91.6,609.7h7M620.4,609.7h-7M91.6,532.6h7M620.4,532.6h-7M91.6,879.7h5.5M620.4,879.7h-5.5M91.6,802.6h5.5M620.4,802.6h-5.5M91.6,725.4h5.5M620.4,725.4h-5.5M91.6,648.3h5.5M620.4,648.3h-5.5M91.6,571.1h5.5M620.4,571.1h-5.5" class="tk"/>
<rect x="91.6" y="494.0" width="528.8" height="405.0" class="fr"/>
<text transform="translate(91.6,927.2) scale(0.95,1)" class="tl" text-anchor="middle">0.0</text>
<text transform="translate(197.4,927.2) scale(0.95,1)" class="tl" text-anchor="middle">0.1</text>
<text transform="translate(303.1,927.2) scale(0.95,1)" class="tl" text-anchor="middle">0.2</text>
<text transform="translate(408.9,927.2) scale(0.95,1)" class="tl" text-anchor="middle">0.3</text>
<text transform="translate(514.6,927.2) scale(0.95,1)" class="tl" text-anchor="middle">0.4</text>
<text transform="translate(620.4,927.2) scale(0.95,1)" class="tl" text-anchor="middle">0.5</text>
<text transform="translate(83.0,540.7) scale(0.97,1)" class="tl" text-anchor="end">80</text>
<text transform="translate(83.0,617.9) scale(0.97,1)" class="tl" text-anchor="end">40</text>
<text transform="translate(83.0,695.0) scale(0.97,1)" class="tl" text-anchor="end">0</text>
<text transform="translate(83.0,772.1) scale(0.97,1)" class="tl" text-anchor="end">-40</text>
<text transform="translate(83.0,849.3) scale(0.97,1)" class="tl" text-anchor="end">-80</text>
<text x="356.0" y="953.9" font-size="27.2" text-anchor="middle">E vs RHE [V]</text>
<text x="97.3" y="524.5" class="nm">HSAC-Pt</text>
<text x="605.5" y="528.5" class="lt" text-anchor="end">b</text>
<path d="M759.0,495.3V898.6M785.4,495.3V898.6M811.8,495.3V898.6M864.6,495.3V898.6M891.0,495.3V898.6M917.4,495.3V898.6M970.2,495.3V898.6M996.6,495.3V898.6M1023.0,495.3V898.6M1075.8,495.3V898.6M1102.2,495.3V898.6M1128.6,495.3V898.6M1181.4,495.3V898.6M1207.8,495.3V898.6M1234.2,495.3V898.6M732.6,869.8H1260.6M732.6,812.2H1260.6M732.6,754.6H1260.6M732.6,697.0H1260.6M732.6,639.3H1260.6M732.6,581.7H1260.6M732.6,524.1H1260.6" class="gd"/>
<path d="M838.2,495.3V898.6M943.8,495.3V898.6M1049.4,495.3V898.6M1155.0,495.3V898.6M732.6,841.0H1260.6M732.6,783.4H1260.6M732.6,725.8H1260.6M732.6,668.1H1260.6M732.6,610.5H1260.6M732.6,552.9H1260.6" class="gs"/>
<rect x="732.6" y="495.3" width="102.4" height="47.7" fill="#fff"/>
<rect x="1104" y="796" width="156.6" height="102.6" fill="#fff"/>
<clipPath id="clipd"><rect x="732.6" y="495.3" width="528.0" height="403.3"/></clipPath><g clip-path="url(#clipd)">
<path d="M785.4,877.0 785.4,875.0 785.5,873.0 785.5,871.0 785.5,869.0 785.6,867.0 785.6,865.0 785.6,863.0 785.6,861.0 785.7,859.0 785.7,857.0 785.7,854.9 785.7,852.9 785.8,850.9 785.8,848.9 785.8,846.9 785.8,844.9 785.9,842.9 785.9,840.9 785.9,838.9 785.9,836.9 786.0,834.9 786.0,832.9 786.0,830.9 786.0,828.9 786.0,826.9 786.1,824.9 786.1,822.9 786.1,820.9 786.1,818.9 786.2,816.9 786.2,814.9 786.2,812.9 786.2,810.9 786.2,808.8 786.3,806.8 786.3,804.8 786.3,802.8 786.3,800.8 786.3,798.8 786.4,796.8 786.4,794.8 786.4,792.8 786.4,790.8 786.4,788.8 786.5,786.8 786.5,784.8 786.5,782.8 786.5,780.8 786.5,778.8 786.6,776.8 786.6,774.8 786.6,772.8 786.6,770.8 786.6,768.8 786.7,766.7 786.7,764.7 786.7,762.7 786.7,760.7 786.8,758.7 786.8,756.7 786.8,754.7 786.8,752.7 786.9,750.7 786.9,748.7 786.9,746.7 786.9,744.7 787.0,742.7 787.0,740.7 787.0,738.7 787.0,736.7 787.1,734.7 787.1,732.7 787.1,730.7 787.2,728.7 787.2,726.7 787.2,724.7 787.2,722.6 787.3,720.6 787.3,718.6 787.3,716.6 787.4,714.6 787.4,712.6 787.4,710.6 787.5,708.6 787.5,706.6 787.6,704.6 787.6,702.6 787.6,700.6 787.7,698.6 787.7,696.6 787.8,694.6 787.8,692.6 787.8,690.6 787.9,688.6 787.9,686.6 788.0,684.6 788.0,682.6 788.1,680.6 788.1,678.6 788.2,676.6 788.2,674.6 788.3,672.5 788.3,670.5 788.4,668.5 788.4,666.5 788.5,664.5 788.5,662.5 788.6,660.5 788.6,658.5 788.7,656.5 788.8,654.5 788.8,652.5 788.9,650.5 789.0,648.5 789.0,646.5 789.1,644.5 789.2,642.5 789.3,640.5 789.3,638.5 789.4,636.5 789.5,634.5 789.6,632.5 789.7,630.5 789.8,628.5 789.8,626.5 789.9,624.5 790.0,622.5 790.1,620.5 790.2,618.5 790.4,616.5 790.5,614.5 790.6,612.5 790.7,610.5 790.8,608.4 790.9,606.4 791.1,604.4 791.2,602.4 791.4,600.4 791.6,598.5 791.8,596.5 792.0,594.5 792.3,592.5 792.6,590.5 792.9,588.5 793.2,586.6 793.6,584.6 794.1,582.6 794.6,580.7 795.1,578.8 795.7,576.8 796.3,574.9 797.0,573.0 797.8,571.1 798.6,569.2 799.5,567.3 800.5,565.5 801.6,563.8 802.9,562.3 804.3,561.0 805.9,559.8 807.6,558.9 809.4,558.3 811.4,557.8 813.4,557.6 815.4,557.6 817.4,557.8 819.4,558.2 821.4,558.7 823.4,559.3 825.3,559.9 827.2,560.6 829.1,561.4 831.0,562.1 832.9,562.9 834.7,563.8 836.6,564.6 838.4,565.5 840.2,566.3 842.0,567.2 843.8,568.1 845.6,568.9 847.4,569.8 849.2,570.7 851.0,571.6 852.8,572.4 854.6,573.3 856.4,574.2 858.2,575.0 859.9,575.9 861.7,576.7 863.5,577.6 865.3,578.4 867.1,579.2 868.9,580.0 870.8,580.8 872.6,581.5 874.4,582.3 876.3,583.0 878.1,583.7 880.0,584.4 881.9,585.1 883.8,585.7 885.7,586.3 887.6,586.9 889.5,587.4 891.5,588.0 893.4,588.5 895.4,588.9 897.4,589.3 899.4,589.7 901.4,590.1 903.4,590.4 905.5,590.7 907.5,590.9 909.5,591.1 911.6,591.3 913.6,591.4 915.7,591.5 917.7,591.6 919.7,591.6 921.8,591.5 923.8,591.4 925.8,591.3 927.8,591.1 929.8,590.8 931.8,590.6 933.8,590.2 935.8,589.8 937.7,589.4 939.6,588.9 941.5,588.4 943.4,587.7 945.3,587.1 947.1,586.4 948.9,585.6 950.7,584.8 952.4,583.9 954.2,582.9 955.9,581.9 957.5,580.8 959.1,579.7 960.7,578.4 962.3,577.2 963.8,575.9 965.3,574.5 966.8,573.1 968.2,571.7 969.6,570.2 970.9,568.7 972.3,567.1 973.6,565.5 974.8,563.9 976.1,562.3 977.3,560.7 978.4,559.1 979.6,557.4 980.7,555.8 981.8,554.1 982.8,552.5 983.9,550.8 984.9,549.2 985.9,547.6 986.8,545.9 987.8,544.3 988.8,542.6 989.9,541.0 990.9,539.3 992.0,537.6 993.2,535.9 994.4,534.1 995.7,532.4 997.0,530.6 998.4,528.8 999.9,527.0 1001.5,525.3 1003.0,523.9 1004.7,522.6 1006.4,521.6 1008.1,521.0 1009.8,520.8 1011.6,521.0 1013.3,521.4 1015.0,522.2 1016.8,523.2 1018.4,524.3 1020.1,525.6 1021.6,527.0 1023.2,528.5 1024.6,529.9 1026.0,531.4 1027.3,533.0 1028.5,534.5 1029.7,536.1 1030.8,537.7 1031.9,539.3 1032.9,541.0 1033.9,542.6 1034.8,544.4 1035.7,546.1 1036.6,547.8 1037.5,549.6 1038.3,551.4 1039.1,553.2 1039.8,555.1 1040.6,556.9 1041.3,558.8 1042.0,560.7 1042.8,562.7 1043.5,564.6 1044.2,566.6 1044.9,568.6 1045.6,570.6 1046.4,572.5 1047.1,574.5 1047.9,576.5 1048.7,578.4 1049.5,580.3 1050.4,582.2 1051.3,584.1 1052.2,585.9 1053.2,587.7 1054.2,589.4 1055.3,591.1 1056.4,592.7 1057.6,594.3 1058.8,595.7 1060.1,597.2 1061.5,598.5 1062.9,599.7 1064.5,600.9 1066.1,601.9 1067.7,602.9 1069.5,603.7 1071.4,604.5 1073.3,605.1 1075.2,605.6 1077.2,606.0 1079.2,606.3 1081.2,606.4 1083.3,606.4 1085.3,606.3 1087.3,606.1 1089.2,605.7 1091.1,605.2 1093.0,604.6 1094.9,603.9 1096.7,603.1 1098.5,602.2 1100.2,601.1 1102.0,600.0 1103.6,598.9 1105.2,597.6 1106.8,596.3 1108.3,594.9 1109.8,593.5 1111.2,592.0 1112.6,590.4 1113.9,588.9 1115.2,587.3 1116.3,585.6 1117.5,584.0 1118.6,582.3 1119.8,580.6 1120.9,579.0 1122.0,577.3 1123.3,575.7 1124.5,574.1 1125.9,572.6 1127.4,571.1 1129.0,569.7 1130.7,568.5 1132.4,567.5 1134.2,566.8 1135.9,566.5 1137.7,566.7 1139.4,567.3 1141.1,568.3 1142.6,569.5 1144.1,571.0 1145.5,572.5 1146.7,574.1 1147.8,575.8 1148.8,577.5 1149.7,579.2 1150.6,581.0 1151.4,582.9 1152.1,584.7 1152.8,586.6 1153.5,588.5 1154.1,590.5 1154.8,592.4 1155.4,594.3 1156.1,596.3 1156.8,598.2 1157.6,600.1 1158.3,602.1 1159.1,604.0 1159.9,605.9 1160.8,607.7 1161.6,609.6 1162.5,611.5 1163.5,613.3 1164.4,615.1 1165.4,616.9 1166.5,618.6 1167.5,620.4 1168.6,622.1 1169.8,623.7 1170.9,625.4 1172.1,627.0 1173.4,628.5 1174.7,630.0 1176.0,631.5 1177.4,632.9 1178.8,634.3 1180.3,635.6 1181.8,636.9 1183.3,638.1 1184.9,639.3 1186.6,640.4 1188.3,641.5 1190.0,642.5 1191.7,643.4 1193.5,644.3 1195.3,645.2 1197.1,646.0 1199.0,646.8 1200.9,647.5 1202.7,648.2 1204.7,648.8 1206.6,649.4 1208.5,649.9 1210.4,650.4 1212.4,650.9 1214.3,651.3 1216.3,651.6 1218.3,652.0 1220.3,652.3 1222.3,652.5 1224.2,652.7 1226.2,652.9 1228.2,653.1 1230.3,653.2 1232.3,653.3 1234.3,653.4 1236.3,653.4 1238.3,653.4 1240.3,653.4 1242.4,653.4 1244.4,653.4 1246.4,653.3 1248.4,653.3 1250.5,653.2 1252.5,653.1 1254.5,652.9 1256.5,652.8 1258.5,652.7 1260.6,652.5 1262.6,652.4 1264.6,652.2 1266.6,652.0 1268.6,651.9 1270.6,651.7 1272.6,651.5 1274.6,651.3 1276.6,651.1 1278.6,650.9 1280.6,650.7 1282.6,650.5 1284.6,650.3 1286.6,650.1 1288.5,649.8 1290.5,649.6 1292.5,649.4 1294.5,649.2 1296.5,648.9 1298.5,648.7 1300.4,648.5 1302.4,648.2 1304.4,648.0 1306.4,647.8 1308.4,647.5 1310.3,647.3 1312.3,647.1 1314.3,646.8 1316.3,646.6 1318.3,646.4 1320.2,646.1 1322.2,645.9 1324.2,645.7 1326.2,645.4 1328.2,645.2 1330.2,645.0 1332.2,644.7 1334.1,644.5 1336.1,644.3 1338.1,644.0 1340.1,643.8 1342.1,643.6 1344.1,643.4 1346.1,643.1 1348.1,642.9 1350.1,642.7 1352.0,642.4 1354.0,642.2 1356.0,642.0 1358.0,641.8 1360.0,641.5 1362.0,641.3 1364.0,641.1 1366.0,640.8 1368.0,640.6 1370.0,640.4 1372.0,640.2 1374.0,639.9 1376.0,639.7 1377.9,639.5 1379.9,639.2 1381.9,639.0 1383.9,638.8 1385.9,638.5 1387.9,638.3 1389.9,638.0 1391.9,637.8 1393.9,637.6 1395.9,637.3 1397.9,637.1 1399.9,636.8 1401.9,636.6 1403.9,636.4 1405.9,636.1 1407.9,635.9 1409.9,635.6 1411.9,635.4 1413.8,635.1 1415.8,634.9 1417.8,634.6 1419.8,634.4 1421.8,634.1 1423.8,633.8 1425.8,633.6 1427.8,633.3 1429.8,633.0 1431.8,632.8 1433.8,632.5 1435.8,632.2 1437.7,631.9 1439.7,631.6 1441.7,631.3 1443.7,631.0 1445.7,630.6 1447.6,630.3 1449.6,630.0 1451.6,629.6 1453.5,629.2 1455.5,628.8 1457.5,628.4 1459.4,628.0 1461.4,627.6 1463.3,627.1 1465.3,626.6 1467.2,626.2 1469.1,625.7 1471.1,625.1 1473.0,624.6 1474.9,624.0 1476.8,623.4 1478.7,622.8 1480.7,622.2 1482.6,621.6 1484.5,621.0 1486.4,620.3 1488.3,619.7 1490.2,619.0 1492.1,618.4 1494.0,617.7 1495.9,617.1 1497.8,616.4 1499.7,615.8 1501.6,615.1 1503.5,614.5 1505.4,613.9 1507.3,613.3 1509.2,612.7 1511.1,612.1 1513.0,611.6 1515.0,611.0 1516.9,610.5 1518.8,610.0 1520.8,609.6 1522.7,609.1 1524.7,608.7 1526.7,608.3 1528.6,607.9 1530.6,607.5 1532.6,607.2 1534.5,606.8 1536.5,606.5 1538.5,606.2 1540.5,605.8 1542.4,605.5 1544.4,605.2 1546.4,604.9 1548.4,604.6 1550.4,604.3 1552.4,604.0 1554.4,603.8 1556.3,603.5 1558.3,603.2 1560.3,602.9 1562.3,602.6 1564.3,602.2 1566.3,601.9 1568.3,601.6 1570.2,601.2 1572.2,600.9 1574.2,600.5 1576.1,600.1 1578.1,599.8 1580.1,599.3 1582.0,598.9 1584.0,598.5 1585.9,598.0 1587.9,597.5 1589.8,597.0 1591.8,596.5 1593.7,596.0 1595.6,595.4 1597.5,594.8 1599.4,594.2 1601.3,593.5 1603.2,592.9 1605.1,592.2 1607.0,591.5 1608.9,590.8 1610.8,590.2 1612.7,589.5 1614.6,588.8 1616.5,588.2 1618.4,587.5 1620.3,586.9 1622.2,586.3 1624.2,585.8 1626.1,585.3 1628.0,584.8 1630.0,584.4 1631.9,584.0 1633.9,583.6 1635.9,583.3 1637.9,583.0 1639.8,582.7 1641.8,582.4 1643.8,582.2 1645.8,582.0 1647.8,581.7 1649.8,581.5 1651.8,581.2 1653.8,581.0 1655.8,580.7 1657.8,580.5 1659.8,580.2 1661.8,579.9 1663.7,579.6 1665.7,579.3 1667.7,578.9 1669.7,578.6 1671.6,578.3 1673.6,577.9 1675.6,577.5 1677.6,577.2 1679.5,576.8 1681.5,576.4 1683.5,576.1 1685.4,575.7 1687.4,575.3 1689.4,574.9 1691.3,574.5 1693.3,574.1 1695.3,573.7 1697.2,573.3 1699.2,573.0 1701.2,572.6 1703.1,572.2 1705.1,571.8 1707.1,571.4 1709.0,571.1 1711.0,570.7 1713.0,570.4 1715.0,570.0 1716.9,569.7 1718.9,569.4 1720.9,569.0 1722.9,568.7 1724.8,568.4 1726.8,568.1 1728.8,567.8 1730.8,567.5 1732.8,567.2 1734.8,567.0 1736.7,566.7 1738.7,566.4 1740.7,566.2 1742.7,565.9 1744.7,565.7 1746.7,565.4 1748.7,565.2 1750.7,565.0 1752.7,564.7 1754.6,564.5 1756.6,564.3 1758.6,564.1 1760.6,563.9 1762.6,563.7 1764.6,563.5 1766.6,563.3 1768.6,563.1 1770.6,562.9 1772.6,562.8 1774.6,562.6 1776.6,562.4 1778.6,562.3 1780.6,562.1 1782.6,562.0 1784.6,561.8 1786.6,561.7 1788.6,561.6 1788.6,633.6 1788.5,635.2 1788.3,637.0 1788.2,638.8 1788.0,640.7 1787.9,642.7 1787.7,644.7 1787.5,646.8 1787.2,648.9 1787.0,651.0 1786.7,653.1 1786.4,655.2 1786.0,657.3 1785.6,659.5 1785.1,661.5 1784.6,663.6 1784.0,665.6 1783.3,667.6 1782.6,669.5 1781.8,671.4 1781.0,673.1 1780.1,674.9 1779.1,676.5 1778.0,678.1 1776.9,679.7 1775.7,681.1 1774.5,682.6 1773.2,683.9 1771.8,685.3 1770.4,686.5 1769.0,687.8 1767.5,688.9 1765.9,690.1 1764.3,691.2 1762.7,692.3 1761.0,693.3 1759.4,694.3 1757.6,695.2 1755.9,696.2 1754.1,697.1 1752.2,698.0 1750.4,698.8 1748.5,699.7 1746.6,700.5 1744.7,701.3 1742.8,702.1 1740.9,702.8 1738.9,703.6 1737.0,704.4 1735.0,705.1 1733.1,705.8 1731.1,706.6 1729.1,707.3 1727.2,708.1 1725.2,708.8 1723.2,709.5 1721.3,710.3 1719.4,711.1 1717.4,711.8 1715.5,712.6 1713.6,713.4 1711.7,714.2 1709.9,715.1 1708.0,715.9 1706.1,716.7 1704.3,717.6 1702.5,718.4 1700.6,719.3 1698.8,720.2 1697.0,721.0 1695.2,721.9 1693.4,722.8 1691.6,723.7 1689.8,724.6 1688.0,725.5 1686.3,726.4 1684.5,727.3 1682.7,728.2 1681.0,729.1 1679.2,730.1 1677.5,731.0 1675.7,731.9 1674.0,732.8 1672.2,733.7 1670.4,734.7 1668.7,735.6 1666.9,736.5 1665.2,737.4 1663.4,738.3 1661.7,739.3 1659.9,740.2 1658.2,741.1 1656.4,742.0 1654.6,742.9 1652.8,743.8 1651.1,744.7 1649.3,745.5 1647.5,746.4 1645.7,747.3 1643.9,748.2 1642.1,749.0 1640.3,749.9 1638.4,750.7 1636.6,751.5 1634.8,752.4 1632.9,753.2 1631.1,754.0 1629.2,754.8 1627.3,755.5 1625.4,756.3 1623.5,757.0 1621.6,757.7 1619.7,758.4 1617.8,759.1 1615.8,759.8 1613.9,760.4 1612.0,761.0 1610.0,761.5 1608.1,762.1 1606.1,762.5 1604.2,763.0 1602.2,763.4 1600.3,763.8 1598.3,764.1 1596.3,764.4 1594.4,764.7 1592.4,765.0 1590.4,765.2 1588.4,765.4 1586.4,765.5 1584.5,765.7 1582.5,765.8 1580.5,765.9 1578.5,766.0 1576.5,766.1 1574.5,766.1 1572.5,766.2 1570.5,766.2 1568.5,766.2 1566.5,766.2 1564.4,766.3 1562.4,766.2 1560.4,766.2 1558.4,766.2 1556.4,766.2 1554.4,766.1 1552.3,766.0 1550.3,765.9 1548.3,765.8 1546.3,765.7 1544.3,765.6 1542.3,765.4 1540.3,765.3 1538.3,765.1 1536.3,764.9 1534.3,764.7 1532.3,764.5 1530.3,764.2 1528.3,764.0 1526.3,763.7 1524.3,763.4 1522.3,763.0 1520.4,762.7 1518.4,762.3 1516.5,762.0 1514.5,761.6 1512.5,761.2 1510.6,760.8 1508.6,760.3 1506.7,759.9 1504.8,759.4 1502.8,758.9 1500.9,758.4 1499.0,757.9 1497.0,757.4 1495.1,756.9 1493.2,756.3 1491.3,755.8 1489.4,755.2 1487.5,754.6 1485.5,754.0 1483.6,753.5 1481.7,752.8 1479.8,752.2 1477.9,751.6 1476.0,751.0 1474.1,750.3 1472.2,749.7 1470.3,749.0 1468.5,748.4 1466.6,747.7 1464.7,747.0 1462.8,746.3 1460.9,745.6 1459.0,744.9 1457.1,744.2 1455.3,743.5 1453.4,742.8 1451.5,742.1 1449.6,741.4 1447.7,740.7 1445.8,740.0 1444.0,739.3 1442.1,738.5 1440.2,737.8 1438.3,737.1 1436.4,736.4 1434.6,735.6 1432.7,734.9 1430.8,734.2 1428.9,733.5 1427.0,732.8 1425.2,732.0 1423.3,731.3 1421.4,730.6 1419.5,729.9 1417.6,729.2 1415.7,728.5 1413.8,727.8 1411.9,727.1 1410.0,726.5 1408.2,725.8 1406.3,725.1 1404.4,724.5 1402.5,723.8 1400.6,723.2 1398.7,722.6 1396.8,721.9 1394.8,721.3 1392.9,720.7 1391.0,720.2 1389.1,719.6 1387.2,719.0 1385.3,718.5 1383.4,717.9 1381.4,717.4 1379.5,716.9 1377.6,716.4 1375.6,716.0 1373.7,715.5 1371.8,715.1 1369.8,714.6 1367.9,714.2 1365.9,713.8 1364.0,713.5 1362.0,713.1 1360.0,712.8 1358.1,712.5 1356.1,712.1 1354.1,711.9 1352.2,711.6 1350.2,711.3 1348.2,711.0 1346.2,710.8 1344.2,710.6 1342.3,710.3 1340.3,710.1 1338.3,709.9 1336.3,709.7 1334.3,709.5 1332.3,709.3 1330.3,709.1 1328.3,708.9 1326.3,708.8 1324.3,708.6 1322.3,708.4 1320.3,708.2 1318.3,708.1 1316.3,707.9 1314.3,707.7 1312.3,707.6 1310.3,707.4 1308.3,707.2 1306.3,707.0 1304.3,706.9 1302.2,706.7 1300.2,706.5 1298.2,706.3 1296.2,706.1 1294.2,705.9 1292.2,705.7 1290.2,705.5 1288.2,705.3 1286.2,705.1 1284.2,704.8 1282.2,704.6 1280.2,704.4 1278.2,704.2 1276.2,704.0 1274.1,703.8 1272.1,703.6 1270.1,703.4 1268.1,703.2 1266.1,703.0 1264.1,702.9 1262.1,702.7 1260.1,702.5 1258.1,702.4 1256.1,702.3 1254.1,702.1 1252.1,702.0 1250.1,701.9 1248.1,701.8 1246.1,701.8 1244.1,701.7 1242.1,701.6 1240.1,701.6 1238.2,701.6 1236.2,701.6 1234.2,701.6 1232.2,701.7 1230.2,701.7 1228.2,701.8 1226.2,701.9 1224.2,702.1 1222.2,702.2 1220.2,702.4 1218.3,702.6 1216.3,702.8 1214.3,703.1 1212.3,703.4 1210.3,703.7 1208.4,704.0 1206.4,704.4 1204.4,704.8 1202.4,705.2 1200.5,705.6 1198.5,706.1 1196.6,706.7 1194.6,707.2 1192.7,707.8 1190.8,708.4 1188.9,709.1 1187.0,709.8 1185.1,710.6 1183.3,711.4 1181.5,712.2 1179.7,713.1 1177.9,714.0 1176.1,715.0 1174.4,716.0 1172.7,717.1 1171.1,718.2 1169.4,719.3 1167.8,720.5 1166.3,721.8 1164.8,723.1 1163.3,724.5 1161.8,725.9 1160.4,727.3 1159.0,728.8 1157.7,730.3 1156.3,731.8 1155.0,733.4 1153.8,735.0 1152.6,736.6 1151.4,738.2 1150.2,739.8 1149.1,741.5 1147.9,743.1 1146.8,744.8 1145.8,746.5 1144.7,748.2 1143.6,749.9 1142.5,751.6 1141.5,753.3 1140.4,755.0 1139.4,756.8 1138.3,758.5 1137.2,760.2 1136.2,761.9 1135.1,763.6 1134.0,765.3 1132.9,767.0 1131.7,768.7 1130.5,770.3 1129.4,772.0 1128.1,773.5 1126.8,774.9 1125.4,776.0 1123.9,776.7 1122.3,776.8 1120.6,776.4 1118.8,775.7 1116.9,774.6 1115.2,773.4 1113.4,772.1 1111.8,770.8 1110.2,769.3 1108.7,767.9 1107.2,766.5 1105.7,765.0 1104.3,763.5 1102.8,762.1 1101.4,760.7 1099.9,759.3 1098.4,758.0 1096.8,756.8 1095.2,755.6 1093.6,754.4 1091.9,753.4 1090.2,752.4 1088.4,751.5 1086.5,750.7 1084.6,750.0 1082.7,749.4 1080.7,748.9 1078.7,748.5 1076.7,748.3 1074.6,748.1 1072.6,748.1 1070.6,748.2 1068.6,748.4 1066.6,748.7 1064.7,749.2 1062.9,749.8 1061.0,750.5 1059.3,751.4 1057.6,752.5 1056.0,753.6 1054.5,754.9 1053.0,756.3 1051.6,757.8 1050.2,759.3 1048.9,760.9 1047.7,762.6 1046.4,764.3 1045.3,766.0 1044.1,767.8 1043.0,769.5 1041.9,771.3 1040.8,773.0 1039.8,774.7 1038.8,776.4 1037.8,778.2 1036.8,779.9 1035.9,781.6 1035.0,783.4 1034.0,785.1 1033.1,786.9 1032.2,788.6 1031.3,790.3 1030.5,792.1 1029.6,793.9 1028.7,795.6 1027.9,797.4 1027.0,799.2 1026.1,801.0 1025.3,802.7 1024.4,804.5 1023.5,806.4 1022.6,808.2 1021.7,810.0 1020.8,811.9 1019.9,813.7 1019.0,815.6 1018.0,817.4 1017.0,819.3 1016.0,821.2 1014.9,823.0 1013.8,824.7 1012.6,826.4 1011.3,827.9 1009.9,829.4 1008.4,830.7 1006.8,831.9 1005.1,833.0 1003.3,833.8 1001.4,834.4 999.5,834.8 997.6,834.8 995.8,834.5 994.1,833.8 992.5,832.9 991.0,831.6 989.6,830.2 988.2,828.6 986.9,826.8 985.6,825.0 984.3,823.1 983.1,821.3 981.8,819.5 980.6,817.8 979.3,816.2 978.0,814.7 976.8,813.2 975.5,811.8 974.2,810.4 972.8,809.0 971.5,807.7 970.1,806.4 968.6,805.1 967.2,803.8 965.6,802.5 964.1,801.3 962.5,800.0 960.9,798.8 959.3,797.6 957.6,796.4 955.9,795.3 954.2,794.2 952.4,793.1 950.7,792.1 948.9,791.1 947.1,790.1 945.2,789.2 943.4,788.3 941.5,787.5 939.6,786.7 937.7,786.0 935.8,785.4 933.9,784.8 932.0,784.2 930.0,783.8 928.1,783.4 926.1,783.0 924.2,782.8 922.2,782.6 920.3,782.4 918.3,782.4 916.3,782.3 914.3,782.4 912.4,782.5 910.4,782.6 908.4,782.8 906.4,783.0 904.5,783.2 902.5,783.5 900.5,783.9 898.6,784.3 896.6,784.7 894.6,785.1 892.7,785.6 890.7,786.1 888.8,786.6 886.8,787.1 884.9,787.7 883.0,788.3 881.1,788.9 879.1,789.5 877.2,790.2 875.3,790.8 873.4,791.5 871.5,792.2 869.7,793.0 867.8,793.7 865.9,794.5 864.1,795.2 862.2,796.0 860.4,796.8 858.5,797.7 856.7,798.5 854.9,799.4 853.1,800.2 851.3,801.1 849.5,802.0 847.7,803.0 845.9,803.9 844.2,804.9 842.4,805.9 840.7,806.9 839.0,807.9 837.2,808.9 835.5,810.0 833.9,811.1 832.2,812.2 830.6,813.3 828.9,814.5 827.3,815.6 825.7,816.8 824.1,818.0 822.5,819.3 821.0,820.5 819.5,821.8 817.9,823.1 816.5,824.4 815.0,825.8 813.5,827.1 812.1,828.5 810.7,830.0 809.3,831.4 807.9,832.9 806.6,834.4 805.2,835.9 804.0,837.4 802.7,839.0 801.5,840.6 800.3,842.2 799.1,843.9 798.0,845.5 796.9,847.2 795.8,848.9 794.8,850.6 793.8,852.4 792.9,854.2 792.0,855.9 791.1,857.8 790.3,859.6 789.6,861.4 788.9,863.3 788.2,865.2 787.6,867.1 787.1,869.1 786.6,871.0 786.1,873.0 785.7,875.0 785.4,877.0" stroke="#2b2bd6" class="cv"/>
<path d="M785.4,887.4 785.4,885.4 785.4,883.3 785.5,881.3 785.5,879.3 785.5,877.3 785.5,875.3 785.5,873.3 785.6,871.3 785.6,869.3 785.6,867.3 785.6,865.3 785.7,863.3 785.7,861.3 785.7,859.3 785.7,857.3 785.7,855.3 785.8,853.3 785.8,851.3 785.8,849.3 785.8,847.3 785.9,845.3 785.9,843.3 785.9,841.3 785.9,839.3 786.0,837.3 786.0,835.3 786.0,833.3 786.0,831.3 786.0,829.3 786.1,827.3 786.1,825.3 786.1,823.3 786.1,821.3 786.2,819.3 786.2,817.3 786.2,815.3 786.2,813.3 786.3,811.3 786.3,809.3 786.3,807.3 786.3,805.3 786.3,803.3 786.4,801.3 786.4,799.3 786.4,797.3 786.4,795.3 786.5,793.3 786.5,791.3 786.5,789.3 786.5,787.3 786.5,785.3 786.6,783.3 786.6,781.3 786.6,779.3 786.6,777.3 786.6,775.3 786.7,773.3 786.7,771.3 786.7,769.3 786.7,767.3 786.7,765.3 786.8,763.3 786.8,761.3 786.8,759.3 786.8,757.3 786.8,755.3 786.9,753.2 786.9,751.2 786.9,749.2 786.9,747.2 786.9,745.2 786.9,743.2 787.0,741.2 787.0,739.2 787.0,737.1 787.0,735.1 787.0,733.1 787.1,731.1 787.1,729.1 787.1,727.1 787.1,725.1 787.1,723.0 787.2,721.0 787.2,719.0 787.2,717.0 787.2,715.0 787.3,713.0 787.3,711.0 787.3,709.0 787.4,706.9 787.4,704.9 787.4,702.9 787.5,700.9 787.5,698.9 787.6,696.9 787.6,694.9 787.6,692.9 787.7,690.9 787.7,688.9 787.8,686.9 787.8,684.9 787.9,682.9 787.9,680.9 788.0,678.9 788.1,676.9 788.1,675.0 788.2,673.0 788.3,671.0 788.3,669.0 788.4,667.0 788.5,665.1 788.6,663.1 788.7,661.1 788.7,659.1 788.8,657.2 788.9,655.2 789.0,653.2 789.1,651.2 789.2,649.3 789.3,647.3 789.4,645.3 789.5,643.3 789.6,641.3 789.7,639.3 789.8,637.4 789.9,635.4 790.0,633.4 790.1,631.4 790.1,629.3 790.2,627.3 790.3,625.3 790.4,623.3 790.5,621.2 790.6,619.2 790.7,617.1 790.7,615.1 790.8,613.0 790.9,610.9 791.0,608.8 791.1,606.7 791.1,604.6 791.3,602.6 791.4,600.5 791.6,598.4 791.8,596.4 792.1,594.4 792.5,592.4 792.9,590.5 793.4,588.6 794.0,586.7 794.7,584.9 795.5,583.2 796.4,581.5 797.4,579.9 798.6,578.4 799.9,576.9 801.3,575.5 802.8,574.2 804.4,573.1 806.2,572.0 808.0,571.1 809.8,570.3 811.7,569.7 813.6,569.3 815.6,569.0 817.5,568.9 819.5,569.0 821.4,569.2 823.3,569.7 825.2,570.2 827.1,570.9 829.0,571.7 830.8,572.6 832.7,573.5 834.6,574.5 836.4,575.5 838.2,576.5 840.1,577.5 841.9,578.5 843.7,579.4 845.5,580.3 847.3,581.2 849.2,582.1 851.0,583.0 852.8,583.9 854.6,584.7 856.4,585.5 858.2,586.3 860.0,587.1 861.8,587.9 863.6,588.6 865.4,589.4 867.3,590.1 869.1,590.8 870.9,591.5 872.8,592.1 874.6,592.8 876.5,593.4 878.3,594.0 880.2,594.6 882.1,595.2 884.0,595.7 885.9,596.3 887.8,596.8 889.8,597.3 891.7,597.8 893.7,598.3 895.7,598.7 897.7,599.1 899.7,599.6 901.7,599.9 903.7,600.3 905.8,600.6 907.8,600.9 909.8,601.2 911.9,601.4 913.9,601.6 916.0,601.8 918.0,602.0 920.0,602.0 922.1,602.1 924.1,602.1 926.1,602.1 928.1,602.0 930.1,601.9 932.1,601.7 934.1,601.5 936.1,601.2 938.0,600.9 939.9,600.5 941.8,600.1 943.7,599.6 945.6,599.0 947.4,598.4 949.3,597.7 951.1,597.0 952.8,596.2 954.6,595.3 956.3,594.4 958.0,593.3 959.6,592.3 961.2,591.1 962.8,589.9 964.4,588.6 965.9,587.3 967.4,585.9 968.8,584.5 970.3,583.0 971.7,581.5 973.0,579.9 974.3,578.4 975.6,576.7 976.9,575.1 978.1,573.4 979.3,571.7 980.4,570.0 981.6,568.3 982.6,566.6 983.7,564.9 984.7,563.1 985.7,561.4 986.6,559.7 987.6,557.9 988.5,556.2 989.4,554.4 990.2,552.6 991.1,550.9 991.9,549.1 992.8,547.3 993.6,545.5 994.4,543.7 995.2,541.9 996.1,540.1 996.9,538.3 997.7,536.5 998.6,534.7 999.5,532.9 1000.4,531.1 1001.3,529.3 1002.3,527.5 1003.4,525.8 1004.5,524.1 1005.6,522.4 1006.9,520.7 1008.2,519.1 1009.6,517.6 1011.1,516.1 1012.7,514.7 1014.4,513.4 1016.1,512.3 1017.9,511.4 1019.7,510.8 1021.6,510.5 1023.4,510.5 1025.3,510.9 1027.0,511.6 1028.7,512.6 1030.2,513.7 1031.6,515.1 1032.9,516.7 1034.0,518.4 1035.1,520.2 1036.0,522.1 1036.9,524.0 1037.7,526.0 1038.5,528.0 1039.3,530.0 1040.1,532.0 1040.9,533.9 1041.7,535.8 1042.5,537.6 1043.3,539.4 1044.1,541.1 1044.9,542.9 1045.7,544.6 1046.5,546.4 1047.2,548.1 1048.0,549.9 1048.7,551.7 1049.4,553.5 1050.1,555.4 1050.8,557.3 1051.4,559.2 1052.1,561.1 1052.7,563.1 1053.3,565.1 1053.9,567.0 1054.6,569.0 1055.2,571.0 1055.9,573.0 1056.5,575.0 1057.2,577.0 1057.9,578.9 1058.7,580.8 1059.5,582.7 1060.3,584.6 1061.2,586.4 1062.1,588.1 1063.0,589.9 1064.1,591.5 1065.1,593.1 1066.3,594.7 1067.5,596.2 1068.8,597.6 1070.2,598.9 1071.6,600.1 1073.1,601.3 1074.8,602.4 1076.5,603.3 1078.3,604.2 1080.2,605.0 1082.2,605.6 1084.2,606.1 1086.2,606.6 1088.3,606.8 1090.3,607.0 1092.4,607.0 1094.5,606.9 1096.5,606.7 1098.5,606.3 1100.4,605.7 1102.3,605.0 1104.0,604.2 1105.7,603.2 1107.4,602.1 1108.9,600.8 1110.4,599.5 1111.9,598.1 1113.2,596.7 1114.6,595.2 1115.8,593.7 1117.0,592.2 1118.2,590.7 1119.4,589.1 1120.6,587.5 1121.7,585.9 1122.9,584.3 1124.0,582.7 1125.2,581.0 1126.4,579.4 1127.7,577.7 1129.0,575.9 1130.4,574.2 1131.9,572.4 1133.4,570.7 1135.0,569.0 1136.6,567.5 1138.2,566.2 1139.9,565.2 1141.6,564.4 1143.3,563.9 1145.0,563.9 1146.7,564.2 1148.3,565.0 1149.9,566.1 1151.4,567.4 1152.9,569.0 1154.2,570.7 1155.4,572.4 1156.5,574.2 1157.4,576.1 1158.3,578.0 1159.1,579.9 1159.7,581.8 1160.4,583.8 1161.0,585.7 1161.6,587.7 1162.1,589.6 1162.7,591.5 1163.3,593.4 1164.0,595.3 1164.6,597.2 1165.4,599.0 1166.1,600.8 1166.9,602.6 1167.8,604.4 1168.6,606.2 1169.5,607.9 1170.5,609.6 1171.5,611.3 1172.5,613.0 1173.6,614.7 1174.7,616.3 1175.9,618.0 1177.1,619.6 1178.4,621.2 1179.6,622.8 1181.0,624.4 1182.3,625.9 1183.7,627.4 1185.1,628.9 1186.6,630.4 1188.1,631.8 1189.6,633.2 1191.2,634.5 1192.8,635.8 1194.4,637.1 1196.0,638.3 1197.7,639.5 1199.4,640.6 1201.1,641.7 1202.8,642.7 1204.6,643.7 1206.4,644.6 1208.2,645.4 1210.0,646.2 1211.8,646.9 1213.7,647.6 1215.5,648.2 1217.4,648.7 1219.3,649.2 1221.2,649.7 1223.1,650.1 1225.1,650.4 1227.0,650.7 1229.0,651.0 1230.9,651.2 1232.9,651.4 1234.9,651.6 1236.9,651.7 1238.9,651.8 1240.9,651.9 1242.9,651.9 1244.9,652.0 1246.9,652.0 1248.9,652.0 1251.0,651.9 1253.0,651.9 1255.0,651.8 1257.1,651.7 1259.1,651.7 1261.1,651.6 1263.1,651.5 1265.2,651.4 1267.2,651.3 1269.2,651.2 1271.2,651.1 1273.2,651.0 1275.2,650.8 1277.3,650.7 1279.3,650.6 1281.3,650.5 1283.3,650.3 1285.3,650.2 1287.3,650.1 1289.3,649.9 1291.3,649.8 1293.3,649.6 1295.3,649.5 1297.3,649.3 1299.3,649.1 1301.3,649.0 1303.3,648.8 1305.3,648.6 1307.3,648.5 1309.3,648.3 1311.3,648.1 1313.3,647.9 1315.3,647.8 1317.3,647.6 1319.3,647.4 1321.3,647.2 1323.3,647.0 1325.3,646.8 1327.3,646.6 1329.3,646.4 1331.2,646.2 1333.2,646.0 1335.2,645.8 1337.2,645.6 1339.2,645.4 1341.2,645.2 1343.2,645.0 1345.1,644.7 1347.1,644.5 1349.1,644.3 1351.1,644.1 1353.1,643.9 1355.1,643.7 1357.1,643.4 1359.0,643.2 1361.0,643.0 1363.0,642.8 1365.0,642.5 1367.0,642.3 1368.9,642.1 1370.9,641.9 1372.9,641.6 1374.9,641.4 1376.9,641.2 1378.9,641.0 1380.8,640.7 1382.8,640.5 1384.8,640.3 1386.8,640.1 1388.8,639.8 1390.8,639.6 1392.7,639.4 1394.7,639.1 1396.7,638.9 1398.7,638.7 1400.7,638.5 1402.7,638.2 1404.6,638.0 1406.6,637.8 1408.6,637.6 1410.6,637.3 1412.6,637.1 1414.6,636.9 1416.6,636.7 1418.6,636.5 1420.5,636.3 1422.5,636.0 1424.5,635.8 1426.5,635.6 1428.5,635.4 1430.5,635.2 1432.5,635.0 1434.5,634.8 1436.5,634.5 1438.5,634.3 1440.5,634.1 1442.5,633.9 1444.5,633.6 1446.5,633.4 1448.5,633.2 1450.4,632.9 1452.4,632.6 1454.4,632.4 1456.4,632.1 1458.4,631.8 1460.4,631.6 1462.4,631.3 1464.4,631.0 1466.4,630.7 1468.4,630.3 1470.4,630.0 1472.4,629.7 1474.4,629.3 1476.4,628.9 1478.4,628.5 1480.4,628.1 1482.4,627.7 1484.3,627.2 1486.3,626.7 1488.2,626.2 1490.1,625.6 1492.0,625.0 1493.9,624.4 1495.8,623.7 1497.6,622.9 1499.4,622.1 1501.2,621.2 1502.9,620.3 1504.7,619.4 1506.4,618.4 1508.1,617.3 1509.7,616.3 1511.4,615.1 1513.0,614.0 1514.6,612.8 1516.2,611.6 1517.8,610.3 1519.3,609.0 1520.8,607.7 1522.4,606.4 1523.9,605.0 1525.4,603.7 1526.8,602.3 1528.3,600.9 1529.8,599.5 1531.2,598.0 1532.6,596.6 1534.1,595.2 1535.5,593.7 1536.9,592.3 1538.3,590.8 1539.7,589.4 1541.1,587.9 1542.4,586.5 1543.8,585.0 1545.1,583.5 1546.5,582.0 1547.8,580.5 1549.1,579.0 1550.3,577.5 1551.6,576.0 1552.8,574.4 1554.1,572.8 1555.3,571.3 1556.4,569.7 1557.6,568.0 1558.8,566.4 1559.9,564.8 1561.1,563.2 1562.3,561.6 1563.5,560.0 1564.7,558.4 1565.9,556.9 1567.2,555.3 1568.5,553.8 1569.9,552.3 1571.3,550.9 1572.8,549.5 1574.3,548.1 1575.9,546.8 1577.5,545.5 1579.2,544.4 1581.0,543.2 1582.8,542.2 1584.6,541.3 1586.5,540.4 1588.3,539.7 1590.2,539.0 1592.2,538.5 1594.1,538.1 1596.0,537.9 1597.9,537.8 1599.9,537.8 1601.8,538.0 1603.7,538.4 1605.6,538.8 1607.5,539.3 1609.4,540.0 1611.3,540.7 1613.2,541.4 1615.1,542.2 1616.9,543.0 1618.8,543.9 1620.7,544.7 1622.6,545.5 1624.5,546.3 1626.4,547.1 1628.3,547.9 1630.2,548.6 1632.1,549.3 1634.0,550.0 1635.9,550.7 1637.8,551.3 1639.7,551.8 1641.7,552.4 1643.6,552.9 1645.6,553.3 1647.5,553.7 1649.5,554.0 1651.4,554.3 1653.4,554.6 1655.4,554.8 1657.3,555.0 1659.3,555.1 1661.3,555.3 1663.3,555.3 1665.3,555.4 1667.3,555.4 1669.3,555.4 1671.3,555.4 1673.3,555.3 1675.3,555.2 1677.3,555.1 1679.3,555.0 1681.3,554.8 1683.3,554.6 1685.3,554.4 1687.3,554.2 1689.3,554.0 1691.3,553.8 1693.3,553.5 1695.3,553.3 1697.3,553.0 1699.3,552.7 1701.3,552.4 1703.2,552.1 1705.2,551.8 1707.2,551.5 1709.2,551.2 1711.2,550.9 1713.2,550.6 1715.1,550.3 1717.1,549.9 1719.1,549.6 1721.1,549.3 1723.0,549.0 1725.0,548.6 1727.0,548.3 1729.0,548.0 1730.9,547.6 1732.9,547.3 1734.9,547.0 1736.9,546.7 1738.8,546.3 1740.8,546.0 1742.8,545.7 1744.8,545.4 1746.7,545.1 1748.7,544.8 1750.7,544.5 1752.7,544.2 1754.6,544.0 1756.6,543.7 1758.6,543.5 1760.6,543.2 1762.6,543.0 1764.6,542.8 1766.5,542.5 1768.5,542.3 1770.5,542.1 1772.5,542.0 1774.5,541.8 1776.5,541.7 1778.5,541.5 1780.5,541.4 1782.6,541.3 1784.6,541.2 1786.6,541.2 1788.6,541.1 1788.6,633.6 1788.6,635.6 1788.5,637.6 1788.4,639.6 1788.3,641.7 1788.1,643.7 1787.9,645.7 1787.6,647.7 1787.3,649.7 1787.0,651.6 1786.7,653.6 1786.3,655.6 1785.9,657.5 1785.4,659.5 1784.9,661.4 1784.4,663.4 1783.8,665.3 1783.2,667.2 1782.5,669.0 1781.8,670.9 1781.1,672.7 1780.3,674.6 1779.5,676.4 1778.6,678.2 1777.8,680.0 1776.8,681.7 1775.8,683.5 1774.8,685.2 1773.8,686.9 1772.7,688.5 1771.5,690.2 1770.3,691.8 1769.1,693.4 1767.8,695.0 1766.5,696.5 1765.2,698.0 1763.8,699.5 1762.3,701.0 1760.9,702.4 1759.3,703.7 1757.8,705.0 1756.2,706.3 1754.6,707.6 1753.0,708.7 1751.3,709.9 1749.7,710.9 1748.0,712.0 1746.2,713.0 1744.5,713.9 1742.7,714.8 1740.9,715.7 1739.1,716.6 1737.3,717.4 1735.5,718.2 1733.6,719.0 1731.8,719.8 1730.0,720.6 1728.1,721.3 1726.2,722.1 1724.4,722.9 1722.5,723.7 1720.7,724.4 1718.8,725.2 1717.0,726.0 1715.1,726.9 1713.3,727.7 1711.5,728.5 1709.7,729.4 1707.9,730.3 1706.1,731.2 1704.3,732.1 1702.5,733.0 1700.7,733.9 1698.9,734.8 1697.1,735.8 1695.3,736.8 1693.6,737.7 1691.8,738.7 1690.1,739.7 1688.3,740.7 1686.6,741.7 1684.9,742.8 1683.2,743.8 1681.5,744.8 1679.8,745.9 1678.1,747.0 1676.4,748.0 1674.7,749.1 1673.0,750.2 1671.4,751.3 1669.7,752.4 1668.1,753.5 1666.4,754.6 1664.8,755.8 1663.1,756.9 1661.5,758.0 1659.9,759.2 1658.3,760.3 1656.7,761.5 1655.0,762.6 1653.4,763.8 1651.8,765.0 1650.2,766.2 1648.6,767.4 1647.0,768.6 1645.4,769.7 1643.8,770.9 1642.2,772.2 1640.6,773.4 1639.0,774.6 1637.5,775.8 1635.9,777.0 1634.3,778.2 1632.7,779.5 1631.1,780.7 1629.5,781.9 1627.9,783.2 1626.3,784.4 1624.7,785.6 1623.1,786.9 1621.5,788.1 1619.8,789.4 1618.2,790.6 1616.6,791.9 1615.0,793.1 1613.3,794.3 1611.7,795.6 1610.0,796.7 1608.4,797.9 1606.7,799.1 1605.0,800.2 1603.3,801.2 1601.5,802.3 1599.8,803.2 1598.0,804.1 1596.2,805.0 1594.4,805.8 1592.6,806.5 1590.7,807.2 1588.8,807.7 1586.9,808.3 1585.0,808.7 1583.0,809.1 1581.0,809.4 1579.1,809.7 1577.1,809.9 1575.1,810.0 1573.1,810.0 1571.1,810.0 1569.1,810.0 1567.1,809.9 1565.1,809.7 1563.1,809.4 1561.1,809.1 1559.2,808.8 1557.2,808.4 1555.2,807.9 1553.3,807.4 1551.4,806.8 1549.5,806.2 1547.6,805.5 1545.7,804.7 1543.9,804.0 1542.0,803.1 1540.2,802.3 1538.4,801.4 1536.6,800.5 1534.8,799.5 1533.1,798.6 1531.3,797.6 1529.5,796.6 1527.8,795.6 1526.0,794.6 1524.3,793.6 1522.6,792.6 1520.8,791.6 1519.1,790.5 1517.4,789.5 1515.7,788.4 1513.9,787.4 1512.2,786.4 1510.5,785.3 1508.8,784.2 1507.1,783.2 1505.4,782.1 1503.7,781.0 1502.0,780.0 1500.3,778.9 1498.6,777.8 1496.9,776.8 1495.2,775.7 1493.5,774.6 1491.8,773.5 1490.1,772.5 1488.4,771.4 1486.8,770.3 1485.1,769.3 1483.4,768.2 1481.7,767.1 1480.0,766.1 1478.3,765.0 1476.6,764.0 1474.9,762.9 1473.2,761.9 1471.5,760.8 1469.8,759.8 1468.0,758.8 1466.3,757.7 1464.6,756.7 1462.9,755.7 1461.2,754.7 1459.4,753.7 1457.7,752.7 1456.0,751.7 1454.2,750.8 1452.5,749.8 1450.7,748.9 1449.0,747.9 1447.2,747.0 1445.4,746.1 1443.6,745.1 1441.9,744.2 1440.1,743.4 1438.3,742.5 1436.5,741.6 1434.7,740.8 1432.8,739.9 1431.0,739.1 1429.2,738.3 1427.3,737.5 1425.5,736.7 1423.6,735.9 1421.8,735.2 1419.9,734.4 1418.1,733.7 1416.2,733.0 1414.3,732.3 1412.4,731.6 1410.5,730.9 1408.6,730.2 1406.7,729.6 1404.8,729.0 1402.9,728.3 1401.0,727.7 1399.1,727.1 1397.1,726.5 1395.2,726.0 1393.3,725.4 1391.3,724.9 1389.4,724.3 1387.5,723.8 1385.5,723.3 1383.6,722.8 1381.6,722.4 1379.6,721.9 1377.7,721.5 1375.7,721.1 1373.8,720.6 1371.8,720.2 1369.8,719.9 1367.9,719.5 1365.9,719.1 1363.9,718.8 1361.9,718.5 1360.0,718.2 1358.0,717.9 1356.0,717.6 1354.0,717.3 1352.0,717.0 1350.0,716.8 1348.0,716.5 1346.1,716.3 1344.1,716.1 1342.1,715.9 1340.1,715.7 1338.1,715.5 1336.1,715.3 1334.1,715.2 1332.1,715.0 1330.1,714.9 1328.1,714.7 1326.1,714.6 1324.1,714.4 1322.1,714.3 1320.1,714.2 1318.1,714.1 1316.1,714.0 1314.1,713.9 1312.1,713.8 1310.1,713.7 1308.1,713.6 1306.1,713.6 1304.1,713.5 1302.1,713.4 1300.1,713.3 1298.1,713.3 1296.1,713.2 1294.1,713.2 1292.1,713.1 1290.1,713.1 1288.1,713.0 1286.1,713.0 1284.1,712.9 1282.1,712.9 1280.1,712.9 1278.1,712.9 1276.0,712.8 1274.0,712.8 1272.0,712.8 1270.0,712.8 1268.0,712.8 1266.0,712.8 1264.0,712.8 1262.0,712.8 1260.0,712.8 1258.0,712.8 1256.0,712.9 1254.0,712.9 1252.0,712.9 1250.0,713.0 1248.0,713.0 1246.0,713.0 1244.0,713.1 1242.0,713.1 1240.0,713.2 1238.0,713.3 1236.0,713.3 1234.0,713.4 1231.9,713.5 1229.9,713.6 1227.9,713.6 1225.9,713.8 1223.9,713.9 1221.9,714.0 1219.9,714.2 1218.0,714.4 1216.0,714.6 1214.0,714.8 1212.0,715.1 1210.0,715.5 1208.0,715.8 1206.1,716.2 1204.1,716.7 1202.1,717.2 1200.2,717.7 1198.3,718.3 1196.3,718.9 1194.4,719.6 1192.5,720.3 1190.7,721.1 1188.8,721.9 1187.0,722.7 1185.2,723.6 1183.4,724.6 1181.7,725.5 1179.9,726.6 1178.3,727.7 1176.6,728.8 1175.0,729.9 1173.4,731.2 1171.9,732.4 1170.4,733.7 1168.9,735.1 1167.5,736.5 1166.1,737.9 1164.8,739.4 1163.5,741.0 1162.3,742.5 1161.1,744.1 1159.9,745.8 1158.8,747.5 1157.7,749.2 1156.7,750.9 1155.7,752.7 1154.7,754.5 1153.8,756.3 1152.9,758.1 1152.0,760.0 1151.2,761.8 1150.3,763.7 1149.4,765.5 1148.5,767.4 1147.6,769.2 1146.6,771.0 1145.6,772.8 1144.6,774.5 1143.5,776.2 1142.3,777.9 1141.0,779.5 1139.7,781.0 1138.2,782.5 1136.7,783.9 1135.1,785.2 1133.5,786.2 1131.8,787.0 1130.0,787.5 1128.3,787.7 1126.5,787.6 1124.8,787.2 1123.0,786.4 1121.3,785.5 1119.6,784.4 1118.0,783.2 1116.3,781.8 1114.7,780.5 1113.2,779.0 1111.7,777.6 1110.2,776.1 1108.7,774.6 1107.2,773.2 1105.7,771.7 1104.2,770.3 1102.7,769.0 1101.2,767.7 1099.6,766.5 1098.0,765.4 1096.3,764.3 1094.6,763.4 1092.8,762.6 1090.9,762.0 1089.0,761.5 1086.9,761.2 1084.8,761.1 1082.7,761.1 1080.6,761.2 1078.5,761.5 1076.5,762.0 1074.5,762.5 1072.6,763.2 1070.8,764.1 1069.1,765.0 1067.5,766.1 1065.9,767.2 1064.4,768.5 1063.0,769.8 1061.6,771.2 1060.3,772.7 1059.1,774.3 1057.9,775.9 1056.8,777.6 1055.6,779.3 1054.6,781.0 1053.5,782.8 1052.6,784.6 1051.6,786.4 1050.6,788.2 1049.7,790.1 1048.8,791.9 1047.9,793.7 1047.0,795.5 1046.1,797.3 1045.3,799.1 1044.5,800.9 1043.6,802.7 1042.8,804.5 1042.0,806.3 1041.3,808.2 1040.5,810.0 1039.8,811.8 1039.1,813.7 1038.4,815.5 1037.7,817.4 1037.1,819.3 1036.4,821.2 1035.8,823.2 1035.2,825.2 1034.7,827.1 1034.1,829.1 1033.5,831.2 1032.9,833.2 1032.3,835.1 1031.6,837.1 1030.9,839.0 1030.1,840.9 1029.3,842.8 1028.4,844.6 1027.3,846.3 1026.2,848.0 1025.0,849.6 1023.6,851.1 1022.1,852.6 1020.5,853.9 1018.8,855.1 1017.0,856.1 1015.2,856.8 1013.3,857.4 1011.5,857.6 1009.7,857.5 1007.9,857.1 1006.2,856.4 1004.5,855.4 1002.9,854.3 1001.4,852.9 999.9,851.4 998.4,849.8 997.0,848.2 995.7,846.5 994.4,844.8 993.2,843.1 992.0,841.4 990.9,839.6 989.8,837.9 988.7,836.2 987.6,834.5 986.6,832.7 985.5,831.0 984.5,829.3 983.5,827.6 982.5,825.9 981.5,824.2 980.4,822.6 979.3,820.9 978.3,819.3 977.2,817.7 976.0,816.1 974.8,814.6 973.6,813.0 972.3,811.5 971.0,810.1 969.6,808.6 968.2,807.2 966.6,805.9 965.1,804.5 963.5,803.3 961.8,802.0 960.1,800.8 958.4,799.7 956.6,798.6 954.8,797.5 953.0,796.6 951.1,795.6 949.3,794.8 947.4,794.0 945.5,793.2 943.6,792.5 941.6,791.9 939.7,791.4 937.8,790.9 935.8,790.5 933.9,790.2 932.0,789.9 930.0,789.6 928.0,789.5 926.1,789.3 924.1,789.3 922.2,789.2 920.2,789.3 918.2,789.3 916.2,789.4 914.3,789.6 912.3,789.8 910.3,790.0 908.3,790.3 906.4,790.6 904.4,790.9 902.4,791.3 900.5,791.7 898.5,792.1 896.5,792.6 894.5,793.1 892.6,793.6 890.6,794.1 888.7,794.6 886.7,795.2 884.8,795.7 882.8,796.3 880.9,796.9 879.0,797.6 877.0,798.2 875.1,798.9 873.2,799.6 871.3,800.3 869.4,801.0 867.5,801.8 865.7,802.5 863.8,803.3 862.0,804.2 860.1,805.0 858.3,805.8 856.5,806.7 854.7,807.6 852.9,808.5 851.1,809.5 849.4,810.4 847.6,811.4 845.9,812.4 844.2,813.5 842.5,814.5 840.8,815.6 839.1,816.7 837.5,817.8 835.8,819.0 834.2,820.2 832.7,821.4 831.1,822.6 829.5,823.8 828.0,825.1 826.5,826.4 825.0,827.7 823.6,829.1 822.1,830.5 820.7,831.9 819.3,833.3 817.9,834.7 816.6,836.2 815.3,837.7 814.0,839.2 812.7,840.7 811.4,842.3 810.2,843.8 809.0,845.4 807.8,847.0 806.6,848.7 805.4,850.3 804.3,852.0 803.2,853.6 802.1,855.3 801.0,857.0 799.9,858.7 798.9,860.4 797.9,862.2 796.8,863.9 795.9,865.7 794.9,867.5 793.9,869.2 793.0,871.0 792.1,872.8 791.2,874.6 790.3,876.4 789.5,878.2 788.6,880.1 787.8,881.9 787.0,883.7 786.2,885.5 785.4,887.4" stroke="#e02828" class="cv"/>
<path d="M785.4,895.7 785.4,893.7 785.5,891.7 785.5,889.7 785.5,887.7 785.5,885.7 785.6,883.7 785.6,881.7 785.6,879.7 785.6,877.7 785.7,875.7 785.7,873.7 785.7,871.7 785.7,869.7 785.7,867.7 785.8,865.7 785.8,863.7 785.8,861.7 785.8,859.7 785.8,857.7 785.9,855.7 785.9,853.7 785.9,851.7 785.9,849.7 785.9,847.7 785.9,845.7 786.0,843.7 786.0,841.6 786.0,839.6 786.0,837.6 786.0,835.6 786.0,833.6 786.1,831.6 786.1,829.6 786.1,827.6 786.1,825.6 786.1,823.6 786.1,821.6 786.1,819.6 786.2,817.6 786.2,815.6 786.2,813.6 786.2,811.6 786.2,809.6 786.2,807.6 786.3,805.6 786.3,803.6 786.3,801.6 786.3,799.6 786.3,797.6 786.3,795.6 786.3,793.6 786.4,791.6 786.4,789.6 786.4,787.6 786.4,785.5 786.4,783.5 786.4,781.5 786.5,779.5 786.5,777.5 786.5,775.5 786.5,773.5 786.5,771.5 786.6,769.5 786.6,767.5 786.6,765.5 786.6,763.5 786.6,761.5 786.7,759.5 786.7,757.5 786.7,755.5 786.7,753.5 786.8,751.5 786.8,749.5 786.8,747.5 786.8,745.5 786.9,743.5 786.9,741.5 786.9,739.5 786.9,737.5 787.0,735.5 787.0,733.5 787.0,731.5 787.1,729.5 787.1,727.4 787.1,725.4 787.2,723.4 787.2,721.4 787.2,719.4 787.3,717.4 787.3,715.4 787.3,713.4 787.4,711.4 787.4,709.4 787.4,707.4 787.5,705.4 787.5,703.4 787.6,701.4 787.6,699.4 787.7,697.4 787.7,695.4 787.7,693.4 787.8,691.4 787.8,689.4 787.9,687.4 787.9,685.4 788.0,683.4 788.0,681.4 788.1,679.4 788.2,677.4 788.2,675.4 788.3,673.4 788.3,671.4 788.4,669.4 788.4,667.4 788.5,665.4 788.6,663.4 788.6,661.4 788.7,659.4 788.8,657.4 788.8,655.4 788.9,653.4 789.0,651.4 789.1,649.4 789.1,647.4 789.2,645.4 789.3,643.4 789.4,641.4 789.5,639.4 789.6,637.4 789.7,635.4 789.8,633.4 789.9,631.4 790.0,629.4 790.1,627.4 790.2,625.4 790.3,623.4 790.5,621.4 790.6,619.4 790.7,617.4 790.8,615.4 791.0,613.4 791.1,611.4 791.3,609.4 791.4,607.4 791.6,605.4 791.8,603.4 792.0,601.4 792.3,599.4 792.5,597.4 792.9,595.4 793.2,593.5 793.6,591.5 794.1,589.6 794.6,587.6 795.2,585.7 795.8,583.8 796.5,581.9 797.3,580.0 798.2,578.2 799.2,576.3 800.2,574.5 801.3,572.8 802.5,571.1 803.8,569.5 805.2,568.0 806.6,566.7 808.1,565.4 809.7,564.3 811.3,563.4 813.0,562.7 814.8,562.1 816.6,561.8 818.5,561.6 820.4,561.5 822.4,561.7 824.4,561.9 826.4,562.3 828.4,562.7 830.5,563.3 832.5,563.9 834.5,564.6 836.5,565.3 838.5,566.1 840.4,566.9 842.3,567.7 844.2,568.5 846.1,569.4 847.9,570.2 849.7,571.1 851.5,572.0 853.3,572.9 855.1,573.7 856.8,574.6 858.6,575.5 860.3,576.3 862.1,577.2 863.9,578.0 865.6,578.9 867.4,579.7 869.2,580.4 871.0,581.2 872.8,582.0 874.6,582.7 876.4,583.4 878.3,584.1 880.2,584.8 882.0,585.4 883.9,586.1 885.8,586.7 887.7,587.4 889.6,588.0 891.5,588.6 893.5,589.2 895.4,589.8 897.4,590.4 899.4,591.0 901.3,591.6 903.3,592.1 905.3,592.6 907.3,593.1 909.3,593.6 911.3,594.1 913.3,594.5 915.3,594.9 917.3,595.2 919.3,595.6 921.3,595.9 923.3,596.1 925.3,596.4 927.3,596.5 929.3,596.7 931.3,596.8 933.3,596.8 935.3,596.8 937.2,596.8 939.2,596.7 941.2,596.5 943.1,596.3 945.1,596.0 947.0,595.7 948.9,595.3 950.8,594.8 952.7,594.3 954.6,593.7 956.4,593.1 958.3,592.3 960.1,591.5 961.9,590.7 963.7,589.7 965.5,588.8 967.3,587.7 969.0,586.6 970.7,585.5 972.4,584.3 974.0,583.0 975.6,581.8 977.2,580.5 978.7,579.1 980.2,577.7 981.7,576.4 983.2,574.9 984.5,573.5 985.9,572.1 987.2,570.6 988.5,569.1 989.8,567.7 991.1,566.2 992.3,564.6 993.5,563.1 994.7,561.6 995.9,560.0 997.2,558.5 998.4,556.9 999.6,555.4 1000.8,553.8 1002.1,552.2 1003.3,550.7 1004.6,549.1 1006.0,547.5 1007.3,545.9 1008.7,544.3 1010.1,542.7 1011.6,541.2 1013.1,539.6 1014.7,538.2 1016.3,536.8 1017.9,535.6 1019.6,534.6 1021.4,533.8 1023.1,533.2 1025.0,533.0 1026.9,533.0 1028.8,533.4 1030.7,534.0 1032.6,534.8 1034.4,535.8 1036.2,537.0 1037.9,538.2 1039.5,539.5 1041.0,540.8 1042.4,542.2 1043.7,543.7 1045.0,545.2 1046.2,546.8 1047.4,548.4 1048.5,550.0 1049.5,551.7 1050.6,553.4 1051.6,555.1 1052.5,556.9 1053.5,558.6 1054.5,560.4 1055.4,562.2 1056.4,564.0 1057.4,565.8 1058.3,567.6 1059.4,569.4 1060.4,571.1 1061.5,572.9 1062.6,574.6 1063.8,576.3 1064.9,578.0 1066.2,579.6 1067.4,581.2 1068.7,582.7 1070.1,584.2 1071.4,585.6 1072.9,587.0 1074.3,588.3 1075.9,589.5 1077.4,590.7 1079.1,591.7 1080.7,592.7 1082.5,593.6 1084.3,594.4 1086.1,595.0 1088.0,595.6 1089.9,596.1 1091.9,596.5 1093.9,596.8 1096.0,596.9 1098.0,597.0 1100.0,597.0 1102.1,596.8 1104.1,596.6 1106.2,596.3 1108.1,595.9 1110.1,595.3 1112.0,594.7 1113.9,594.0 1115.7,593.2 1117.5,592.3 1119.2,591.3 1120.9,590.2 1122.5,589.1 1124.1,587.9 1125.8,586.7 1127.4,585.4 1129.1,584.1 1130.8,582.7 1132.5,581.4 1134.3,580.1 1136.1,578.9 1137.9,577.9 1139.7,577.0 1141.5,576.4 1143.3,576.1 1145.1,576.1 1146.9,576.5 1148.6,577.2 1150.3,578.1 1151.9,579.3 1153.4,580.7 1154.8,582.2 1156.1,583.7 1157.4,585.3 1158.5,586.9 1159.6,588.6 1160.6,590.3 1161.6,592.1 1162.5,593.8 1163.4,595.6 1164.3,597.4 1165.2,599.2 1166.1,601.1 1167.0,602.9 1168.0,604.7 1169.0,606.5 1170.0,608.3 1171.0,610.1 1172.1,611.8 1173.2,613.6 1174.3,615.3 1175.4,617.0 1176.6,618.7 1177.8,620.3 1179.1,621.9 1180.3,623.5 1181.6,625.0 1183.0,626.5 1184.4,628.0 1185.8,629.4 1187.3,630.7 1188.8,632.0 1190.3,633.2 1191.9,634.4 1193.5,635.5 1195.1,636.6 1196.8,637.6 1198.5,638.6 1200.3,639.5 1202.1,640.3 1203.9,641.1 1205.7,641.9 1207.5,642.6 1209.4,643.3 1211.3,643.9 1213.2,644.5 1215.2,645.0 1217.1,645.5 1219.1,646.0 1221.1,646.4 1223.0,646.8 1225.0,647.2 1227.0,647.5 1229.0,647.8 1231.1,648.1 1233.1,648.4 1235.1,648.6 1237.1,648.8 1239.1,649.0 1241.1,649.2 1243.1,649.3 1245.1,649.4 1247.1,649.5 1249.1,649.6 1251.1,649.7 1253.1,649.7 1255.1,649.8 1257.2,649.8 1259.2,649.8 1261.2,649.8 1263.2,649.7 1265.2,649.7 1267.2,649.6 1269.2,649.5 1271.1,649.5 1273.1,649.4 1275.1,649.3 1277.1,649.1 1279.1,649.0 1281.1,648.9 1283.1,648.7 1285.1,648.6 1287.1,648.4 1289.1,648.3 1291.1,648.1 1293.1,647.9 1295.1,647.7 1297.1,647.5 1299.1,647.3 1301.1,647.1 1303.1,647.0 1305.1,646.8 1307.1,646.6 1309.1,646.4 1311.1,646.2 1313.0,646.0 1315.0,645.8 1317.0,645.6 1319.0,645.4 1321.0,645.2 1323.0,645.0 1325.0,644.8 1327.0,644.7 1329.0,644.5 1331.0,644.3 1333.0,644.1 1335.0,643.9 1337.0,643.8 1339.0,643.6 1341.0,643.4 1343.0,643.3 1345.0,643.1 1347.0,642.9 1349.0,642.7 1351.0,642.6 1353.0,642.4 1355.0,642.2 1357.0,642.1 1359.0,641.9 1360.9,641.7 1362.9,641.5 1364.9,641.4 1366.9,641.2 1368.9,641.0 1370.9,640.8 1372.9,640.7 1374.9,640.5 1376.9,640.3 1378.9,640.1 1380.9,639.9 1382.9,639.8 1384.9,639.6 1386.9,639.4 1388.9,639.2 1390.9,639.0 1392.9,638.8 1394.9,638.6 1396.9,638.4 1398.8,638.2 1400.8,638.0 1402.8,637.8 1404.8,637.6 1406.8,637.3 1408.8,637.1 1410.8,636.9 1412.8,636.7 1414.8,636.4 1416.8,636.2 1418.7,636.0 1420.7,635.7 1422.7,635.5 1424.7,635.2 1426.7,635.0 1428.7,634.7 1430.7,634.4 1432.6,634.1 1434.6,633.9 1436.6,633.6 1438.6,633.3 1440.6,633.0 1442.6,632.7 1444.5,632.4 1446.5,632.1 1448.5,631.8 1450.5,631.4 1452.5,631.1 1454.4,630.8 1456.4,630.4 1458.4,630.1 1460.4,629.7 1462.4,629.4 1464.3,629.0 1466.3,628.6 1468.3,628.2 1470.2,627.8 1472.2,627.4 1474.2,627.0 1476.2,626.6 1478.1,626.2 1480.1,625.7 1482.0,625.2 1484.0,624.8 1485.9,624.3 1487.9,623.7 1489.8,623.2 1491.7,622.6 1493.6,622.0 1495.4,621.3 1497.3,620.7 1499.1,619.9 1501.0,619.2 1502.8,618.4 1504.6,617.6 1506.3,616.7 1508.1,615.8 1509.8,614.8 1511.4,613.7 1513.1,612.7 1514.7,611.5 1516.3,610.3 1517.9,609.1 1519.4,607.7 1520.9,606.4 1522.4,605.0 1523.9,603.5 1525.3,602.1 1526.8,600.6 1528.2,599.1 1529.6,597.6 1531.0,596.0 1532.4,594.5 1533.8,593.0 1535.2,591.5 1536.6,590.1 1538.0,588.6 1539.4,587.2 1540.8,585.8 1542.2,584.4 1543.6,582.9 1545.0,581.5 1546.4,580.1 1547.7,578.7 1549.0,577.2 1550.3,575.7 1551.6,574.2 1552.9,572.7 1554.1,571.1 1555.3,569.6 1556.5,567.9 1557.7,566.3 1558.8,564.6 1560.0,562.9 1561.1,561.3 1562.3,559.6 1563.5,557.9 1564.7,556.3 1565.9,554.7 1567.1,553.1 1568.4,551.6 1569.8,550.2 1571.2,548.7 1572.7,547.4 1574.2,546.1 1575.8,544.9 1577.5,543.8 1579.2,542.8 1581.0,541.8 1582.8,541.0 1584.6,540.1 1586.5,539.4 1588.5,538.7 1590.4,538.2 1592.4,537.6 1594.4,537.2 1596.4,536.8 1598.4,536.6 1600.4,536.4 1602.3,536.3 1604.3,536.4 1606.3,536.5 1608.2,536.8 1610.2,537.1 1612.1,537.6 1614.0,538.1 1615.9,538.7 1617.8,539.4 1619.7,540.2 1621.5,540.9 1623.4,541.8 1625.3,542.6 1627.1,543.5 1629.0,544.3 1630.8,545.2 1632.7,546.1 1634.6,546.9 1636.4,547.7 1638.3,548.5 1640.2,549.2 1642.1,549.8 1644.0,550.5 1645.9,551.0 1647.9,551.5 1649.8,551.9 1651.7,552.3 1653.7,552.6 1655.7,552.9 1657.6,553.1 1659.6,553.3 1661.6,553.5 1663.6,553.6 1665.5,553.6 1667.5,553.7 1669.5,553.7 1671.5,553.6 1673.5,553.5 1675.5,553.4 1677.5,553.3 1679.5,553.1 1681.5,552.9 1683.5,552.7 1685.6,552.5 1687.6,552.2 1689.6,552.0 1691.6,551.7 1693.6,551.4 1695.6,551.1 1697.6,550.7 1699.5,550.4 1701.5,550.1 1703.5,549.7 1705.5,549.4 1707.5,549.0 1709.4,548.6 1711.4,548.3 1713.4,547.9 1715.3,547.5 1717.3,547.1 1719.3,546.8 1721.2,546.4 1723.2,546.0 1725.2,545.6 1727.1,545.2 1729.1,544.8 1731.0,544.5 1733.0,544.1 1735.0,543.7 1736.9,543.3 1738.9,543.0 1740.8,542.6 1742.8,542.3 1744.8,541.9 1746.7,541.6 1748.7,541.2 1750.7,540.9 1752.6,540.6 1754.6,540.3 1756.6,540.0 1758.5,539.7 1760.5,539.5 1762.5,539.2 1764.5,539.0 1766.5,538.7 1768.5,538.5 1770.5,538.3 1772.4,538.1 1774.5,538.0 1776.5,537.8 1778.5,537.7 1780.5,537.6 1782.5,537.5 1784.5,537.4 1786.6,537.4 1788.6,537.4 1788.6,633.6 1788.5,635.6 1788.4,637.6 1788.3,639.7 1788.2,641.7 1788.0,643.7 1787.8,645.7 1787.5,647.7 1787.2,649.7 1786.9,651.7 1786.6,653.6 1786.2,655.6 1785.8,657.6 1785.3,659.5 1784.8,661.4 1784.3,663.3 1783.8,665.2 1783.1,667.1 1782.5,669.0 1781.8,670.9 1781.1,672.7 1780.3,674.6 1779.5,676.4 1778.7,678.2 1777.8,680.0 1776.8,681.7 1775.9,683.5 1774.8,685.2 1773.8,686.9 1772.7,688.6 1771.5,690.3 1770.3,691.9 1769.1,693.5 1767.8,695.1 1766.5,696.6 1765.2,698.1 1763.8,699.6 1762.4,701.0 1760.9,702.4 1759.4,703.8 1757.9,705.1 1756.3,706.4 1754.8,707.6 1753.1,708.8 1751.5,709.9 1749.8,711.0 1748.1,712.1 1746.3,713.1 1744.6,714.1 1742.8,715.0 1741.0,715.9 1739.2,716.8 1737.4,717.7 1735.5,718.6 1733.7,719.4 1731.8,720.2 1730.0,721.1 1728.1,721.9 1726.2,722.7 1724.4,723.5 1722.5,724.3 1720.7,725.2 1718.8,726.0 1717.0,726.8 1715.2,727.7 1713.4,728.6 1711.6,729.5 1709.8,730.4 1708.0,731.3 1706.2,732.2 1704.5,733.2 1702.7,734.1 1701.0,735.1 1699.2,736.0 1697.5,737.0 1695.8,738.0 1694.1,739.0 1692.4,740.0 1690.7,741.1 1689.0,742.1 1687.3,743.2 1685.6,744.2 1684.0,745.3 1682.3,746.4 1680.6,747.4 1679.0,748.5 1677.3,749.6 1675.7,750.7 1674.0,751.9 1672.4,753.0 1670.8,754.1 1669.1,755.2 1667.5,756.4 1665.9,757.5 1664.3,758.7 1662.6,759.9 1661.0,761.0 1659.4,762.2 1657.8,763.4 1656.2,764.6 1654.6,765.8 1653.0,767.0 1651.4,768.1 1649.8,769.4 1648.2,770.6 1646.6,771.8 1645.0,773.0 1643.4,774.2 1641.8,775.4 1640.2,776.6 1638.6,777.9 1637.0,779.1 1635.4,780.3 1633.8,781.5 1632.1,782.8 1630.5,784.0 1628.9,785.2 1627.3,786.5 1625.7,787.7 1624.1,788.9 1622.4,790.2 1620.8,791.4 1619.2,792.6 1617.5,793.9 1615.9,795.1 1614.2,796.3 1612.6,797.5 1610.9,798.7 1609.2,799.9 1607.6,801.1 1605.9,802.2 1604.2,803.3 1602.5,804.4 1600.8,805.4 1599.0,806.4 1597.3,807.4 1595.5,808.3 1593.8,809.1 1592.0,809.9 1590.2,810.7 1588.4,811.3 1586.5,811.9 1584.7,812.5 1582.8,812.9 1580.9,813.3 1579.0,813.6 1577.1,813.8 1575.2,814.0 1573.2,814.0 1571.2,813.9 1569.2,813.8 1567.2,813.6 1565.2,813.3 1563.2,812.9 1561.1,812.5 1559.1,811.9 1557.1,811.4 1555.1,810.8 1553.1,810.1 1551.1,809.4 1549.2,808.7 1547.3,807.9 1545.4,807.1 1543.5,806.3 1541.7,805.5 1539.9,804.6 1538.1,803.7 1536.3,802.7 1534.5,801.8 1532.7,800.8 1531.0,799.8 1529.3,798.8 1527.6,797.8 1525.9,796.8 1524.2,795.7 1522.5,794.7 1520.8,793.6 1519.2,792.5 1517.5,791.4 1515.9,790.3 1514.2,789.2 1512.6,788.1 1510.9,787.0 1509.3,785.9 1507.6,784.8 1506.0,783.7 1504.3,782.6 1502.6,781.5 1501.0,780.4 1499.3,779.3 1497.6,778.2 1495.9,777.1 1494.2,776.1 1492.5,775.0 1490.8,773.9 1489.1,772.9 1487.4,771.8 1485.7,770.8 1483.9,769.8 1482.2,768.7 1480.5,767.7 1478.8,766.6 1477.0,765.6 1475.3,764.5 1473.6,763.5 1471.9,762.4 1470.2,761.3 1468.5,760.3 1466.8,759.2 1465.1,758.1 1463.4,757.0 1461.7,755.9 1460.0,754.8 1458.3,753.8 1456.6,752.7 1454.9,751.6 1453.2,750.6 1451.5,749.5 1449.7,748.5 1448.0,747.5 1446.3,746.5 1444.5,745.6 1442.8,744.6 1441.0,743.7 1439.2,742.8 1437.4,741.9 1435.6,741.1 1433.8,740.3 1432.0,739.5 1430.1,738.8 1428.2,738.0 1426.4,737.3 1424.5,736.6 1422.6,735.9 1420.7,735.3 1418.8,734.6 1416.9,734.0 1415.0,733.3 1413.1,732.7 1411.2,732.0 1409.3,731.4 1407.3,730.8 1405.4,730.1 1403.5,729.5 1401.6,728.8 1399.7,728.2 1397.8,727.5 1395.9,726.9 1394.0,726.3 1392.0,725.7 1390.1,725.1 1388.2,724.5 1386.3,723.9 1384.4,723.3 1382.4,722.8 1380.5,722.2 1378.6,721.7 1376.7,721.2 1374.7,720.8 1372.8,720.3 1370.8,719.9 1368.9,719.5 1366.9,719.1 1365.0,718.7 1363.0,718.4 1361.1,718.1 1359.1,717.8 1357.1,717.5 1355.1,717.2 1353.2,717.0 1351.2,716.8 1349.2,716.6 1347.2,716.4 1345.2,716.2 1343.2,716.1 1341.2,715.9 1339.2,715.8 1337.2,715.6 1335.2,715.5 1333.2,715.4 1331.2,715.3 1329.2,715.2 1327.2,715.1 1325.2,715.0 1323.2,714.9 1321.2,714.8 1319.1,714.7 1317.1,714.6 1315.1,714.4 1313.1,714.3 1311.1,714.2 1309.0,714.1 1307.0,714.0 1305.0,713.8 1303.0,713.7 1300.9,713.5 1298.9,713.3 1296.9,713.2 1294.8,713.0 1292.8,712.8 1290.8,712.7 1288.8,712.5 1286.8,712.3 1284.7,712.2 1282.7,712.0 1280.7,711.8 1278.7,711.7 1276.7,711.5 1274.7,711.4 1272.7,711.2 1270.7,711.1 1268.7,711.0 1266.7,710.9 1264.8,710.8 1262.8,710.8 1260.8,710.7 1258.9,710.7 1256.9,710.7 1254.9,710.7 1253.0,710.7 1251.0,710.7 1249.1,710.7 1247.1,710.8 1245.2,710.9 1243.2,711.0 1241.3,711.1 1239.3,711.2 1237.3,711.3 1235.3,711.5 1233.3,711.6 1231.3,711.8 1229.3,712.0 1227.2,712.2 1225.2,712.4 1223.2,712.7 1221.1,712.9 1219.1,713.2 1217.0,713.5 1215.0,713.8 1213.0,714.2 1210.9,714.6 1208.9,715.0 1206.9,715.4 1204.9,715.9 1202.9,716.4 1200.9,717.0 1199.0,717.5 1197.1,718.2 1195.1,718.8 1193.3,719.5 1191.4,720.2 1189.5,721.0 1187.7,721.8 1185.9,722.7 1184.2,723.6 1182.5,724.6 1180.8,725.6 1179.1,726.6 1177.5,727.8 1176.0,728.9 1174.4,730.1 1172.9,731.4 1171.5,732.8 1170.1,734.2 1168.8,735.6 1167.5,737.1 1166.2,738.7 1165.0,740.3 1163.8,742.0 1162.7,743.7 1161.6,745.4 1160.5,747.2 1159.4,748.9 1158.3,750.7 1157.2,752.4 1156.1,754.2 1155.0,755.9 1153.8,757.6 1152.7,759.3 1151.5,761.0 1150.3,762.6 1149.0,764.1 1147.7,765.6 1146.3,767.0 1144.9,768.3 1143.3,769.6 1141.8,770.7 1140.1,771.8 1138.4,772.7 1136.7,773.4 1134.9,773.9 1133.0,774.1 1131.2,774.1 1129.3,773.9 1127.4,773.4 1125.5,772.8 1123.6,772.1 1121.7,771.3 1119.8,770.4 1117.9,769.5 1116.0,768.6 1114.1,767.7 1112.3,766.9 1110.4,766.1 1108.5,765.3 1106.6,764.6 1104.6,764.0 1102.6,763.4 1100.5,762.9 1098.4,762.5 1096.3,762.2 1094.2,762.0 1092.1,762.0 1090.0,762.0 1088.0,762.2 1086.1,762.5 1084.2,762.9 1082.3,763.4 1080.5,764.1 1078.7,764.8 1077.0,765.6 1075.3,766.5 1073.7,767.5 1072.1,768.6 1070.5,769.8 1069.0,771.0 1067.5,772.3 1066.1,773.6 1064.6,775.1 1063.3,776.5 1061.9,778.0 1060.6,779.6 1059.3,781.2 1058.1,782.8 1056.8,784.5 1055.6,786.1 1054.5,787.8 1053.3,789.5 1052.2,791.3 1051.1,793.0 1050.0,794.7 1048.9,796.4 1047.9,798.1 1046.9,799.8 1045.8,801.5 1044.8,803.2 1043.8,804.9 1042.8,806.6 1041.8,808.3 1040.8,810.0 1039.8,811.7 1038.8,813.5 1037.8,815.2 1036.8,817.0 1035.7,818.7 1034.6,820.5 1033.5,822.3 1032.3,824.0 1031.1,825.7 1029.8,827.3 1028.5,828.9 1027.0,830.2 1025.5,831.5 1023.8,832.5 1022.0,833.4 1020.1,834.0 1018.1,834.5 1016.1,834.7 1014.1,834.8 1012.0,834.8 1010.0,834.6 1008.0,834.2 1006.1,833.8 1004.3,833.2 1002.5,832.5 1000.7,831.7 999.0,830.8 997.4,829.8 995.8,828.8 994.2,827.6 992.6,826.4 991.1,825.2 989.6,823.9 988.1,822.5 986.6,821.1 985.1,819.7 983.7,818.2 982.2,816.8 980.7,815.3 979.3,813.9 977.8,812.4 976.3,810.9 974.8,809.5 973.2,808.1 971.7,806.8 970.1,805.5 968.5,804.2 966.8,803.0 965.2,801.8 963.4,800.7 961.7,799.7 959.9,798.7 958.2,797.8 956.4,796.9 954.5,796.1 952.7,795.3 950.8,794.6 948.9,794.0 947.0,793.4 945.1,792.8 943.2,792.4 941.2,792.0 939.3,791.6 937.3,791.4 935.4,791.1 933.4,790.9 931.4,790.8 929.4,790.7 927.4,790.7 925.4,790.8 923.4,790.8 921.4,790.9 919.4,791.1 917.4,791.3 915.4,791.6 913.4,791.8 911.4,792.2 909.4,792.5 907.4,792.9 905.5,793.3 903.5,793.8 901.5,794.3 899.5,794.8 897.6,795.3 895.6,795.9 893.7,796.5 891.7,797.1 889.8,797.7 887.9,798.4 886.0,799.0 884.1,799.7 882.3,800.4 880.4,801.1 878.5,801.9 876.7,802.7 874.9,803.4 873.0,804.2 871.2,805.1 869.4,805.9 867.6,806.8 865.9,807.6 864.1,808.5 862.3,809.5 860.6,810.4 858.8,811.3 857.1,812.3 855.4,813.3 853.6,814.3 851.9,815.3 850.2,816.4 848.5,817.4 846.8,818.5 845.2,819.6 843.5,820.7 841.8,821.8 840.2,823.0 838.5,824.1 836.9,825.3 835.2,826.5 833.6,827.7 832.0,828.9 830.4,830.2 828.8,831.5 827.3,832.8 825.8,834.1 824.3,835.4 822.8,836.8 821.4,838.2 820.0,839.7 818.6,841.1 817.3,842.6 816.0,844.1 814.7,845.6 813.4,847.2 812.2,848.8 811.0,850.4 809.8,852.0 808.7,853.6 807.5,855.2 806.4,856.9 805.3,858.6 804.2,860.3 803.2,862.0 802.1,863.7 801.1,865.4 800.1,867.2 799.1,868.9 798.1,870.7 797.2,872.4 796.2,874.2 795.3,876.0 794.3,877.8 793.4,879.6 792.5,881.4 791.6,883.2 790.7,885.0 789.8,886.7 788.9,888.5 788.0,890.3 787.2,892.1 786.3,893.9 785.4,895.7" stroke="#111111" class="cv"/>
</g>
<path d="M838.2,898.6v-7M838.2,495.3v7M943.8,898.6v-7M943.8,495.3v7M1049.4,898.6v-7M1049.4,495.3v7M1155.0,898.6v-7M1155.0,495.3v7M759.0,898.6v-5.5M759.0,495.3v5.5M785.4,898.6v-5.5M785.4,495.3v5.5M811.8,898.6v-5.5M811.8,495.3v5.5M864.6,898.6v-5.5M864.6,495.3v5.5M891.0,898.6v-5.5M891.0,495.3v5.5M917.4,898.6v-5.5M917.4,495.3v5.5M970.2,898.6v-5.5M970.2,495.3v5.5M996.6,898.6v-5.5M996.6,495.3v5.5M1023.0,898.6v-5.5M1023.0,495.3v5.5M1075.8,898.6v-5.5M1075.8,495.3v5.5M1102.2,898.6v-5.5M1102.2,495.3v5.5M1128.6,898.6v-5.5M1128.6,495.3v5.5M1181.4,898.6v-5.5M1181.4,495.3v5.5M1207.8,898.6v-5.5M1207.8,495.3v5.5M1234.2,898.6v-5.5M1234.2,495.3v5.5M732.6,841.0h7M1260.6,841.0h-7M732.6,783.4h7M1260.6,783.4h-7M732.6,725.8h7M1260.6,725.8h-7M732.6,668.1h7M1260.6,668.1h-7M732.6,610.5h7M1260.6,610.5h-7M732.6,552.9h7M1260.6,552.9h-7M732.6,869.8h5.5M1260.6,869.8h-5.5M732.6,812.2h5.5M1260.6,812.2h-5.5M732.6,754.6h5.5M1260.6,754.6h-5.5M732.6,697.0h5.5M1260.6,697.0h-5.5M732.6,639.3h5.5M1260.6,639.3h-5.5M732.6,581.7h5.5M1260.6,581.7h-5.5M732.6,524.1h5.5M1260.6,524.1h-5.5" class="tk"/>
<rect x="732.6" y="495.3" width="528.0" height="403.3" class="fr"/>
<text transform="translate(732.6,928.0) scale(0.95,1)" class="tl" text-anchor="middle">0.0</text>
<text transform="translate(838.2,928.0) scale(0.95,1)" class="tl" text-anchor="middle">0.1</text>
<text transform="translate(943.8,928.0) scale(0.95,1)" class="tl" text-anchor="middle">0.2</text>
<text transform="translate(1049.4,928.0) scale(0.95,1)" class="tl" text-anchor="middle">0.3</text>
<text transform="translate(1155.0,928.0) scale(0.95,1)" class="tl" text-anchor="middle">0.4</text>
<text transform="translate(1260.6,928.0) scale(0.95,1)" class="tl" text-anchor="middle">0.5</text>
<text transform="translate(724.0,503.4) scale(0.97,1)" class="tl" text-anchor="end">60</text>
<text transform="translate(724.0,561.1) scale(0.97,1)" class="tl" text-anchor="end">40</text>
<text transform="translate(724.0,618.7) scale(0.97,1)" class="tl" text-anchor="end">20</text>
<text transform="translate(724.0,676.3) scale(0.97,1)" class="tl" text-anchor="end">0</text>
<text transform="translate(724.0,733.9) scale(0.97,1)" class="tl" text-anchor="end">-20</text>
<text transform="translate(724.0,791.5) scale(0.97,1)" class="tl" text-anchor="end">-40</text>
<text transform="translate(724.0,849.1) scale(0.97,1)" class="tl" text-anchor="end">-60</text>
<text transform="translate(724.0,906.8) scale(0.97,1)" class="tl" text-anchor="end">-80</text>
<text x="996.6" y="956.1" font-size="27.2" text-anchor="middle">E vs RHE [V]</text>
<text x="743.1" y="532.6" class="nm">poly-Pt</text>
<text x="1233.9" y="528.0" class="lt" text-anchor="end">d</text>
<text transform="translate(28.6,279.0) rotate(-90)" font-size="28.0" letter-spacing="0.45">j [µA cm<tspan dy="-13.4" font-size="16.9">-2</tspan><tspan dy="24.7" font-size="16.9">Pt</tspan><tspan dy="-11.3">]</tspan></text>
<text transform="translate(684,281.3) rotate(-90)" font-size="26.8" letter-spacing="0.25">j [µA cm<tspan dy="-12.8" font-size="16.2">-2</tspan><tspan dy="23.7" font-size="16.2">Pt</tspan><tspan dy="-10.8">]</tspan></text>
<text transform="translate(44.5,768.3) rotate(-90)" font-size="27.5" letter-spacing="0.3">j [µA cm<tspan dy="-13.2" font-size="16.6">-2</tspan><tspan dy="24.3" font-size="16.6">Pt</tspan><tspan dy="-11.1">]</tspan></text>
<text transform="translate(683.5,767.3) rotate(-90)" font-size="27.2" letter-spacing="0.3">j [µA cm<tspan dy="-13.0" font-size="16.4">-2</tspan><tspan dy="24.0" font-size="16.4">Pt</tspan><tspan dy="-11.0">]</tspan></text>
<line x1="484" y1="335.9" x2="543.7" y2="335.9" stroke="#2b2bd6" stroke-width="3"/>
<text x="549.7" y="345.2" font-size="26">LiOH</text>
<line x1="484" y1="367.4" x2="543.7" y2="367.4" stroke="#e02828" stroke-width="3"/>
<text x="549.7" y="376.7" font-size="26">NaOH</text>
<line x1="484" y1="398.9" x2="543.7" y2="398.9" stroke="#111111" stroke-width="3"/>
<text x="549.7" y="408.2" font-size="26">KOH</text>
<line x1="470.7" y1="816.0" x2="528.6" y2="816.0" stroke="#2b2bd6" stroke-width="3"/>
<text x="533.9" y="825.6" font-size="25.5">LiOH</text>
<line x1="470.7" y1="847.1" x2="528.6" y2="847.1" stroke="#e02828" stroke-width="3"/>
<text x="533.9" y="856.7" font-size="25.5">NaOH</text>
<line x1="470.7" y1="878.2" x2="528.6" y2="878.2" stroke="#111111" stroke-width="3"/>
<text x="533.9" y="887.8" font-size="25.5">KOH</text>
<line x1="1118" y1="336.8" x2="1175.5" y2="336.8" stroke="#2b2bd6" stroke-width="3"/>
<text x="1181.5" y="345.0" font-size="25.2">LiOH</text>
<line x1="1118" y1="367.7" x2="1175.5" y2="367.7" stroke="#e02828" stroke-width="3"/>
<text x="1181.5" y="375.9" font-size="25.2">NaOH</text>
<line x1="1118" y1="398.5" x2="1175.5" y2="398.5" stroke="#111111" stroke-width="3"/>
<text x="1181.5" y="406.7" font-size="25.2">KOH</text>
<line x1="1106" y1="811.9" x2="1167" y2="811.9" stroke="#2b2bd6" stroke-width="3"/>
<text x="1173" y="821.5" font-size="27">LiOH</text>
<line x1="1106" y1="845.0" x2="1167" y2="845.0" stroke="#e02828" stroke-width="3"/>
<text x="1173" y="854.6" font-size="27">NaOH</text>
<line x1="1106" y1="878.2" x2="1167" y2="878.2" stroke="#111111" stroke-width="3"/>
<text x="1173" y="887.8" font-size="27">KOH</text>
<line x1="388.75" y1="83.75" x2="404.6" y2="108.6" stroke="#111" stroke-width="2.2"/><path d="M410,117L401.1,110.8L408.2,106.3Z" fill="#111"/>
<line x1="1055.7" y1="85.5" x2="1070.6" y2="109.1" stroke="#111" stroke-width="2.2"/><path d="M1076,117.5L1067.1,111.3L1074.2,106.8Z" fill="#111"/>
</svg></body></html>
